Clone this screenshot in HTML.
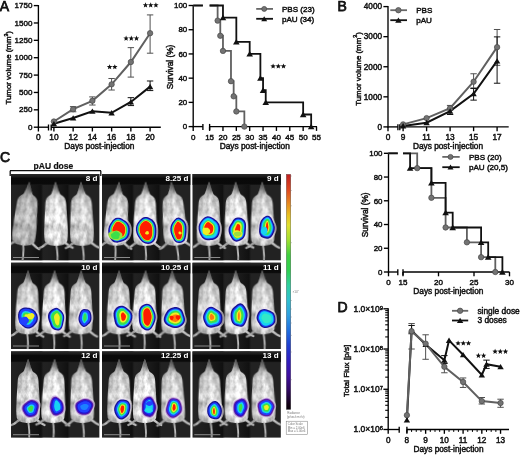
<!DOCTYPE html>
<html><head><meta charset="utf-8"><style>
html,body{margin:0;padding:0;background:#fff;}
svg{display:block;will-change:transform;filter:blur(0.3px);}
text{font-family:"Liberation Sans",sans-serif;}
</style></head><body>
<svg width="520" height="455" viewBox="0 0 520 455">
<defs>
<radialGradient id="mgA" cx="0.5" cy="0.55" r="0.6">
<stop offset="0" stop-color="#f0f0f0"/><stop offset="0.6" stop-color="#e2e2e2"/><stop offset="1" stop-color="#b4b4b4"/>
</radialGradient>
<radialGradient id="mgB" cx="0.5" cy="0.55" r="0.6">
<stop offset="0" stop-color="#dedede"/><stop offset="0.6" stop-color="#d0d0d0"/><stop offset="1" stop-color="#a6a6a6"/>
</radialGradient>
<radialGradient id="mgC" cx="0.5" cy="0.55" r="0.6">
<stop offset="0" stop-color="#c6c6c6"/><stop offset="0.6" stop-color="#b6b6b6"/><stop offset="1" stop-color="#929292"/>
</radialGradient>
<linearGradient id="cb" x1="0" y1="0" x2="0" y2="1">
<stop offset="0" stop-color="#c02020"/>
<stop offset="0.067" stop-color="#e04a20"/>
<stop offset="0.13" stop-color="#e89020"/>
<stop offset="0.173" stop-color="#e8c020"/>
<stop offset="0.216" stop-color="#e0e030"/>
<stop offset="0.28" stop-color="#a0e030"/>
<stop offset="0.344" stop-color="#40d040"/>
<stop offset="0.408" stop-color="#30d050"/>
<stop offset="0.472" stop-color="#30d0a0"/>
<stop offset="0.535" stop-color="#30c0d0"/>
<stop offset="0.598" stop-color="#30a0e0"/>
<stop offset="0.663" stop-color="#2070e0"/>
<stop offset="0.727" stop-color="#2040d0"/>
<stop offset="0.79" stop-color="#3020c0"/>
<stop offset="0.854" stop-color="#4010a0"/>
<stop offset="0.918" stop-color="#300860"/>
<stop offset="0.982" stop-color="#100010"/>
<stop offset="1" stop-color="#080008"/>
</linearGradient>
<linearGradient id="hs" x1="0" y1="0" x2="0" y2="1">
<stop offset="0" stop-color="#000" stop-opacity="0.6"/>
<stop offset="0.1" stop-color="#000" stop-opacity="0.4"/>
<stop offset="0.22" stop-color="#000" stop-opacity="0.12"/>
<stop offset="0.32" stop-color="#000" stop-opacity="0"/>
</linearGradient>
<linearGradient id="topband" x1="0" y1="0" x2="0" y2="1">
<stop offset="0" stop-color="#2a2a2a"/>
<stop offset="0.25" stop-color="#1a1a1a"/>
<stop offset="0.4" stop-color="#090909"/>
<stop offset="0.9" stop-color="#0a0a0a"/>
<stop offset="1" stop-color="#1a1a1a"/>
</linearGradient>
<linearGradient id="stripes" x1="0" y1="0" x2="1" y2="0">
<stop offset="0" stop-color="#1a1a1a" stop-opacity="0"/>
<stop offset="0.34" stop-color="#0c0c0c" stop-opacity="0.8"/>
<stop offset="0.37" stop-color="#1a1a1a" stop-opacity="0"/>
<stop offset="0.64" stop-color="#0c0c0c" stop-opacity="0.8"/>
<stop offset="0.67" stop-color="#1a1a1a" stop-opacity="0"/>
<stop offset="1" stop-color="#1a1a1a" stop-opacity="0"/>
</linearGradient>
<filter id="bl1" color-interpolation-filters="sRGB" x="-20%" y="-20%" width="140%" height="140%">
<feTurbulence type="fractalNoise" baseFrequency="0.22 0.12" numOctaves="3" seed="7" result="n"/>
<feColorMatrix in="n" type="matrix" values="1 0 0 0 0  1 0 0 0 0  1 0 0 0 0  0 0 0 0 1" result="g"/>
<feComposite in="SourceGraphic" in2="g" operator="arithmetic" k1="0.7" k2="0.65" k3="0" k4="0" result="m"/>
<feGaussianBlur in="m" stdDeviation="0.65"/>
</filter>
<filter id="bl2" x="-20%" y="-20%" width="140%" height="140%"><feGaussianBlur stdDeviation="0.45"/></filter>
</defs>
<rect width="520" height="455" fill="#fff"/>
<line x1="38.4" y1="5" x2="38.4" y2="127.8" stroke="#000" stroke-width="1.35"/>
<line x1="33.8" y1="127.2" x2="38.4" y2="127.2" stroke="#000" stroke-width="1.35"/>
<text x="32.4" y="129.8" font-size="8.0" text-anchor="end" font-weight="normal" fill="#111" stroke="#111" stroke-width="0.46" >0</text>
<line x1="33.8" y1="109.83" x2="38.4" y2="109.83" stroke="#000" stroke-width="1.35"/>
<text x="32.4" y="112.43" font-size="8.0" text-anchor="end" font-weight="normal" fill="#111" stroke="#111" stroke-width="0.46" >250</text>
<line x1="33.8" y1="92.46" x2="38.4" y2="92.46" stroke="#000" stroke-width="1.35"/>
<text x="32.4" y="95.06" font-size="8.0" text-anchor="end" font-weight="normal" fill="#111" stroke="#111" stroke-width="0.46" >500</text>
<line x1="33.8" y1="75.09" x2="38.4" y2="75.09" stroke="#000" stroke-width="1.35"/>
<text x="32.4" y="77.69" font-size="8.0" text-anchor="end" font-weight="normal" fill="#111" stroke="#111" stroke-width="0.46" >750</text>
<line x1="33.8" y1="57.71" x2="38.4" y2="57.71" stroke="#000" stroke-width="1.35"/>
<text x="32.4" y="60.31" font-size="8.0" text-anchor="end" font-weight="normal" fill="#111" stroke="#111" stroke-width="0.46" >1000</text>
<line x1="33.8" y1="40.34" x2="38.4" y2="40.34" stroke="#000" stroke-width="1.35"/>
<text x="32.4" y="42.94" font-size="8.0" text-anchor="end" font-weight="normal" fill="#111" stroke="#111" stroke-width="0.46" >1250</text>
<line x1="33.8" y1="22.97" x2="38.4" y2="22.97" stroke="#000" stroke-width="1.35"/>
<text x="32.4" y="25.57" font-size="8.0" text-anchor="end" font-weight="normal" fill="#111" stroke="#111" stroke-width="0.46" >1500</text>
<line x1="33.8" y1="5.6" x2="38.4" y2="5.6" stroke="#000" stroke-width="1.35"/>
<text x="32.4" y="8.2" font-size="8.0" text-anchor="end" font-weight="normal" fill="#111" stroke="#111" stroke-width="0.46" >1750</text>
<line x1="37.8" y1="127.2" x2="48.5" y2="127.2" stroke="#000" stroke-width="1.35"/>
<line x1="51.2" y1="127.2" x2="160.8" y2="127.2" stroke="#000" stroke-width="1.35"/>
<line x1="48.5" y1="124.5" x2="48.5" y2="130.5" stroke="#000" stroke-width="1.35"/>
<line x1="51.2" y1="124.5" x2="51.2" y2="130.5" stroke="#000" stroke-width="1.35"/>
<line x1="38.4" y1="127.2" x2="38.4" y2="131.5" stroke="#000" stroke-width="1.35"/>
<text x="38.4" y="139.6" font-size="8.4" text-anchor="middle" font-weight="normal" fill="#111" stroke="#111" stroke-width="0.46" >0</text>
<line x1="53.9" y1="127.2" x2="53.9" y2="131.5" stroke="#000" stroke-width="1.35"/>
<text x="53.9" y="139.6" font-size="8.4" text-anchor="middle" font-weight="normal" fill="#111" stroke="#111" stroke-width="0.46" >10</text>
<line x1="73.14" y1="127.2" x2="73.14" y2="131.5" stroke="#000" stroke-width="1.35"/>
<text x="73.14" y="139.6" font-size="8.4" text-anchor="middle" font-weight="normal" fill="#111" stroke="#111" stroke-width="0.46" >12</text>
<line x1="92.38" y1="127.2" x2="92.38" y2="131.5" stroke="#000" stroke-width="1.35"/>
<text x="92.38" y="139.6" font-size="8.4" text-anchor="middle" font-weight="normal" fill="#111" stroke="#111" stroke-width="0.46" >14</text>
<line x1="111.62" y1="127.2" x2="111.62" y2="131.5" stroke="#000" stroke-width="1.35"/>
<text x="111.62" y="139.6" font-size="8.4" text-anchor="middle" font-weight="normal" fill="#111" stroke="#111" stroke-width="0.46" >16</text>
<line x1="130.86" y1="127.2" x2="130.86" y2="131.5" stroke="#000" stroke-width="1.35"/>
<text x="130.86" y="139.6" font-size="8.4" text-anchor="middle" font-weight="normal" fill="#111" stroke="#111" stroke-width="0.46" >18</text>
<line x1="150.1" y1="127.2" x2="150.1" y2="131.5" stroke="#000" stroke-width="1.35"/>
<text x="150.1" y="139.6" font-size="8.4" text-anchor="middle" font-weight="normal" fill="#111" stroke="#111" stroke-width="0.46" >20</text>
<text x="99.4" y="149.2" font-size="8.3" text-anchor="middle" font-weight="normal" fill="#111" stroke="#111" stroke-width="0.46" >Days post-injection</text>
<text x="11.2" y="67.8" font-size="7.9" text-anchor="middle" transform="rotate(-90 11.2 67.8)" fill="#111" stroke="#111" stroke-width="0.46">Tumor volume (mm<tspan font-size="5.2" dy="-3.2">3</tspan><tspan dy="3.2">)</tspan></text>
<text x="-0.3" y="11.3" font-size="14" text-anchor="start" font-weight="normal" fill="#111" stroke="#111" stroke-width="0.75">A</text>
<line x1="73.14" y1="106.63" x2="73.14" y2="111.77" stroke="#505050" stroke-width="1.0"/>
<line x1="69.94" y1="106.63" x2="76.34" y2="106.63" stroke="#505050" stroke-width="1.0"/>
<line x1="69.94" y1="111.77" x2="76.34" y2="111.77" stroke="#505050" stroke-width="1.0"/>
<line x1="92.38" y1="96.9" x2="92.38" y2="105.03" stroke="#505050" stroke-width="1.0"/>
<line x1="89.18" y1="96.9" x2="95.58" y2="96.9" stroke="#505050" stroke-width="1.0"/>
<line x1="89.18" y1="105.03" x2="95.58" y2="105.03" stroke="#505050" stroke-width="1.0"/>
<line x1="111.62" y1="78.49" x2="111.62" y2="90.03" stroke="#505050" stroke-width="1.0"/>
<line x1="108.42" y1="78.49" x2="114.82" y2="78.49" stroke="#505050" stroke-width="1.0"/>
<line x1="108.42" y1="90.03" x2="114.82" y2="90.03" stroke="#505050" stroke-width="1.0"/>
<line x1="130.86" y1="47.64" x2="130.86" y2="77.1" stroke="#505050" stroke-width="1.0"/>
<line x1="127.66" y1="47.64" x2="134.06" y2="47.64" stroke="#505050" stroke-width="1.0"/>
<line x1="127.66" y1="77.1" x2="134.06" y2="77.1" stroke="#505050" stroke-width="1.0"/>
<line x1="150.1" y1="14.91" x2="150.1" y2="53.2" stroke="#505050" stroke-width="1.0"/>
<line x1="146.9" y1="14.91" x2="153.3" y2="14.91" stroke="#505050" stroke-width="1.0"/>
<line x1="146.9" y1="53.2" x2="153.3" y2="53.2" stroke="#505050" stroke-width="1.0"/>
<line x1="130.86" y1="97.67" x2="130.86" y2="105.59" stroke="#111" stroke-width="1.0"/>
<line x1="127.66" y1="97.67" x2="134.06" y2="97.67" stroke="#111" stroke-width="1.0"/>
<line x1="127.66" y1="105.59" x2="134.06" y2="105.59" stroke="#111" stroke-width="1.0"/>
<line x1="150.1" y1="80.99" x2="150.1" y2="90.58" stroke="#111" stroke-width="1.0"/>
<line x1="146.9" y1="80.99" x2="153.3" y2="80.99" stroke="#111" stroke-width="1.0"/>
<line x1="146.9" y1="90.58" x2="153.3" y2="90.58" stroke="#111" stroke-width="1.0"/>
<path d="M53.9 121.5 L73.14 109.2 L92.38 100.8 L111.62 84.33 L130.86 62.02 L150.1 33.19" fill="none" stroke="#606060" stroke-width="2" stroke-linejoin="miter"/>
<path d="M53.9 123.8 L73.14 118.03 L92.38 111.22 L111.62 112.82 L130.86 101.98 L150.1 86.62" fill="none" stroke="#111" stroke-width="2" stroke-linejoin="miter"/>
<circle cx="53.9" cy="121.5" r="2.7" fill="#737373" stroke="#484848" stroke-width="0.7"/>
<circle cx="73.14" cy="109.2" r="2.7" fill="#737373" stroke="#484848" stroke-width="0.7"/>
<circle cx="92.38" cy="100.8" r="2.7" fill="#737373" stroke="#484848" stroke-width="0.7"/>
<circle cx="111.62" cy="84.33" r="2.7" fill="#737373" stroke="#484848" stroke-width="0.7"/>
<circle cx="130.86" cy="62.02" r="2.7" fill="#737373" stroke="#484848" stroke-width="0.7"/>
<circle cx="150.1" cy="33.19" r="2.7" fill="#737373" stroke="#484848" stroke-width="0.7"/>
<path d="M53.9 120.98 L57.1 126.36 L50.7 126.36Z" fill="#111"/>
<path d="M73.14 115.21 L76.34 120.59 L69.94 120.59Z" fill="#111"/>
<path d="M92.38 108.4 L95.58 113.78 L89.18 113.78Z" fill="#111"/>
<path d="M111.62 110 L114.82 115.38 L108.42 115.38Z" fill="#111"/>
<path d="M130.86 99.16 L134.06 104.54 L127.66 104.54Z" fill="#111"/>
<path d="M150.1 83.8 L153.3 89.18 L146.9 89.18Z" fill="#111"/>
<polygon points="109.6,64.15 110.33,65.99 112.31,66.12 110.79,67.39 111.28,69.31 109.6,68.25 107.92,69.31 108.41,67.39 106.89,66.12 108.87,65.99" fill="#111"/>
<polygon points="114.8,64.15 115.53,65.99 117.51,66.12 115.99,67.39 116.48,69.31 114.8,68.25 113.12,69.31 113.61,67.39 112.09,66.12 114.07,65.99" fill="#111"/>
<polygon points="126.1,35.55 126.83,37.39 128.81,37.52 127.29,38.79 127.78,40.71 126.1,39.65 124.42,40.71 124.91,38.79 123.39,37.52 125.37,37.39" fill="#111"/>
<polygon points="131.3,35.55 132.03,37.39 134.01,37.52 132.49,38.79 132.98,40.71 131.3,39.65 129.62,40.71 130.11,38.79 128.59,37.52 130.57,37.39" fill="#111"/>
<polygon points="136.5,35.55 137.23,37.39 139.21,37.52 137.69,38.79 138.18,40.71 136.5,39.65 134.82,40.71 135.31,38.79 133.79,37.52 135.77,37.39" fill="#111"/>
<polygon points="145.5,2.35 146.23,4.19 148.21,4.32 146.69,5.59 147.18,7.51 145.5,6.45 143.82,7.51 144.31,5.59 142.79,4.32 144.77,4.19" fill="#111"/>
<polygon points="150.7,2.35 151.43,4.19 153.41,4.32 151.89,5.59 152.38,7.51 150.7,6.45 149.02,7.51 149.51,5.59 147.99,4.32 149.97,4.19" fill="#111"/>
<polygon points="155.9,2.35 156.63,4.19 158.61,4.32 157.09,5.59 157.58,7.51 155.9,6.45 154.22,7.51 154.71,5.59 153.19,4.32 155.17,4.19" fill="#111"/>
<line x1="193.2" y1="4.9" x2="193.2" y2="127.2" stroke="#000" stroke-width="1.35"/>
<line x1="188.6" y1="126.6" x2="193.2" y2="126.6" stroke="#000" stroke-width="1.35"/>
<text x="187.2" y="129.35" font-size="7.9" text-anchor="end" font-weight="normal" fill="#111" stroke="#111" stroke-width="0.46" >0</text>
<line x1="188.6" y1="102.38" x2="193.2" y2="102.38" stroke="#000" stroke-width="1.35"/>
<text x="187.2" y="105.13" font-size="7.9" text-anchor="end" font-weight="normal" fill="#111" stroke="#111" stroke-width="0.46" >20</text>
<line x1="188.6" y1="78.16" x2="193.2" y2="78.16" stroke="#000" stroke-width="1.35"/>
<text x="187.2" y="80.91" font-size="7.9" text-anchor="end" font-weight="normal" fill="#111" stroke="#111" stroke-width="0.46" >40</text>
<line x1="188.6" y1="53.94" x2="193.2" y2="53.94" stroke="#000" stroke-width="1.35"/>
<text x="187.2" y="56.69" font-size="7.9" text-anchor="end" font-weight="normal" fill="#111" stroke="#111" stroke-width="0.46" >60</text>
<line x1="188.6" y1="29.72" x2="193.2" y2="29.72" stroke="#000" stroke-width="1.35"/>
<text x="187.2" y="32.47" font-size="7.9" text-anchor="end" font-weight="normal" fill="#111" stroke="#111" stroke-width="0.46" >80</text>
<line x1="188.6" y1="5.5" x2="193.2" y2="5.5" stroke="#000" stroke-width="1.35"/>
<text x="187.2" y="8.25" font-size="7.9" text-anchor="end" font-weight="normal" fill="#111" stroke="#111" stroke-width="0.46" >100</text>
<line x1="192.6" y1="126.6" x2="202.9" y2="126.6" stroke="#000" stroke-width="1.35"/>
<line x1="209.6" y1="126.6" x2="317" y2="126.6" stroke="#000" stroke-width="1.35"/>
<line x1="202.9" y1="123.9" x2="202.9" y2="129.9" stroke="#000" stroke-width="1.35"/>
<line x1="209.6" y1="123.9" x2="209.6" y2="129.9" stroke="#000" stroke-width="1.35"/>
<line x1="193.2" y1="126.6" x2="193.2" y2="130.9" stroke="#000" stroke-width="1.35"/>
<text x="193.2" y="140.2" font-size="8.0" text-anchor="middle" font-weight="normal" fill="#111" stroke="#111" stroke-width="0.46" >0</text>
<line x1="209.6" y1="126.6" x2="209.6" y2="130.9" stroke="#000" stroke-width="1.35"/>
<text x="209.6" y="140.2" font-size="8.0" text-anchor="middle" font-weight="normal" fill="#111" stroke="#111" stroke-width="0.46" >15</text>
<line x1="222.97" y1="126.6" x2="222.97" y2="130.9" stroke="#000" stroke-width="1.35"/>
<text x="222.97" y="140.2" font-size="8.0" text-anchor="middle" font-weight="normal" fill="#111" stroke="#111" stroke-width="0.46" >20</text>
<line x1="236.33" y1="126.6" x2="236.33" y2="130.9" stroke="#000" stroke-width="1.35"/>
<text x="236.33" y="140.2" font-size="8.0" text-anchor="middle" font-weight="normal" fill="#111" stroke="#111" stroke-width="0.46" >25</text>
<line x1="249.69" y1="126.6" x2="249.69" y2="130.9" stroke="#000" stroke-width="1.35"/>
<text x="249.69" y="140.2" font-size="8.0" text-anchor="middle" font-weight="normal" fill="#111" stroke="#111" stroke-width="0.46" >30</text>
<line x1="263.06" y1="126.6" x2="263.06" y2="130.9" stroke="#000" stroke-width="1.35"/>
<text x="263.06" y="140.2" font-size="8.0" text-anchor="middle" font-weight="normal" fill="#111" stroke="#111" stroke-width="0.46" >35</text>
<line x1="276.43" y1="126.6" x2="276.43" y2="130.9" stroke="#000" stroke-width="1.35"/>
<text x="276.43" y="140.2" font-size="8.0" text-anchor="middle" font-weight="normal" fill="#111" stroke="#111" stroke-width="0.46" >40</text>
<line x1="289.79" y1="126.6" x2="289.79" y2="130.9" stroke="#000" stroke-width="1.35"/>
<text x="289.79" y="140.2" font-size="8.0" text-anchor="middle" font-weight="normal" fill="#111" stroke="#111" stroke-width="0.46" >45</text>
<line x1="303.15" y1="126.6" x2="303.15" y2="130.9" stroke="#000" stroke-width="1.35"/>
<text x="303.15" y="140.2" font-size="8.0" text-anchor="middle" font-weight="normal" fill="#111" stroke="#111" stroke-width="0.46" >50</text>
<line x1="316.52" y1="126.6" x2="316.52" y2="130.9" stroke="#000" stroke-width="1.35"/>
<text x="316.52" y="140.2" font-size="8.0" text-anchor="middle" font-weight="normal" fill="#111" stroke="#111" stroke-width="0.46" >55</text>
<text x="254.8" y="149.2" font-size="8.3" text-anchor="middle" font-weight="normal" fill="#111" stroke="#111" stroke-width="0.46" >Days post-injection</text>
<text x="173.2" y="67" font-size="8.3" text-anchor="middle" transform="rotate(-90 173.2 67)" fill="#111" stroke="#111" stroke-width="0.46">Survival (%)</text>
<line x1="193.2" y1="5.5" x2="202.9" y2="5.5" stroke="#686868" stroke-width="1.8"/>
<path d="M209.6 5.5 L217.62 5.5 L217.62 20.64 L220.29 20.64 L220.29 35.77 L222.97 35.77 L222.97 50.91 L230.98 50.91 L230.98 81.19 L233.66 81.19 L233.66 96.32 L236.33 96.32 L236.33 111.46 L244.35 111.46 L244.35 126.6" fill="none" stroke="#606060" stroke-width="1.8" stroke-linejoin="miter"/>
<line x1="193.2" y1="5.5" x2="202.9" y2="5.5" stroke="#111" stroke-width="1.8"/>
<path d="M209.6 5.5 L222.97 5.5 L222.97 17.61 L236.33 17.61 L236.33 41.83 L249.69 41.83 L249.69 53.94 L260.39 53.94 L260.39 78.16 L263.06 78.16 L263.06 90.27 L265.73 90.27 L265.73 102.38 L303.15 102.38 L303.15 114.49 L311.17 114.49 L311.17 126.6" fill="none" stroke="#111" stroke-width="1.8" stroke-linejoin="miter"/>
<circle cx="217.62" cy="20.64" r="2.7" fill="#737373" stroke="#484848" stroke-width="0.7"/>
<circle cx="220.29" cy="35.77" r="2.7" fill="#737373" stroke="#484848" stroke-width="0.7"/>
<circle cx="222.97" cy="50.91" r="2.7" fill="#737373" stroke="#484848" stroke-width="0.7"/>
<circle cx="230.98" cy="81.19" r="2.7" fill="#737373" stroke="#484848" stroke-width="0.7"/>
<circle cx="233.66" cy="96.32" r="2.7" fill="#737373" stroke="#484848" stroke-width="0.7"/>
<circle cx="236.33" cy="111.46" r="2.7" fill="#737373" stroke="#484848" stroke-width="0.7"/>
<circle cx="244.35" cy="126.6" r="2.7" fill="#737373" stroke="#484848" stroke-width="0.7"/>
<path d="M222.97 14.71 L226.27 20.25 L219.66 20.25Z" fill="#111"/>
<path d="M236.33 38.93 L239.63 44.47 L233.03 44.47Z" fill="#111"/>
<path d="M249.69 51.04 L253 56.58 L246.39 56.58Z" fill="#111"/>
<path d="M260.39 75.26 L263.69 80.8 L257.09 80.8Z" fill="#111"/>
<path d="M263.06 87.37 L266.36 92.91 L259.76 92.91Z" fill="#111"/>
<path d="M265.73 99.48 L269.03 105.02 L262.43 105.02Z" fill="#111"/>
<path d="M303.15 111.59 L306.45 117.13 L299.85 117.13Z" fill="#111"/>
<path d="M311.17 123.7 L314.47 129.24 L307.87 129.24Z" fill="#111"/>
<polygon points="273.1,63.45 273.83,65.29 275.81,65.42 274.29,66.69 274.78,68.61 273.1,67.55 271.42,68.61 271.91,66.69 270.39,65.42 272.37,65.29" fill="#111"/>
<polygon points="278.3,63.45 279.03,65.29 281.01,65.42 279.49,66.69 279.98,68.61 278.3,67.55 276.62,68.61 277.11,66.69 275.59,65.42 277.57,65.29" fill="#111"/>
<polygon points="283.5,63.45 284.23,65.29 286.21,65.42 284.69,66.69 285.18,68.61 283.5,67.55 281.82,68.61 282.31,66.69 280.79,65.42 282.77,65.29" fill="#111"/>
<line x1="256.2" y1="8.9" x2="273" y2="8.9" stroke="#686868" stroke-width="1.8"/>
<circle cx="264.2" cy="8.9" r="2.5" fill="#737373" stroke="#484848" stroke-width="0.7"/>
<line x1="256.2" y1="18.8" x2="273" y2="18.8" stroke="#111" stroke-width="1.8"/>
<path d="M264.2 16.16 L267.2 21.2 L261.2 21.2Z" fill="#111"/>
<text x="281.9" y="12.4" font-size="8.1" text-anchor="start" font-weight="normal" fill="#111" stroke="#111" stroke-width="0.46" >PBS (23)</text>
<text x="281.9" y="21.5" font-size="8.1" text-anchor="start" font-weight="normal" fill="#111" stroke="#111" stroke-width="0.46" >pAU (34)</text>
<line x1="388" y1="6" x2="388" y2="127.5" stroke="#000" stroke-width="1.35"/>
<line x1="383.4" y1="126.9" x2="388" y2="126.9" stroke="#000" stroke-width="1.35"/>
<text x="382" y="129.65" font-size="8.2" text-anchor="end" font-weight="normal" fill="#111" stroke="#111" stroke-width="0.46" >0</text>
<line x1="383.4" y1="96.83" x2="388" y2="96.83" stroke="#000" stroke-width="1.35"/>
<text x="382" y="99.58" font-size="8.2" text-anchor="end" font-weight="normal" fill="#111" stroke="#111" stroke-width="0.46" >1000</text>
<line x1="383.4" y1="66.75" x2="388" y2="66.75" stroke="#000" stroke-width="1.35"/>
<text x="382" y="69.5" font-size="8.2" text-anchor="end" font-weight="normal" fill="#111" stroke="#111" stroke-width="0.46" >2000</text>
<line x1="383.4" y1="36.67" x2="388" y2="36.67" stroke="#000" stroke-width="1.35"/>
<text x="382" y="39.42" font-size="8.2" text-anchor="end" font-weight="normal" fill="#111" stroke="#111" stroke-width="0.46" >3000</text>
<line x1="383.4" y1="6.6" x2="388" y2="6.6" stroke="#000" stroke-width="1.35"/>
<text x="382" y="9.35" font-size="8.2" text-anchor="end" font-weight="normal" fill="#111" stroke="#111" stroke-width="0.46" >4000</text>
<line x1="387.4" y1="126.9" x2="397.9" y2="126.9" stroke="#000" stroke-width="1.35"/>
<line x1="399.8" y1="126.9" x2="508.7" y2="126.9" stroke="#000" stroke-width="1.35"/>
<line x1="397.9" y1="124.2" x2="397.9" y2="130.2" stroke="#000" stroke-width="1.35"/>
<line x1="399.8" y1="124.2" x2="399.8" y2="130.2" stroke="#000" stroke-width="1.35"/>
<line x1="388" y1="126.9" x2="388" y2="131.2" stroke="#000" stroke-width="1.35"/>
<text x="388" y="140.3" font-size="8.3" text-anchor="middle" font-weight="normal" fill="#111" stroke="#111" stroke-width="0.46" >0</text>
<line x1="403.1" y1="126.9" x2="403.1" y2="131.2" stroke="#000" stroke-width="1.35"/>
<text x="403.1" y="140.3" font-size="8.3" text-anchor="middle" font-weight="normal" fill="#111" stroke="#111" stroke-width="0.46" >9</text>
<line x1="426.6" y1="126.9" x2="426.6" y2="131.2" stroke="#000" stroke-width="1.35"/>
<text x="426.6" y="140.3" font-size="8.3" text-anchor="middle" font-weight="normal" fill="#111" stroke="#111" stroke-width="0.46" >11</text>
<line x1="450.1" y1="126.9" x2="450.1" y2="131.2" stroke="#000" stroke-width="1.35"/>
<text x="450.1" y="140.3" font-size="8.3" text-anchor="middle" font-weight="normal" fill="#111" stroke="#111" stroke-width="0.46" >13</text>
<line x1="473.6" y1="126.9" x2="473.6" y2="131.2" stroke="#000" stroke-width="1.35"/>
<text x="473.6" y="140.3" font-size="8.3" text-anchor="middle" font-weight="normal" fill="#111" stroke="#111" stroke-width="0.46" >15</text>
<line x1="497.1" y1="126.9" x2="497.1" y2="131.2" stroke="#000" stroke-width="1.35"/>
<text x="497.1" y="140.3" font-size="8.3" text-anchor="middle" font-weight="normal" fill="#111" stroke="#111" stroke-width="0.46" >17</text>
<text x="448" y="149" font-size="8.3" text-anchor="middle" font-weight="normal" fill="#111" stroke="#111" stroke-width="0.46" >Days post-injection</text>
<text x="360.6" y="69" font-size="7.9" text-anchor="middle" transform="rotate(-90 360.6 69)" fill="#111" stroke="#111" stroke-width="0.46">Tumor volume (mm<tspan font-size="5.2" dy="-3.2">3</tspan><tspan dy="3.2">)</tspan></text>
<text x="337.6" y="11.2" font-size="14" text-anchor="start" font-weight="normal" fill="#111" stroke="#111" stroke-width="0.75">B</text>
<line x1="450.1" y1="105.43" x2="450.1" y2="110.06" stroke="#505050" stroke-width="1.0"/>
<line x1="446.9" y1="105.43" x2="453.3" y2="105.43" stroke="#505050" stroke-width="1.0"/>
<line x1="446.9" y1="110.06" x2="453.3" y2="110.06" stroke="#505050" stroke-width="1.0"/>
<line x1="473.6" y1="73.76" x2="473.6" y2="87.92" stroke="#505050" stroke-width="1.0"/>
<line x1="470.4" y1="73.76" x2="476.8" y2="73.76" stroke="#505050" stroke-width="1.0"/>
<line x1="470.4" y1="87.92" x2="476.8" y2="87.92" stroke="#505050" stroke-width="1.0"/>
<line x1="497.1" y1="29.49" x2="497.1" y2="65.34" stroke="#505050" stroke-width="1.0"/>
<line x1="493.9" y1="29.49" x2="500.3" y2="29.49" stroke="#505050" stroke-width="1.0"/>
<line x1="493.9" y1="65.34" x2="500.3" y2="65.34" stroke="#505050" stroke-width="1.0"/>
<line x1="450.1" y1="108.86" x2="450.1" y2="114.51" stroke="#111" stroke-width="1.0"/>
<line x1="446.9" y1="108.86" x2="453.3" y2="108.86" stroke="#111" stroke-width="1.0"/>
<line x1="446.9" y1="114.51" x2="453.3" y2="114.51" stroke="#111" stroke-width="1.0"/>
<line x1="473.6" y1="88.52" x2="473.6" y2="100.13" stroke="#111" stroke-width="1.0"/>
<line x1="470.4" y1="88.52" x2="476.8" y2="88.52" stroke="#111" stroke-width="1.0"/>
<line x1="470.4" y1="100.13" x2="476.8" y2="100.13" stroke="#111" stroke-width="1.0"/>
<line x1="497.1" y1="36.89" x2="497.1" y2="83.23" stroke="#111" stroke-width="1.0"/>
<line x1="493.9" y1="36.89" x2="500.3" y2="36.89" stroke="#111" stroke-width="1.0"/>
<line x1="493.9" y1="83.23" x2="500.3" y2="83.23" stroke="#111" stroke-width="1.0"/>
<path d="M403.1 124.4 L426.6 118.12 L450.1 108.1 L473.6 81.73 L497.1 47.17" fill="none" stroke="#606060" stroke-width="2" stroke-linejoin="miter"/>
<path d="M403.1 125.91 L426.6 122.69 L450.1 111.11 L473.6 93.73 L497.1 60.95" fill="none" stroke="#111" stroke-width="2" stroke-linejoin="miter"/>
<circle cx="403.1" cy="124.4" r="2.7" fill="#737373" stroke="#484848" stroke-width="0.7"/>
<circle cx="426.6" cy="118.12" r="2.7" fill="#737373" stroke="#484848" stroke-width="0.7"/>
<circle cx="450.1" cy="108.1" r="2.7" fill="#737373" stroke="#484848" stroke-width="0.7"/>
<circle cx="473.6" cy="81.73" r="2.7" fill="#737373" stroke="#484848" stroke-width="0.7"/>
<circle cx="497.1" cy="47.17" r="2.7" fill="#737373" stroke="#484848" stroke-width="0.7"/>
<path d="M403.1 123.09 L406.3 128.47 L399.9 128.47Z" fill="#111"/>
<path d="M426.6 119.87 L429.8 125.25 L423.4 125.25Z" fill="#111"/>
<path d="M450.1 108.29 L453.3 113.67 L446.9 113.67Z" fill="#111"/>
<path d="M473.6 90.91 L476.8 96.29 L470.4 96.29Z" fill="#111"/>
<path d="M497.1 58.13 L500.3 63.51 L493.9 63.51Z" fill="#111"/>
<line x1="390.3" y1="10.2" x2="407" y2="10.2" stroke="#686868" stroke-width="1.8"/>
<circle cx="398.4" cy="10.2" r="2.7" fill="#737373" stroke="#484848" stroke-width="0.7"/>
<line x1="390.3" y1="20.2" x2="407" y2="20.2" stroke="#111" stroke-width="1.8"/>
<path d="M398.4 17.38 L401.6 22.76 L395.2 22.76Z" fill="#111"/>
<text x="416.2" y="12.8" font-size="8.1" text-anchor="start" font-weight="normal" fill="#111" stroke="#111" stroke-width="0.46" >PBS</text>
<text x="416.2" y="22.6" font-size="8.1" text-anchor="start" font-weight="normal" fill="#111" stroke="#111" stroke-width="0.46" >pAU</text>
<line x1="388.5" y1="152.7" x2="388.5" y2="272.6" stroke="#000" stroke-width="1.35"/>
<line x1="383.9" y1="272" x2="388.5" y2="272" stroke="#000" stroke-width="1.35"/>
<text x="382.5" y="274.75" font-size="7.9" text-anchor="end" font-weight="normal" fill="#111" stroke="#111" stroke-width="0.46" >0</text>
<line x1="383.9" y1="248.26" x2="388.5" y2="248.26" stroke="#000" stroke-width="1.35"/>
<text x="382.5" y="251.01" font-size="7.9" text-anchor="end" font-weight="normal" fill="#111" stroke="#111" stroke-width="0.46" >20</text>
<line x1="383.9" y1="224.52" x2="388.5" y2="224.52" stroke="#000" stroke-width="1.35"/>
<text x="382.5" y="227.27" font-size="7.9" text-anchor="end" font-weight="normal" fill="#111" stroke="#111" stroke-width="0.46" >40</text>
<line x1="383.9" y1="200.78" x2="388.5" y2="200.78" stroke="#000" stroke-width="1.35"/>
<text x="382.5" y="203.53" font-size="7.9" text-anchor="end" font-weight="normal" fill="#111" stroke="#111" stroke-width="0.46" >60</text>
<line x1="383.9" y1="177.04" x2="388.5" y2="177.04" stroke="#000" stroke-width="1.35"/>
<text x="382.5" y="179.79" font-size="7.9" text-anchor="end" font-weight="normal" fill="#111" stroke="#111" stroke-width="0.46" >80</text>
<line x1="383.9" y1="153.3" x2="388.5" y2="153.3" stroke="#000" stroke-width="1.35"/>
<text x="382.5" y="156.05" font-size="7.9" text-anchor="end" font-weight="normal" fill="#111" stroke="#111" stroke-width="0.46" >100</text>
<line x1="387.9" y1="272" x2="397.8" y2="272" stroke="#000" stroke-width="1.35"/>
<line x1="403" y1="272" x2="509.5" y2="272" stroke="#000" stroke-width="1.35"/>
<line x1="397.8" y1="269.3" x2="397.8" y2="275.3" stroke="#000" stroke-width="1.35"/>
<line x1="403" y1="269.3" x2="403" y2="275.3" stroke="#000" stroke-width="1.35"/>
<line x1="388.5" y1="272" x2="388.5" y2="276.3" stroke="#000" stroke-width="1.35"/>
<text x="388.5" y="284.8" font-size="8.0" text-anchor="middle" font-weight="normal" fill="#111" stroke="#111" stroke-width="0.46" >0</text>
<line x1="403" y1="272" x2="403" y2="276.3" stroke="#000" stroke-width="1.35"/>
<text x="403" y="284.8" font-size="8.0" text-anchor="middle" font-weight="normal" fill="#111" stroke="#111" stroke-width="0.46" >15</text>
<line x1="438.5" y1="272" x2="438.5" y2="276.3" stroke="#000" stroke-width="1.35"/>
<text x="438.5" y="284.8" font-size="8.0" text-anchor="middle" font-weight="normal" fill="#111" stroke="#111" stroke-width="0.46" >20</text>
<line x1="474" y1="272" x2="474" y2="276.3" stroke="#000" stroke-width="1.35"/>
<text x="474" y="284.8" font-size="8.0" text-anchor="middle" font-weight="normal" fill="#111" stroke="#111" stroke-width="0.46" >25</text>
<line x1="509.5" y1="272" x2="509.5" y2="276.3" stroke="#000" stroke-width="1.35"/>
<text x="509.5" y="284.8" font-size="8.0" text-anchor="middle" font-weight="normal" fill="#111" stroke="#111" stroke-width="0.46" >30</text>
<text x="448.4" y="294" font-size="8.3" text-anchor="middle" font-weight="normal" fill="#111" stroke="#111" stroke-width="0.46" >Days post-injection</text>
<text x="368.2" y="214.8" font-size="8.3" text-anchor="middle" transform="rotate(-90 368.2 214.8)" fill="#111" stroke="#111" stroke-width="0.46">Survival (%)</text>
<line x1="388.5" y1="153.3" x2="397.8" y2="153.3" stroke="#686868" stroke-width="1.8"/>
<path d="M403 153.3 L417.2 153.3 L417.2 168.14 L431.4 168.14 L431.4 197.81 L445.6 197.81 L445.6 227.49 L466.9 227.49 L466.9 242.32 L481.1 242.32 L481.1 257.16 L495.3 257.16 L495.3 272" fill="none" stroke="#606060" stroke-width="1.8" stroke-linejoin="miter"/>
<line x1="388.5" y1="153.3" x2="397.8" y2="153.3" stroke="#111" stroke-width="1.8"/>
<path d="M403 153.3 L410.1 153.3 L410.1 168.14 L431.4 168.14 L431.4 182.97 L445.6 182.97 L445.6 212.65 L452.7 212.65 L452.7 227.49 L481.1 227.49 L481.1 242.32 L488.2 242.32 L488.2 257.16 L502.4 257.16 L502.4 272" fill="none" stroke="#111" stroke-width="1.8" stroke-linejoin="miter"/>
<circle cx="417.2" cy="168.14" r="2.7" fill="#737373" stroke="#484848" stroke-width="0.7"/>
<circle cx="431.4" cy="197.81" r="2.7" fill="#737373" stroke="#484848" stroke-width="0.7"/>
<circle cx="445.6" cy="227.49" r="2.7" fill="#737373" stroke="#484848" stroke-width="0.7"/>
<circle cx="466.9" cy="242.32" r="2.7" fill="#737373" stroke="#484848" stroke-width="0.7"/>
<circle cx="481.1" cy="257.16" r="2.7" fill="#737373" stroke="#484848" stroke-width="0.7"/>
<circle cx="495.3" cy="272" r="2.7" fill="#737373" stroke="#484848" stroke-width="0.7"/>
<path d="M410.1 165.23 L413.4 170.78 L406.8 170.78Z" fill="#111"/>
<path d="M431.4 180.07 L434.7 185.61 L428.1 185.61Z" fill="#111"/>
<path d="M445.6 209.75 L448.9 215.29 L442.3 215.29Z" fill="#111"/>
<path d="M452.7 224.58 L456 230.13 L449.4 230.13Z" fill="#111"/>
<path d="M481.1 239.42 L484.4 244.96 L477.8 244.96Z" fill="#111"/>
<path d="M488.2 254.26 L491.5 259.8 L484.9 259.8Z" fill="#111"/>
<path d="M502.4 269.1 L505.7 274.64 L499.1 274.64Z" fill="#111"/>
<line x1="442.3" y1="156.9" x2="459.7" y2="156.9" stroke="#686868" stroke-width="1.8"/>
<circle cx="450.5" cy="156.9" r="2.5" fill="#737373" stroke="#484848" stroke-width="0.7"/>
<line x1="442.3" y1="167.2" x2="459.7" y2="167.2" stroke="#111" stroke-width="1.8"/>
<path d="M450.5 164.56 L453.5 169.6 L447.5 169.6Z" fill="#111"/>
<text x="468.9" y="159.9" font-size="8.1" text-anchor="start" font-weight="normal" fill="#111" stroke="#111" stroke-width="0.46" >PBS (20)</text>
<text x="468.9" y="170.2" font-size="8.1" text-anchor="start" font-weight="normal" fill="#111" stroke="#111" stroke-width="0.46" >pAU (20,5)</text>
<line x1="388.2" y1="308.2" x2="388.2" y2="430.1" stroke="#000" stroke-width="1.35"/>
<line x1="383.4" y1="429.5" x2="388.2" y2="429.5" stroke="#000" stroke-width="1.35"/>
<text x="382.9" y="432.2" font-size="8.5" text-anchor="end" font-weight="normal" fill="#111" stroke="#111" stroke-width="0.46" >1.0×10<tspan font-size="5.8" dy="-2.0">6</tspan></text>
<line x1="383.4" y1="389.27" x2="388.2" y2="389.27" stroke="#000" stroke-width="1.35"/>
<text x="382.9" y="391.97" font-size="8.5" text-anchor="end" font-weight="normal" fill="#111" stroke="#111" stroke-width="0.46" >1.0×10<tspan font-size="5.8" dy="-2.0">7</tspan></text>
<line x1="383.4" y1="349.03" x2="388.2" y2="349.03" stroke="#000" stroke-width="1.35"/>
<text x="382.9" y="351.73" font-size="8.5" text-anchor="end" font-weight="normal" fill="#111" stroke="#111" stroke-width="0.46" >1.0×10<tspan font-size="5.8" dy="-2.0">8</tspan></text>
<line x1="383.4" y1="308.8" x2="388.2" y2="308.8" stroke="#000" stroke-width="1.35"/>
<text x="382.9" y="311.5" font-size="8.5" text-anchor="end" font-weight="normal" fill="#111" stroke="#111" stroke-width="0.46" >1.0×10<tspan font-size="5.8" dy="-2.0">9</tspan></text>
<line x1="385.2" y1="417.39" x2="388.2" y2="417.39" stroke="#000" stroke-width="1.1"/>
<line x1="385.2" y1="410.3" x2="388.2" y2="410.3" stroke="#000" stroke-width="1.1"/>
<line x1="385.2" y1="405.28" x2="388.2" y2="405.28" stroke="#000" stroke-width="1.1"/>
<line x1="385.2" y1="401.38" x2="388.2" y2="401.38" stroke="#000" stroke-width="1.1"/>
<line x1="385.2" y1="398.19" x2="388.2" y2="398.19" stroke="#000" stroke-width="1.1"/>
<line x1="385.2" y1="395.5" x2="388.2" y2="395.5" stroke="#000" stroke-width="1.1"/>
<line x1="385.2" y1="393.17" x2="388.2" y2="393.17" stroke="#000" stroke-width="1.1"/>
<line x1="385.2" y1="391.11" x2="388.2" y2="391.11" stroke="#000" stroke-width="1.1"/>
<line x1="385.2" y1="377.16" x2="388.2" y2="377.16" stroke="#000" stroke-width="1.1"/>
<line x1="385.2" y1="370.07" x2="388.2" y2="370.07" stroke="#000" stroke-width="1.1"/>
<line x1="385.2" y1="365.04" x2="388.2" y2="365.04" stroke="#000" stroke-width="1.1"/>
<line x1="385.2" y1="361.14" x2="388.2" y2="361.14" stroke="#000" stroke-width="1.1"/>
<line x1="385.2" y1="357.96" x2="388.2" y2="357.96" stroke="#000" stroke-width="1.1"/>
<line x1="385.2" y1="355.27" x2="388.2" y2="355.27" stroke="#000" stroke-width="1.1"/>
<line x1="385.2" y1="352.93" x2="388.2" y2="352.93" stroke="#000" stroke-width="1.1"/>
<line x1="385.2" y1="350.87" x2="388.2" y2="350.87" stroke="#000" stroke-width="1.1"/>
<line x1="385.2" y1="336.92" x2="388.2" y2="336.92" stroke="#000" stroke-width="1.1"/>
<line x1="385.2" y1="329.84" x2="388.2" y2="329.84" stroke="#000" stroke-width="1.1"/>
<line x1="385.2" y1="324.81" x2="388.2" y2="324.81" stroke="#000" stroke-width="1.1"/>
<line x1="385.2" y1="320.91" x2="388.2" y2="320.91" stroke="#000" stroke-width="1.1"/>
<line x1="385.2" y1="317.73" x2="388.2" y2="317.73" stroke="#000" stroke-width="1.1"/>
<line x1="385.2" y1="315.03" x2="388.2" y2="315.03" stroke="#000" stroke-width="1.1"/>
<line x1="385.2" y1="312.7" x2="388.2" y2="312.7" stroke="#000" stroke-width="1.1"/>
<line x1="385.2" y1="310.64" x2="388.2" y2="310.64" stroke="#000" stroke-width="1.1"/>
<line x1="387.6" y1="429.5" x2="399.2" y2="429.5" stroke="#000" stroke-width="1.35"/>
<line x1="406.9" y1="429.5" x2="509" y2="429.5" stroke="#000" stroke-width="1.35"/>
<line x1="399.2" y1="426.8" x2="399.2" y2="432.8" stroke="#000" stroke-width="1.35"/>
<line x1="406.9" y1="426.8" x2="406.9" y2="432.8" stroke="#000" stroke-width="1.35"/>
<line x1="388.2" y1="429.5" x2="388.2" y2="433.8" stroke="#000" stroke-width="1.35"/>
<text x="388.2" y="443.1" font-size="8.2" text-anchor="middle" font-weight="normal" fill="#111" stroke="#111" stroke-width="0.46" >0</text>
<line x1="406.9" y1="429.5" x2="406.9" y2="433.8" stroke="#000" stroke-width="1.35"/>
<text x="406.9" y="443.1" font-size="8.2" text-anchor="middle" font-weight="normal" fill="#111" stroke="#111" stroke-width="0.46" >8</text>
<line x1="425.63" y1="429.5" x2="425.63" y2="433.8" stroke="#000" stroke-width="1.35"/>
<text x="425.63" y="443.1" font-size="8.2" text-anchor="middle" font-weight="normal" fill="#111" stroke="#111" stroke-width="0.46" >9</text>
<line x1="444.36" y1="429.5" x2="444.36" y2="433.8" stroke="#000" stroke-width="1.35"/>
<text x="444.36" y="443.1" font-size="8.2" text-anchor="middle" font-weight="normal" fill="#111" stroke="#111" stroke-width="0.46" >10</text>
<line x1="463.09" y1="429.5" x2="463.09" y2="433.8" stroke="#000" stroke-width="1.35"/>
<text x="463.09" y="443.1" font-size="8.2" text-anchor="middle" font-weight="normal" fill="#111" stroke="#111" stroke-width="0.46" >11</text>
<line x1="481.82" y1="429.5" x2="481.82" y2="433.8" stroke="#000" stroke-width="1.35"/>
<text x="481.82" y="443.1" font-size="8.2" text-anchor="middle" font-weight="normal" fill="#111" stroke="#111" stroke-width="0.46" >12</text>
<line x1="500.55" y1="429.5" x2="500.55" y2="433.8" stroke="#000" stroke-width="1.35"/>
<text x="500.55" y="443.1" font-size="8.2" text-anchor="middle" font-weight="normal" fill="#111" stroke="#111" stroke-width="0.46" >13</text>
<line x1="411.58" y1="429.5" x2="411.58" y2="431.9" stroke="#000" stroke-width="1.0"/>
<line x1="416.26" y1="429.5" x2="416.26" y2="431.9" stroke="#000" stroke-width="1.0"/>
<line x1="420.95" y1="429.5" x2="420.95" y2="431.9" stroke="#000" stroke-width="1.0"/>
<line x1="430.31" y1="429.5" x2="430.31" y2="431.9" stroke="#000" stroke-width="1.0"/>
<line x1="435" y1="429.5" x2="435" y2="431.9" stroke="#000" stroke-width="1.0"/>
<line x1="439.68" y1="429.5" x2="439.68" y2="431.9" stroke="#000" stroke-width="1.0"/>
<line x1="449.04" y1="429.5" x2="449.04" y2="431.9" stroke="#000" stroke-width="1.0"/>
<line x1="453.72" y1="429.5" x2="453.72" y2="431.9" stroke="#000" stroke-width="1.0"/>
<line x1="458.41" y1="429.5" x2="458.41" y2="431.9" stroke="#000" stroke-width="1.0"/>
<line x1="467.77" y1="429.5" x2="467.77" y2="431.9" stroke="#000" stroke-width="1.0"/>
<line x1="472.45" y1="429.5" x2="472.45" y2="431.9" stroke="#000" stroke-width="1.0"/>
<line x1="477.14" y1="429.5" x2="477.14" y2="431.9" stroke="#000" stroke-width="1.0"/>
<line x1="486.5" y1="429.5" x2="486.5" y2="431.9" stroke="#000" stroke-width="1.0"/>
<line x1="491.18" y1="429.5" x2="491.18" y2="431.9" stroke="#000" stroke-width="1.0"/>
<line x1="495.87" y1="429.5" x2="495.87" y2="431.9" stroke="#000" stroke-width="1.0"/>
<text x="448.5" y="452" font-size="8.3" text-anchor="middle" font-weight="normal" fill="#111" stroke="#111" stroke-width="0.46" >Days post-injection</text>
<text x="349.4" y="370.9" font-size="8.1" text-anchor="middle" transform="rotate(-90 349.4 370.9)" fill="#111" stroke="#111" stroke-width="0.46">Total Flux [p/s]</text>
<text x="337.6" y="312.2" font-size="14" text-anchor="start" font-weight="normal" fill="#111" stroke="#111" stroke-width="0.75">D</text>
<line x1="411.58" y1="323.55" x2="411.58" y2="349.03" stroke="#505050" stroke-width="1.0"/>
<line x1="408.38" y1="323.55" x2="414.78" y2="323.55" stroke="#505050" stroke-width="1.0"/>
<line x1="408.38" y1="349.03" x2="414.78" y2="349.03" stroke="#505050" stroke-width="1.0"/>
<line x1="425.63" y1="334.79" x2="425.63" y2="359.29" stroke="#505050" stroke-width="1.0"/>
<line x1="422.43" y1="334.79" x2="428.83" y2="334.79" stroke="#505050" stroke-width="1.0"/>
<line x1="422.43" y1="359.29" x2="428.83" y2="359.29" stroke="#505050" stroke-width="1.0"/>
<line x1="444.36" y1="363.38" x2="444.36" y2="372.77" stroke="#505050" stroke-width="1.0"/>
<line x1="441.16" y1="363.38" x2="447.56" y2="363.38" stroke="#505050" stroke-width="1.0"/>
<line x1="441.16" y1="372.77" x2="447.56" y2="372.77" stroke="#505050" stroke-width="1.0"/>
<line x1="463.09" y1="377.96" x2="463.09" y2="387.44" stroke="#505050" stroke-width="1.0"/>
<line x1="459.89" y1="377.96" x2="466.29" y2="377.96" stroke="#505050" stroke-width="1.0"/>
<line x1="459.89" y1="387.44" x2="466.29" y2="387.44" stroke="#505050" stroke-width="1.0"/>
<line x1="481.82" y1="397.51" x2="481.82" y2="404.01" stroke="#505050" stroke-width="1.0"/>
<line x1="478.62" y1="397.51" x2="485.02" y2="397.51" stroke="#505050" stroke-width="1.0"/>
<line x1="478.62" y1="404.01" x2="485.02" y2="404.01" stroke="#505050" stroke-width="1.0"/>
<line x1="500.55" y1="399.21" x2="500.55" y2="407.31" stroke="#505050" stroke-width="1.0"/>
<line x1="497.35" y1="399.21" x2="503.75" y2="399.21" stroke="#505050" stroke-width="1.0"/>
<line x1="497.35" y1="407.31" x2="503.75" y2="407.31" stroke="#505050" stroke-width="1.0"/>
<line x1="411.58" y1="325.48" x2="411.58" y2="333.74" stroke="#111" stroke-width="1.0"/>
<line x1="408.38" y1="325.48" x2="414.78" y2="325.48" stroke="#111" stroke-width="1.0"/>
<line x1="408.38" y1="333.74" x2="414.78" y2="333.74" stroke="#111" stroke-width="1.0"/>
<line x1="444.36" y1="355.59" x2="444.36" y2="363.38" stroke="#111" stroke-width="1.0"/>
<line x1="441.16" y1="355.59" x2="447.56" y2="355.59" stroke="#111" stroke-width="1.0"/>
<line x1="441.16" y1="363.38" x2="447.56" y2="363.38" stroke="#111" stroke-width="1.0"/>
<line x1="486.5" y1="360.13" x2="486.5" y2="368.41" stroke="#111" stroke-width="1.0"/>
<line x1="483.3" y1="360.13" x2="489.7" y2="360.13" stroke="#111" stroke-width="1.0"/>
<line x1="483.3" y1="368.41" x2="489.7" y2="368.41" stroke="#111" stroke-width="1.0"/>
<path d="M406.9 420.02 L411.58 330.43 L425.63 344.45 L444.36 360.29 L449.04 340.39 L463.09 354.77 L481.82 375.02 L486.5 364.19 L500.55 366.69" fill="none" stroke="#111" stroke-width="2" stroke-linejoin="miter"/>
<path d="M406.9 415.18 L411.58 331.23 L425.63 343.66 L444.36 366.79 L463.09 381.95 L481.82 401.1 L500.55 402.99" fill="none" stroke="#606060" stroke-width="2" stroke-linejoin="miter"/>
<path d="M406.9 417.21 L410.1 422.58 L403.7 422.58Z" fill="#111"/>
<path d="M411.58 327.61 L414.78 332.99 L408.38 332.99Z" fill="#111"/>
<path d="M425.63 341.63 L428.83 347.01 L422.43 347.01Z" fill="#111"/>
<path d="M444.36 357.48 L447.56 362.85 L441.16 362.85Z" fill="#111"/>
<path d="M449.04 337.57 L452.24 342.95 L445.84 342.95Z" fill="#111"/>
<path d="M463.09 351.96 L466.29 357.33 L459.89 357.33Z" fill="#111"/>
<path d="M481.82 372.2 L485.02 377.58 L478.62 377.58Z" fill="#111"/>
<path d="M486.5 361.38 L489.7 366.75 L483.3 366.75Z" fill="#111"/>
<path d="M500.55 363.88 L503.75 369.25 L497.35 369.25Z" fill="#111"/>
<circle cx="406.9" cy="415.18" r="2.7" fill="#737373" stroke="#484848" stroke-width="0.7"/>
<circle cx="411.58" cy="331.23" r="2.7" fill="#737373" stroke="#484848" stroke-width="0.7"/>
<circle cx="425.63" cy="343.66" r="2.7" fill="#737373" stroke="#484848" stroke-width="0.7"/>
<circle cx="444.36" cy="366.79" r="2.7" fill="#737373" stroke="#484848" stroke-width="0.7"/>
<circle cx="463.09" cy="381.95" r="2.7" fill="#737373" stroke="#484848" stroke-width="0.7"/>
<circle cx="481.82" cy="401.1" r="2.7" fill="#737373" stroke="#484848" stroke-width="0.7"/>
<circle cx="500.55" cy="402.99" r="2.7" fill="#737373" stroke="#484848" stroke-width="0.7"/>
<polygon points="458.1,340.45 458.83,342.29 460.81,342.42 459.29,343.69 459.78,345.61 458.1,344.55 456.42,345.61 456.91,343.69 455.39,342.42 457.37,342.29" fill="#111"/>
<polygon points="463.3,340.45 464.03,342.29 466.01,342.42 464.49,343.69 464.98,345.61 463.3,344.55 461.62,345.61 462.11,343.69 460.59,342.42 462.57,342.29" fill="#111"/>
<polygon points="468.5,340.45 469.23,342.29 471.21,342.42 469.69,343.69 470.18,345.61 468.5,344.55 466.82,345.61 467.31,343.69 465.79,342.42 467.77,342.29" fill="#111"/>
<polygon points="478.4,352.85 479.13,354.69 481.11,354.82 479.59,356.09 480.08,358.01 478.4,356.95 476.72,358.01 477.21,356.09 475.69,354.82 477.67,354.69" fill="#111"/>
<polygon points="483.6,352.85 484.33,354.69 486.31,354.82 484.79,356.09 485.28,358.01 483.6,356.95 481.92,358.01 482.41,356.09 480.89,354.82 482.87,354.69" fill="#111"/>
<polygon points="495.1,348.75 495.83,350.59 497.81,350.72 496.29,351.99 496.78,353.91 495.1,352.85 493.42,353.91 493.91,351.99 492.39,350.72 494.37,350.59" fill="#111"/>
<polygon points="500.3,348.75 501.03,350.59 503.01,350.72 501.49,351.99 501.98,353.91 500.3,352.85 498.62,353.91 499.11,351.99 497.59,350.72 499.57,350.59" fill="#111"/>
<polygon points="505.5,348.75 506.23,350.59 508.21,350.72 506.69,351.99 507.18,353.91 505.5,352.85 503.82,353.91 504.31,351.99 502.79,350.72 504.77,350.59" fill="#111"/>
<line x1="452" y1="310.8" x2="468.2" y2="310.8" stroke="#686868" stroke-width="1.8"/>
<circle cx="460.1" cy="310.8" r="2.7" fill="#737373" stroke="#484848" stroke-width="0.7"/>
<line x1="452" y1="320.5" x2="468.2" y2="320.5" stroke="#111" stroke-width="1.8"/>
<path d="M460.1 317.68 L463.3 323.06 L456.9 323.06Z" fill="#111"/>
<text x="477.4" y="313.5" font-size="8.4" text-anchor="start" font-weight="normal" fill="#111" stroke="#111" stroke-width="0.46" >single dose</text>
<text x="477.4" y="322.9" font-size="8.4" text-anchor="start" font-weight="normal" fill="#111" stroke="#111" stroke-width="0.46" >3 doses</text>
<clipPath id="cp00"><rect x="11" y="174" width="88.6" height="86.6"/></clipPath>
<g clip-path="url(#cp00)">
<rect x="11" y="174" width="88.6" height="86.6" fill="#222"/>
<rect x="11" y="174" width="88.6" height="86.6" fill="url(#stripes)"/>
<rect x="11" y="174" width="88.6" height="11" fill="url(#topband)"/>
<g transform="translate(29.4 181.8) rotate(5.74)" filter="url(#bl1)"><path d="M7.5 60 L13.5 64.5 L16.5 66 M-7.5 60 L-13.5 64.5 L-16.5 66" fill="none" stroke="#b8b8b8" stroke-width="2.2" stroke-linecap="round"/><path d="M0 62 C1 68 1.6 73 1 79" fill="none" stroke="#b0b0b0" stroke-width="1.9" stroke-linecap="round"/><path d="M0 0 C 0.60 1.00 1.20 2.60 1.70 4.60 C 2.30 7.00 3.20 9.80 4.40 12.30 C 5.80 13.60 7.80 14.60 9.00 16.20 C 9.80 17.60 10.20 19.50 10.40 22.00 C 10.80 28.00 11.30 36.00 11.70 44.00 C 12.00 50.00 12.00 55.00 11.40 58.50 C 10.80 60.80 9.60 62.00 7.00 62.90 C 4.00 63.60 2.00 64.00 0.00 64.00 C -2.00 64.00 -4.00 63.60 -7.00 62.90 C -9.60 62.00 -10.80 60.80 -11.40 58.50 C -12.00 55.00 -12.00 50.00 -11.70 44.00 C -11.30 36.00 -10.80 28.00 -10.40 22.00 C -10.20 19.50 -9.80 17.60 -9.00 16.20 C -7.80 14.60 -5.80 13.60 -4.40 12.30 C -3.20 9.80 -2.30 7.00 -1.70 4.60 C -1.20 2.60 -0.60 1.00 0.00 0.00 Z" fill="url(#mgC)"/><path d="M0 0 C 0.60 1.00 1.20 2.60 1.70 4.60 C 2.30 7.00 3.20 9.80 4.40 12.30 C 5.80 13.60 7.80 14.60 9.00 16.20 C 9.80 17.60 10.20 19.50 10.40 22.00 C 10.80 28.00 11.30 36.00 11.70 44.00 C 12.00 50.00 12.00 55.00 11.40 58.50 C 10.80 60.80 9.60 62.00 7.00 62.90 C 4.00 63.60 2.00 64.00 0.00 64.00 C -2.00 64.00 -4.00 63.60 -7.00 62.90 C -9.60 62.00 -10.80 60.80 -11.40 58.50 C -12.00 55.00 -12.00 50.00 -11.70 44.00 C -11.30 36.00 -10.80 28.00 -10.40 22.00 C -10.20 19.50 -9.80 17.60 -9.00 16.20 C -7.80 14.60 -5.80 13.60 -4.40 12.30 C -3.20 9.80 -2.30 7.00 -1.70 4.60 C -1.20 2.60 -0.60 1.00 0.00 0.00 Z" fill="url(#hs)"/></g>
<g transform="translate(55.5 181.8) rotate(-0.64)" filter="url(#bl1)"><path d="M7.5 60 L13.5 64.5 L16.5 66 M-7.5 60 L-13.5 64.5 L-16.5 66" fill="none" stroke="#b8b8b8" stroke-width="2.2" stroke-linecap="round"/><path d="M0 62 C1 68 1.6 73 1 79" fill="none" stroke="#b0b0b0" stroke-width="1.9" stroke-linecap="round"/><path d="M0 0 C 0.60 1.00 1.20 2.60 1.70 4.60 C 2.30 7.00 3.20 9.80 4.40 12.30 C 5.80 13.60 7.80 14.60 9.00 16.20 C 9.80 17.60 10.20 19.50 10.40 22.00 C 10.80 28.00 11.30 36.00 11.70 44.00 C 12.00 50.00 12.00 55.00 11.40 58.50 C 10.80 60.80 9.60 62.00 7.00 62.90 C 4.00 63.60 2.00 64.00 0.00 64.00 C -2.00 64.00 -4.00 63.60 -7.00 62.90 C -9.60 62.00 -10.80 60.80 -11.40 58.50 C -12.00 55.00 -12.00 50.00 -11.70 44.00 C -11.30 36.00 -10.80 28.00 -10.40 22.00 C -10.20 19.50 -9.80 17.60 -9.00 16.20 C -7.80 14.60 -5.80 13.60 -4.40 12.30 C -3.20 9.80 -2.30 7.00 -1.70 4.60 C -1.20 2.60 -0.60 1.00 0.00 0.00 Z" fill="url(#mgA)"/><path d="M0 0 C 0.60 1.00 1.20 2.60 1.70 4.60 C 2.30 7.00 3.20 9.80 4.40 12.30 C 5.80 13.60 7.80 14.60 9.00 16.20 C 9.80 17.60 10.20 19.50 10.40 22.00 C 10.80 28.00 11.30 36.00 11.70 44.00 C 12.00 50.00 12.00 55.00 11.40 58.50 C 10.80 60.80 9.60 62.00 7.00 62.90 C 4.00 63.60 2.00 64.00 0.00 64.00 C -2.00 64.00 -4.00 63.60 -7.00 62.90 C -9.60 62.00 -10.80 60.80 -11.40 58.50 C -12.00 55.00 -12.00 50.00 -11.70 44.00 C -11.30 36.00 -10.80 28.00 -10.40 22.00 C -10.20 19.50 -9.80 17.60 -9.00 16.20 C -7.80 14.60 -5.80 13.60 -4.40 12.30 C -3.20 9.80 -2.30 7.00 -1.70 4.60 C -1.20 2.60 -0.60 1.00 0.00 0.00 Z" fill="url(#hs)"/></g>
<g transform="translate(81 181.8) rotate(-1.15)" filter="url(#bl1)"><path d="M7.5 60 L13.5 64.5 L16.5 66 M-7.5 60 L-13.5 64.5 L-16.5 66" fill="none" stroke="#b8b8b8" stroke-width="2.2" stroke-linecap="round"/><path d="M0 62 C1 68 1.6 73 1 79" fill="none" stroke="#b0b0b0" stroke-width="1.9" stroke-linecap="round"/><path d="M0 0 C 0.60 1.00 1.20 2.60 1.70 4.60 C 2.30 7.00 3.20 9.80 4.40 12.30 C 5.80 13.60 7.80 14.60 9.00 16.20 C 9.80 17.60 10.20 19.50 10.40 22.00 C 10.80 28.00 11.30 36.00 11.70 44.00 C 12.00 50.00 12.00 55.00 11.40 58.50 C 10.80 60.80 9.60 62.00 7.00 62.90 C 4.00 63.60 2.00 64.00 0.00 64.00 C -2.00 64.00 -4.00 63.60 -7.00 62.90 C -9.60 62.00 -10.80 60.80 -11.40 58.50 C -12.00 55.00 -12.00 50.00 -11.70 44.00 C -11.30 36.00 -10.80 28.00 -10.40 22.00 C -10.20 19.50 -9.80 17.60 -9.00 16.20 C -7.80 14.60 -5.80 13.60 -4.40 12.30 C -3.20 9.80 -2.30 7.00 -1.70 4.60 C -1.20 2.60 -0.60 1.00 0.00 0.00 Z" fill="url(#mgB)"/><path d="M0 0 C 0.60 1.00 1.20 2.60 1.70 4.60 C 2.30 7.00 3.20 9.80 4.40 12.30 C 5.80 13.60 7.80 14.60 9.00 16.20 C 9.80 17.60 10.20 19.50 10.40 22.00 C 10.80 28.00 11.30 36.00 11.70 44.00 C 12.00 50.00 12.00 55.00 11.40 58.50 C 10.80 60.80 9.60 62.00 7.00 62.90 C 4.00 63.60 2.00 64.00 0.00 64.00 C -2.00 64.00 -4.00 63.60 -7.00 62.90 C -9.60 62.00 -10.80 60.80 -11.40 58.50 C -12.00 55.00 -12.00 50.00 -11.70 44.00 C -11.30 36.00 -10.80 28.00 -10.40 22.00 C -10.20 19.50 -9.80 17.60 -9.00 16.20 C -7.80 14.60 -5.80 13.60 -4.40 12.30 C -3.20 9.80 -2.30 7.00 -1.70 4.60 C -1.20 2.60 -0.60 1.00 0.00 0.00 Z" fill="url(#hs)"/></g>
<rect x="13" y="257" width="26" height="1" fill="#8a8a8a"/>
<text x="97.4" y="181.1" font-size="8.1" text-anchor="end" font-weight="bold" fill="#fff" >8 d</text>
</g>
<clipPath id="cp01"><rect x="102" y="174" width="88.6" height="86.6"/></clipPath>
<g clip-path="url(#cp01)">
<rect x="102" y="174" width="88.6" height="86.6" fill="#222"/>
<rect x="102" y="174" width="88.6" height="86.6" fill="url(#stripes)"/>
<rect x="102" y="174" width="88.6" height="11" fill="url(#topband)"/>
<g transform="translate(119.1 181.8) rotate(3.69)" filter="url(#bl1)"><path d="M7.5 60 L13.5 64.5 L16.5 66 M-7.5 60 L-13.5 64.5 L-16.5 66" fill="none" stroke="#b8b8b8" stroke-width="2.2" stroke-linecap="round"/><path d="M0 62 C1 68 1.6 73 1 79" fill="none" stroke="#b0b0b0" stroke-width="1.9" stroke-linecap="round"/><path d="M0 0 C 0.60 1.00 1.20 2.60 1.70 4.60 C 2.30 7.00 3.20 9.80 4.40 12.30 C 5.80 13.60 7.80 14.60 9.00 16.20 C 9.80 17.60 10.20 19.50 10.40 22.00 C 10.80 28.00 11.30 36.00 11.70 44.00 C 12.00 50.00 12.00 55.00 11.40 58.50 C 10.80 60.80 9.60 62.00 7.00 62.90 C 4.00 63.60 2.00 64.00 0.00 64.00 C -2.00 64.00 -4.00 63.60 -7.00 62.90 C -9.60 62.00 -10.80 60.80 -11.40 58.50 C -12.00 55.00 -12.00 50.00 -11.70 44.00 C -11.30 36.00 -10.80 28.00 -10.40 22.00 C -10.20 19.50 -9.80 17.60 -9.00 16.20 C -7.80 14.60 -5.80 13.60 -4.40 12.30 C -3.20 9.80 -2.30 7.00 -1.70 4.60 C -1.20 2.60 -0.60 1.00 0.00 0.00 Z" fill="url(#mgB)"/><path d="M0 0 C 0.60 1.00 1.20 2.60 1.70 4.60 C 2.30 7.00 3.20 9.80 4.40 12.30 C 5.80 13.60 7.80 14.60 9.00 16.20 C 9.80 17.60 10.20 19.50 10.40 22.00 C 10.80 28.00 11.30 36.00 11.70 44.00 C 12.00 50.00 12.00 55.00 11.40 58.50 C 10.80 60.80 9.60 62.00 7.00 62.90 C 4.00 63.60 2.00 64.00 0.00 64.00 C -2.00 64.00 -4.00 63.60 -7.00 62.90 C -9.60 62.00 -10.80 60.80 -11.40 58.50 C -12.00 55.00 -12.00 50.00 -11.70 44.00 C -11.30 36.00 -10.80 28.00 -10.40 22.00 C -10.20 19.50 -9.80 17.60 -9.00 16.20 C -7.80 14.60 -5.80 13.60 -4.40 12.30 C -3.20 9.80 -2.30 7.00 -1.70 4.60 C -1.20 2.60 -0.60 1.00 0.00 0.00 Z" fill="url(#hs)"/></g>
<g transform="translate(145.7 181.8) rotate(0.64)" filter="url(#bl1)"><path d="M7.5 60 L13.5 64.5 L16.5 66 M-7.5 60 L-13.5 64.5 L-16.5 66" fill="none" stroke="#b8b8b8" stroke-width="2.2" stroke-linecap="round"/><path d="M0 62 C1 68 1.6 73 1 79" fill="none" stroke="#b0b0b0" stroke-width="1.9" stroke-linecap="round"/><path d="M0 0 C 0.60 1.00 1.20 2.60 1.70 4.60 C 2.30 7.00 3.20 9.80 4.40 12.30 C 5.80 13.60 7.80 14.60 9.00 16.20 C 9.80 17.60 10.20 19.50 10.40 22.00 C 10.80 28.00 11.30 36.00 11.70 44.00 C 12.00 50.00 12.00 55.00 11.40 58.50 C 10.80 60.80 9.60 62.00 7.00 62.90 C 4.00 63.60 2.00 64.00 0.00 64.00 C -2.00 64.00 -4.00 63.60 -7.00 62.90 C -9.60 62.00 -10.80 60.80 -11.40 58.50 C -12.00 55.00 -12.00 50.00 -11.70 44.00 C -11.30 36.00 -10.80 28.00 -10.40 22.00 C -10.20 19.50 -9.80 17.60 -9.00 16.20 C -7.80 14.60 -5.80 13.60 -4.40 12.30 C -3.20 9.80 -2.30 7.00 -1.70 4.60 C -1.20 2.60 -0.60 1.00 0.00 0.00 Z" fill="url(#mgA)"/><path d="M0 0 C 0.60 1.00 1.20 2.60 1.70 4.60 C 2.30 7.00 3.20 9.80 4.40 12.30 C 5.80 13.60 7.80 14.60 9.00 16.20 C 9.80 17.60 10.20 19.50 10.40 22.00 C 10.80 28.00 11.30 36.00 11.70 44.00 C 12.00 50.00 12.00 55.00 11.40 58.50 C 10.80 60.80 9.60 62.00 7.00 62.90 C 4.00 63.60 2.00 64.00 0.00 64.00 C -2.00 64.00 -4.00 63.60 -7.00 62.90 C -9.60 62.00 -10.80 60.80 -11.40 58.50 C -12.00 55.00 -12.00 50.00 -11.70 44.00 C -11.30 36.00 -10.80 28.00 -10.40 22.00 C -10.20 19.50 -9.80 17.60 -9.00 16.20 C -7.80 14.60 -5.80 13.60 -4.40 12.30 C -3.20 9.80 -2.30 7.00 -1.70 4.60 C -1.20 2.60 -0.60 1.00 0.00 0.00 Z" fill="url(#hs)"/></g>
<g transform="translate(171.3 181.8) rotate(-4.46)" filter="url(#bl1)"><path d="M7.5 60 L13.5 64.5 L16.5 66 M-7.5 60 L-13.5 64.5 L-16.5 66" fill="none" stroke="#b8b8b8" stroke-width="2.2" stroke-linecap="round"/><path d="M0 62 C1 68 1.6 73 1 79" fill="none" stroke="#b0b0b0" stroke-width="1.9" stroke-linecap="round"/><path d="M0 0 C 0.60 1.00 1.20 2.60 1.70 4.60 C 2.30 7.00 3.20 9.80 4.40 12.30 C 5.80 13.60 7.80 14.60 9.00 16.20 C 9.80 17.60 10.20 19.50 10.40 22.00 C 10.80 28.00 11.30 36.00 11.70 44.00 C 12.00 50.00 12.00 55.00 11.40 58.50 C 10.80 60.80 9.60 62.00 7.00 62.90 C 4.00 63.60 2.00 64.00 0.00 64.00 C -2.00 64.00 -4.00 63.60 -7.00 62.90 C -9.60 62.00 -10.80 60.80 -11.40 58.50 C -12.00 55.00 -12.00 50.00 -11.70 44.00 C -11.30 36.00 -10.80 28.00 -10.40 22.00 C -10.20 19.50 -9.80 17.60 -9.00 16.20 C -7.80 14.60 -5.80 13.60 -4.40 12.30 C -3.20 9.80 -2.30 7.00 -1.70 4.60 C -1.20 2.60 -0.60 1.00 0.00 0.00 Z" fill="url(#mgB)"/><path d="M0 0 C 0.60 1.00 1.20 2.60 1.70 4.60 C 2.30 7.00 3.20 9.80 4.40 12.30 C 5.80 13.60 7.80 14.60 9.00 16.20 C 9.80 17.60 10.20 19.50 10.40 22.00 C 10.80 28.00 11.30 36.00 11.70 44.00 C 12.00 50.00 12.00 55.00 11.40 58.50 C 10.80 60.80 9.60 62.00 7.00 62.90 C 4.00 63.60 2.00 64.00 0.00 64.00 C -2.00 64.00 -4.00 63.60 -7.00 62.90 C -9.60 62.00 -10.80 60.80 -11.40 58.50 C -12.00 55.00 -12.00 50.00 -11.70 44.00 C -11.30 36.00 -10.80 28.00 -10.40 22.00 C -10.20 19.50 -9.80 17.60 -9.00 16.20 C -7.80 14.60 -5.80 13.60 -4.40 12.30 C -3.20 9.80 -2.30 7.00 -1.70 4.60 C -1.20 2.60 -0.60 1.00 0.00 0.00 Z" fill="url(#hs)"/></g>
<g filter="url(#bl2)"><path d="M131.84 230.40 L131.63 232.78 L131.13 235.08 L130.30 237.25 L129.11 239.14 L127.58 240.63 L125.84 241.66 L124.05 242.32 L122.32 242.80 L120.63 243.28 L118.90 243.82 L117.04 244.27 L115.05 244.38 L113.06 243.92 L111.24 242.84 L109.71 241.23 L108.51 239.30 L107.59 237.19 L106.90 235.00 L106.46 232.72 L106.35 230.40 L106.64 228.11 L107.30 225.96 L108.24 224.00 L109.32 222.20 L110.50 220.50 L111.79 218.86 L113.28 217.40 L115.02 216.31 L116.94 215.78 L118.90 215.86 L120.77 216.45 L122.51 217.31 L124.15 218.25 L125.78 219.23 L127.42 220.36 L128.98 221.77 L130.29 223.56 L131.22 225.68 L131.72 228.01Z" fill="#ece4f0" opacity="0.6"/><path d="M129.83 230.40 L129.67 232.46 L129.25 234.47 L128.56 236.35 L127.57 238.02 L126.31 239.37 L124.88 240.35 L123.37 241.01 L121.88 241.50 L120.41 241.93 L118.90 242.34 L117.30 242.63 L115.62 242.61 L113.96 242.14 L112.43 241.17 L111.14 239.78 L110.11 238.13 L109.31 236.31 L108.71 234.41 L108.33 232.42 L108.23 230.40 L108.45 228.40 L108.98 226.50 L109.75 224.76 L110.66 223.16 L111.68 221.66 L112.81 220.26 L114.11 219.03 L115.60 218.11 L117.23 217.65 L118.90 217.67 L120.51 218.12 L122.01 218.81 L123.44 219.63 L124.83 220.52 L126.20 221.57 L127.48 222.86 L128.55 224.45 L129.31 226.31 L129.73 228.32Z" fill="#18138e"/><path d="M128.57 230.32 L128.42 232.19 L128.05 234.02 L127.43 235.73 L126.55 237.23 L125.42 238.44 L124.13 239.30 L122.79 239.87 L121.47 240.29 L120.18 240.68 L118.85 241.07 L117.44 241.37 L115.94 241.39 L114.46 240.98 L113.10 240.11 L111.95 238.85 L111.04 237.34 L110.33 235.69 L109.81 233.95 L109.47 232.16 L109.39 230.32 L109.59 228.51 L110.07 226.79 L110.76 225.22 L111.58 223.78 L112.47 222.43 L113.46 221.15 L114.61 220.02 L115.92 219.17 L117.37 218.75 L118.85 218.80 L120.27 219.22 L121.60 219.87 L122.85 220.61 L124.09 221.41 L125.31 222.33 L126.46 223.49 L127.42 224.92 L128.11 226.60 L128.48 228.43Z" fill="#2040ff"/><path d="M127.94 230.28 L127.80 232.06 L127.45 233.79 L126.87 235.41 L126.03 236.84 L124.97 237.97 L123.76 238.78 L122.50 239.30 L121.27 239.69 L120.06 240.06 L118.83 240.44 L117.51 240.74 L116.11 240.78 L114.71 240.41 L113.43 239.58 L112.36 238.38 L111.51 236.94 L110.85 235.37 L110.36 233.73 L110.05 232.02 L109.97 230.28 L110.16 228.56 L110.62 226.94 L111.27 225.45 L112.03 224.09 L112.87 222.81 L113.79 221.60 L114.86 220.51 L116.09 219.71 L117.44 219.31 L118.83 219.36 L120.16 219.77 L121.39 220.39 L122.56 221.10 L123.72 221.85 L124.86 222.72 L125.95 223.80 L126.86 225.15 L127.51 226.75 L127.86 228.49Z" fill="#14d2f2"/><path d="M127.20 230.23 L127.06 231.90 L126.74 233.52 L126.20 235.04 L125.43 236.38 L124.45 237.43 L123.32 238.17 L122.16 238.65 L121.03 238.99 L119.93 239.34 L118.80 239.71 L117.59 240.00 L116.29 240.06 L115.01 239.73 L113.83 238.96 L112.84 237.84 L112.06 236.48 L111.45 235.01 L111.00 233.46 L110.72 231.87 L110.64 230.23 L110.83 228.62 L111.25 227.11 L111.86 225.72 L112.56 224.46 L113.33 223.26 L114.17 222.11 L115.15 221.09 L116.28 220.33 L117.52 219.96 L118.80 220.01 L120.02 220.41 L121.15 221.01 L122.22 221.67 L123.28 222.36 L124.35 223.16 L125.35 224.17 L126.20 225.43 L126.80 226.92 L127.12 228.55Z" fill="#3ce04a"/><path d="M126.02 230.16 L125.91 231.65 L125.62 233.10 L125.16 234.46 L124.49 235.65 L123.62 236.58 L122.64 237.22 L121.64 237.62 L120.67 237.92 L119.72 238.22 L118.76 238.56 L117.71 238.86 L116.59 238.94 L115.47 238.66 L114.45 237.98 L113.59 236.97 L112.92 235.75 L112.41 234.43 L112.02 233.05 L111.77 231.62 L111.71 230.16 L111.87 228.72 L112.25 227.37 L112.78 226.14 L113.39 225.02 L114.05 223.95 L114.77 222.92 L115.60 222.00 L116.58 221.31 L117.65 220.98 L118.76 221.04 L119.81 221.41 L120.78 221.96 L121.69 222.55 L122.61 223.16 L123.53 223.86 L124.41 224.74 L125.15 225.86 L125.68 227.19 L125.96 228.66Z" fill="#f0ee22"/><path d="M125.27 230.11 L125.16 231.50 L124.91 232.84 L124.49 234.09 L123.88 235.19 L123.10 236.04 L122.22 236.62 L121.31 236.98 L120.43 237.24 L119.59 237.52 L118.73 237.84 L117.79 238.13 L116.78 238.22 L115.77 237.97 L114.85 237.35 L114.08 236.41 L113.48 235.28 L113.01 234.06 L112.67 232.78 L112.45 231.46 L112.39 230.11 L112.54 228.79 L112.88 227.54 L113.36 226.41 L113.91 225.38 L114.50 224.39 L115.15 223.44 L115.89 222.58 L116.77 221.94 L117.74 221.63 L118.73 221.69 L119.67 222.05 L120.54 222.56 L121.36 223.11 L122.18 223.67 L123.02 224.30 L123.81 225.11 L124.48 226.14 L124.96 227.37 L125.22 228.72Z" fill="#ff1c00"/><path d="M122.35 235.40 L122.11 236.19 L121.72 236.93 L121.28 237.63 L120.83 238.33 L120.30 239.04 L119.61 239.69 L118.71 240.18 L117.65 240.42 L116.54 240.40 L115.50 240.18 L114.56 239.90 L113.68 239.64 L112.81 239.40 L111.92 239.14 L111.04 238.78 L110.26 238.28 L109.62 237.67 L109.13 236.97 L108.73 236.21 L108.43 235.40 L108.30 234.54 L108.43 233.66 L108.90 232.85 L109.71 232.21 L110.73 231.79 L111.80 231.54 L112.79 231.37 L113.69 231.19 L114.57 230.95 L115.50 230.73 L116.50 230.61 L117.52 230.68 L118.49 230.96 L119.36 231.38 L120.14 231.88 L120.86 232.45 L121.52 233.08 L122.05 233.79 L122.34 234.58Z" fill="#9ee23a"/><path d="M119.67 235.40 L119.48 235.88 L119.37 236.35 L119.33 236.88 L119.26 237.47 L119.02 238.07 L118.54 238.57 L117.85 238.89 L117.06 239.04 L116.26 239.05 L115.50 239.03 L114.75 239.00 L113.98 238.94 L113.22 238.79 L112.54 238.49 L112.01 238.04 L111.66 237.52 L111.41 236.98 L111.19 236.46 L110.98 235.94 L110.81 235.40 L110.79 234.84 L111.00 234.29 L111.43 233.83 L111.98 233.46 L112.53 233.15 L113.01 232.81 L113.48 232.40 L114.02 231.95 L114.70 231.56 L115.50 231.34 L116.35 231.36 L117.14 231.59 L117.82 231.95 L118.42 232.35 L118.96 232.78 L119.43 233.24 L119.77 233.75 L119.92 234.31 L119.86 234.88Z" fill="#3ce04a"/><path d="M118.02 235.40 L118.10 235.71 L118.18 236.06 L118.19 236.44 L118.07 236.81 L117.80 237.14 L117.41 237.39 L116.96 237.57 L116.48 237.69 L115.99 237.75 L115.50 237.76 L115.02 237.69 L114.59 237.52 L114.24 237.27 L113.97 236.99 L113.75 236.72 L113.52 236.49 L113.25 236.27 L112.95 236.03 L112.68 235.74 L112.52 235.40 L112.51 235.04 L112.64 234.70 L112.85 234.38 L113.10 234.08 L113.37 233.79 L113.69 233.51 L114.07 233.28 L114.52 233.13 L115.02 233.08 L115.50 233.13 L115.95 233.23 L116.38 233.35 L116.79 233.48 L117.19 233.64 L117.54 233.86 L117.79 234.14 L117.93 234.46 L117.98 234.79 L117.99 235.10Z" fill="#3ce04a"/></g>
<g filter="url(#bl2)"><path d="M158.27 230.40 L158.25 232.88 L158.08 235.41 L157.67 237.97 L156.88 240.42 L155.64 242.53 L154.02 244.10 L152.17 245.07 L150.25 245.49 L148.39 245.55 L146.60 245.35 L144.88 244.93 L143.25 244.25 L141.72 243.25 L140.33 241.97 L139.07 240.51 L137.85 238.93 L136.64 237.21 L135.45 235.26 L134.44 232.98 L133.81 230.40 L133.73 227.67 L134.27 225.02 L135.30 222.68 L136.65 220.70 L138.15 219.06 L139.71 217.68 L141.34 216.54 L143.05 215.72 L144.82 215.32 L146.60 215.37 L148.32 215.80 L149.97 216.48 L151.57 217.30 L153.15 218.30 L154.67 219.57 L156.02 221.21 L157.08 223.23 L157.78 225.53 L158.14 227.95Z" fill="#ece4f0" opacity="0.6"/><path d="M156.48 230.40 L156.44 232.59 L156.26 234.81 L155.86 237.02 L155.16 239.13 L154.12 240.96 L152.79 242.36 L151.27 243.26 L149.69 243.74 L148.12 243.88 L146.60 243.77 L145.13 243.44 L143.72 242.85 L142.40 241.98 L141.19 240.85 L140.10 239.53 L139.08 238.07 L138.09 236.49 L137.17 234.70 L136.41 232.67 L135.96 230.40 L135.94 228.03 L136.37 225.73 L137.19 223.67 L138.27 221.90 L139.48 220.40 L140.77 219.14 L142.14 218.11 L143.58 217.36 L145.09 216.98 L146.60 216.98 L148.08 217.31 L149.49 217.89 L150.86 218.65 L152.20 219.58 L153.46 220.76 L154.58 222.26 L155.46 224.06 L156.05 226.09 L156.37 228.23Z" fill="#18138e"/><path d="M155.16 230.45 L155.14 232.45 L154.99 234.48 L154.66 236.53 L154.05 238.48 L153.14 240.16 L151.95 241.44 L150.60 242.25 L149.20 242.64 L147.82 242.74 L146.49 242.62 L145.20 242.30 L143.97 241.75 L142.82 240.95 L141.77 239.92 L140.82 238.72 L139.92 237.41 L139.04 235.99 L138.20 234.38 L137.50 232.53 L137.07 230.45 L137.04 228.26 L137.42 226.15 L138.16 224.26 L139.13 222.65 L140.22 221.30 L141.37 220.16 L142.57 219.23 L143.84 218.55 L145.16 218.21 L146.49 218.23 L147.78 218.55 L149.01 219.09 L150.21 219.77 L151.39 220.60 L152.50 221.66 L153.50 223.01 L154.28 224.65 L154.79 226.51 L155.07 228.46Z" fill="#2040ff"/><path d="M154.51 230.47 L154.49 232.38 L154.36 234.32 L154.06 236.28 L153.50 238.15 L152.65 239.76 L151.54 240.97 L150.27 241.74 L148.96 242.10 L147.67 242.17 L146.43 242.04 L145.23 241.73 L144.09 241.21 L143.03 240.44 L142.06 239.46 L141.17 238.33 L140.33 237.09 L139.51 235.74 L138.71 234.22 L138.04 232.46 L137.63 230.47 L137.59 228.38 L137.96 226.36 L138.66 224.56 L139.57 223.03 L140.59 221.75 L141.66 220.67 L142.78 219.79 L143.96 219.15 L145.19 218.83 L146.43 218.85 L147.63 219.17 L148.78 219.68 L149.89 220.33 L150.98 221.11 L152.03 222.11 L152.95 223.39 L153.68 224.95 L154.16 226.72 L154.42 228.58Z" fill="#14d2f2"/><path d="M153.85 230.50 L153.84 232.31 L153.72 234.16 L153.45 236.03 L152.94 237.81 L152.15 239.35 L151.11 240.51 L149.93 241.22 L148.71 241.55 L147.52 241.60 L146.37 241.47 L145.27 241.17 L144.22 240.67 L143.23 239.94 L142.34 239.01 L141.52 237.93 L140.75 236.76 L139.98 235.49 L139.23 234.06 L138.59 232.39 L138.20 230.50 L138.16 228.50 L138.50 226.57 L139.15 224.86 L140.01 223.41 L140.96 222.20 L141.96 221.18 L143.00 220.34 L144.09 219.74 L145.23 219.44 L146.37 219.47 L147.48 219.78 L148.54 220.27 L149.57 220.88 L150.58 221.62 L151.55 222.56 L152.41 223.77 L153.09 225.25 L153.54 226.93 L153.77 228.70Z" fill="#3ce04a"/><path d="M152.87 230.54 L152.86 232.21 L152.77 233.92 L152.54 235.65 L152.09 237.31 L151.39 238.74 L150.48 239.80 L149.43 240.45 L148.35 240.73 L147.29 240.76 L146.29 240.62 L145.32 240.33 L144.40 239.87 L143.54 239.19 L142.76 238.33 L142.04 237.35 L141.36 236.28 L140.67 235.13 L140.00 233.82 L139.42 232.28 L139.06 230.54 L139.01 228.68 L139.31 226.90 L139.90 225.31 L140.67 223.98 L141.52 222.88 L142.40 221.95 L143.32 221.18 L144.28 220.63 L145.28 220.36 L146.29 220.40 L147.26 220.69 L148.18 221.15 L149.09 221.71 L149.98 222.38 L150.83 223.23 L151.60 224.33 L152.20 225.70 L152.59 227.24 L152.79 228.88Z" fill="#f0ee22"/><path d="M152.21 230.56 L152.20 232.14 L152.13 233.75 L151.93 235.40 L151.52 236.97 L150.89 238.33 L150.05 239.33 L149.09 239.93 L148.10 240.18 L147.14 240.19 L146.23 240.05 L145.35 239.78 L144.52 239.34 L143.74 238.70 L143.03 237.89 L142.39 236.96 L141.77 235.96 L141.14 234.88 L140.51 233.66 L139.97 232.21 L139.63 230.56 L139.59 228.81 L139.87 227.11 L140.41 225.62 L141.11 224.36 L141.89 223.33 L142.70 222.46 L143.53 221.74 L144.41 221.22 L145.32 220.97 L146.23 221.02 L147.11 221.30 L147.95 221.73 L148.77 222.25 L149.58 222.88 L150.36 223.67 L151.06 224.71 L151.61 225.99 L151.96 227.45 L152.15 229.00Z" fill="#ff1c00"/><path d="M148.86 232.90 L148.91 233.19 L148.92 233.49 L148.84 233.79 L148.67 234.04 L148.42 234.22 L148.13 234.32 L147.85 234.38 L147.60 234.43 L147.35 234.49 L147.10 234.54 L146.84 234.57 L146.57 234.54 L146.30 234.46 L146.05 234.35 L145.79 234.21 L145.54 234.04 L145.30 233.82 L145.12 233.54 L145.05 233.22 L145.11 232.90 L145.26 232.61 L145.47 232.37 L145.67 232.17 L145.84 231.98 L145.98 231.78 L146.13 231.57 L146.32 231.37 L146.55 231.21 L146.82 231.13 L147.10 231.10 L147.38 231.11 L147.67 231.15 L147.95 231.22 L148.22 231.36 L148.45 231.55 L148.61 231.81 L148.70 232.08 L148.75 232.36 L148.80 232.63Z" fill="#f0ee22"/></g>
<g filter="url(#bl2)"><path d="M188.35 230.40 L188.20 232.73 L188.00 235.07 L187.67 237.46 L187.07 239.78 L186.08 241.78 L184.77 243.23 L183.26 244.07 L181.72 244.42 L180.23 244.53 L178.80 244.53 L177.38 244.40 L175.97 244.00 L174.64 243.17 L173.44 241.92 L172.41 240.39 L171.47 238.72 L170.54 236.98 L169.60 235.07 L168.76 232.88 L168.23 230.40 L168.21 227.78 L168.73 225.29 L169.69 223.15 L170.89 221.41 L172.12 219.97 L173.34 218.67 L174.59 217.48 L175.91 216.52 L177.34 215.98 L178.80 215.96 L180.22 216.38 L181.58 217.04 L182.91 217.80 L184.26 218.66 L185.60 219.77 L186.82 221.30 L187.74 223.29 L188.26 225.60 L188.42 228.02Z" fill="#ece4f0" opacity="0.6"/><path d="M186.57 230.40 L186.45 232.45 L186.26 234.50 L185.96 236.57 L185.43 238.56 L184.64 240.28 L183.60 241.57 L182.41 242.37 L181.18 242.78 L179.97 242.95 L178.80 242.99 L177.63 242.86 L176.48 242.48 L175.38 241.74 L174.40 240.65 L173.54 239.30 L172.77 237.81 L172.04 236.23 L171.34 234.50 L170.73 232.56 L170.37 230.40 L170.37 228.14 L170.77 225.99 L171.49 224.10 L172.39 222.52 L173.36 221.19 L174.34 220.00 L175.35 218.95 L176.44 218.12 L177.61 217.64 L178.80 217.59 L179.97 217.92 L181.09 218.48 L182.18 219.18 L183.26 220.00 L184.32 221.05 L185.27 222.44 L186.00 224.19 L186.43 226.20 L186.59 228.31Z" fill="#18138e"/><path d="M185.24 230.46 L185.14 232.32 L185.00 234.19 L184.75 236.09 L184.33 237.92 L183.65 239.50 L182.76 240.67 L181.73 241.37 L180.68 241.70 L179.67 241.81 L178.68 241.83 L177.69 241.72 L176.72 241.39 L175.80 240.72 L174.97 239.72 L174.26 238.50 L173.61 237.15 L172.98 235.74 L172.36 234.19 L171.81 232.44 L171.48 230.46 L171.47 228.38 L171.82 226.41 L172.45 224.69 L173.24 223.28 L174.08 222.10 L174.91 221.04 L175.77 220.08 L176.69 219.32 L177.67 218.89 L178.68 218.86 L179.66 219.18 L180.60 219.70 L181.52 220.32 L182.44 221.04 L183.35 221.96 L184.17 223.20 L184.79 224.79 L185.16 226.63 L185.28 228.56Z" fill="#2040ff"/><path d="M184.69 230.48 L184.60 232.27 L184.47 234.06 L184.25 235.89 L183.86 237.65 L183.24 239.18 L182.40 240.29 L181.45 240.95 L180.48 241.25 L179.54 241.34 L178.62 241.35 L177.72 241.25 L176.82 240.93 L175.97 240.30 L175.21 239.34 L174.55 238.17 L173.95 236.88 L173.37 235.53 L172.78 234.06 L172.26 232.38 L171.94 230.48 L171.93 228.48 L172.26 226.58 L172.86 224.94 L173.60 223.60 L174.38 222.48 L175.15 221.47 L175.94 220.56 L176.79 219.83 L177.69 219.41 L178.62 219.39 L179.53 219.70 L180.40 220.20 L181.24 220.79 L182.10 221.47 L182.95 222.34 L183.71 223.52 L184.29 225.04 L184.62 226.81 L184.73 228.66Z" fill="#14d2f2"/><path d="M184.03 230.51 L183.95 232.20 L183.83 233.91 L183.65 235.64 L183.30 237.33 L182.74 238.78 L181.98 239.83 L181.12 240.44 L180.23 240.70 L179.38 240.78 L178.56 240.78 L177.75 240.69 L176.94 240.39 L176.18 239.79 L175.49 238.89 L174.90 237.77 L174.36 236.56 L173.83 235.29 L173.29 233.91 L172.81 232.32 L172.51 230.51 L172.50 228.61 L172.80 226.80 L173.35 225.24 L174.03 223.98 L174.74 222.93 L175.44 221.98 L176.15 221.12 L176.91 220.43 L177.73 220.03 L178.56 220.02 L179.38 220.32 L180.15 220.80 L180.92 221.36 L181.69 221.98 L182.46 222.79 L183.15 223.90 L183.68 225.34 L183.98 227.02 L184.07 228.78Z" fill="#3ce04a"/><path d="M182.93 230.56 L182.86 232.09 L182.77 233.64 L182.63 235.24 L182.35 236.78 L181.89 238.11 L181.27 239.07 L180.55 239.60 L179.82 239.80 L179.13 239.85 L178.46 239.84 L177.80 239.76 L177.14 239.50 L176.52 238.96 L175.96 238.13 L175.48 237.12 L175.04 236.03 L174.60 234.89 L174.14 233.65 L173.73 232.21 L173.47 230.56 L173.45 228.82 L173.70 227.16 L174.17 225.75 L174.74 224.62 L175.33 223.69 L175.91 222.84 L176.49 222.05 L177.11 221.42 L177.78 221.07 L178.46 221.06 L179.12 221.35 L179.75 221.79 L180.38 222.29 L181.01 222.84 L181.65 223.55 L182.23 224.54 L182.66 225.85 L182.91 227.38 L182.97 228.99Z" fill="#f0ee22"/><path d="M182.16 230.59 L182.10 232.02 L182.03 233.46 L181.92 234.95 L181.69 236.40 L181.30 237.64 L180.77 238.53 L180.16 239.00 L179.54 239.18 L178.95 239.20 L178.39 239.18 L177.83 239.11 L177.28 238.88 L176.75 238.38 L176.28 237.61 L175.88 236.67 L175.51 235.65 L175.13 234.61 L174.74 233.46 L174.38 232.13 L174.15 230.59 L174.13 228.96 L174.35 227.42 L174.75 226.11 L175.25 225.07 L175.75 224.21 L176.24 223.43 L176.73 222.71 L177.25 222.12 L177.81 221.79 L178.39 221.79 L178.95 222.06 L179.48 222.48 L180.00 222.93 L180.54 223.43 L181.08 224.08 L181.57 224.99 L181.95 226.20 L182.15 227.63 L182.20 229.13Z" fill="#ff1c00"/><path d="M181.71 233.00 L181.69 233.27 L181.59 233.52 L181.44 233.73 L181.27 233.93 L181.10 234.10 L180.91 234.25 L180.70 234.37 L180.46 234.43 L180.23 234.43 L180.00 234.39 L179.79 234.34 L179.58 234.30 L179.36 234.25 L179.14 234.18 L178.94 234.06 L178.78 233.88 L178.69 233.67 L178.64 233.44 L178.61 233.22 L178.57 233.00 L178.52 232.77 L178.49 232.51 L178.52 232.24 L178.62 232.00 L178.80 231.80 L179.03 231.67 L179.28 231.58 L179.53 231.54 L179.77 231.52 L180.00 231.53 L180.22 231.58 L180.43 231.69 L180.59 231.83 L180.74 231.98 L180.88 232.12 L181.05 232.24 L181.25 232.36 L181.46 232.53 L181.62 232.74Z" fill="#f0ee22"/></g>
<rect x="104" y="257" width="26" height="1" fill="#8a8a8a"/>
<text x="188.4" y="181.1" font-size="8.1" text-anchor="end" font-weight="bold" fill="#fff" >8.25 d</text>
</g>
<clipPath id="cp02"><rect x="192.3" y="174" width="88.6" height="86.6"/></clipPath>
<g clip-path="url(#cp02)">
<rect x="192.3" y="174" width="88.6" height="86.6" fill="#222"/>
<rect x="192.3" y="174" width="88.6" height="86.6" fill="url(#stripes)"/>
<rect x="192.3" y="174" width="88.6" height="11" fill="url(#topband)"/>
<g transform="translate(209.1 181.8) rotate(0.51)" filter="url(#bl1)"><path d="M7.5 60 L13.5 64.5 L16.5 66 M-7.5 60 L-13.5 64.5 L-16.5 66" fill="none" stroke="#b8b8b8" stroke-width="2.2" stroke-linecap="round"/><path d="M0 62 C1 68 1.6 73 1 79" fill="none" stroke="#b0b0b0" stroke-width="1.9" stroke-linecap="round"/><path d="M0 0 C 0.60 1.00 1.20 2.60 1.70 4.60 C 2.30 7.00 3.20 9.80 4.40 12.30 C 5.80 13.60 7.80 14.60 9.00 16.20 C 9.80 17.60 10.20 19.50 10.40 22.00 C 10.80 28.00 11.30 36.00 11.70 44.00 C 12.00 50.00 12.00 55.00 11.40 58.50 C 10.80 60.80 9.60 62.00 7.00 62.90 C 4.00 63.60 2.00 64.00 0.00 64.00 C -2.00 64.00 -4.00 63.60 -7.00 62.90 C -9.60 62.00 -10.80 60.80 -11.40 58.50 C -12.00 55.00 -12.00 50.00 -11.70 44.00 C -11.30 36.00 -10.80 28.00 -10.40 22.00 C -10.20 19.50 -9.80 17.60 -9.00 16.20 C -7.80 14.60 -5.80 13.60 -4.40 12.30 C -3.20 9.80 -2.30 7.00 -1.70 4.60 C -1.20 2.60 -0.60 1.00 0.00 0.00 Z" fill="url(#mgB)"/><path d="M0 0 C 0.60 1.00 1.20 2.60 1.70 4.60 C 2.30 7.00 3.20 9.80 4.40 12.30 C 5.80 13.60 7.80 14.60 9.00 16.20 C 9.80 17.60 10.20 19.50 10.40 22.00 C 10.80 28.00 11.30 36.00 11.70 44.00 C 12.00 50.00 12.00 55.00 11.40 58.50 C 10.80 60.80 9.60 62.00 7.00 62.90 C 4.00 63.60 2.00 64.00 0.00 64.00 C -2.00 64.00 -4.00 63.60 -7.00 62.90 C -9.60 62.00 -10.80 60.80 -11.40 58.50 C -12.00 55.00 -12.00 50.00 -11.70 44.00 C -11.30 36.00 -10.80 28.00 -10.40 22.00 C -10.20 19.50 -9.80 17.60 -9.00 16.20 C -7.80 14.60 -5.80 13.60 -4.40 12.30 C -3.20 9.80 -2.30 7.00 -1.70 4.60 C -1.20 2.60 -0.60 1.00 0.00 0.00 Z" fill="url(#hs)"/></g>
<g transform="translate(235.7 181.8) rotate(-1.02)" filter="url(#bl1)"><path d="M7.5 60 L13.5 64.5 L16.5 66 M-7.5 60 L-13.5 64.5 L-16.5 66" fill="none" stroke="#b8b8b8" stroke-width="2.2" stroke-linecap="round"/><path d="M0 62 C1 68 1.6 73 1 79" fill="none" stroke="#b0b0b0" stroke-width="1.9" stroke-linecap="round"/><path d="M0 0 C 0.60 1.00 1.20 2.60 1.70 4.60 C 2.30 7.00 3.20 9.80 4.40 12.30 C 5.80 13.60 7.80 14.60 9.00 16.20 C 9.80 17.60 10.20 19.50 10.40 22.00 C 10.80 28.00 11.30 36.00 11.70 44.00 C 12.00 50.00 12.00 55.00 11.40 58.50 C 10.80 60.80 9.60 62.00 7.00 62.90 C 4.00 63.60 2.00 64.00 0.00 64.00 C -2.00 64.00 -4.00 63.60 -7.00 62.90 C -9.60 62.00 -10.80 60.80 -11.40 58.50 C -12.00 55.00 -12.00 50.00 -11.70 44.00 C -11.30 36.00 -10.80 28.00 -10.40 22.00 C -10.20 19.50 -9.80 17.60 -9.00 16.20 C -7.80 14.60 -5.80 13.60 -4.40 12.30 C -3.20 9.80 -2.30 7.00 -1.70 4.60 C -1.20 2.60 -0.60 1.00 0.00 0.00 Z" fill="url(#mgA)"/><path d="M0 0 C 0.60 1.00 1.20 2.60 1.70 4.60 C 2.30 7.00 3.20 9.80 4.40 12.30 C 5.80 13.60 7.80 14.60 9.00 16.20 C 9.80 17.60 10.20 19.50 10.40 22.00 C 10.80 28.00 11.30 36.00 11.70 44.00 C 12.00 50.00 12.00 55.00 11.40 58.50 C 10.80 60.80 9.60 62.00 7.00 62.90 C 4.00 63.60 2.00 64.00 0.00 64.00 C -2.00 64.00 -4.00 63.60 -7.00 62.90 C -9.60 62.00 -10.80 60.80 -11.40 58.50 C -12.00 55.00 -12.00 50.00 -11.70 44.00 C -11.30 36.00 -10.80 28.00 -10.40 22.00 C -10.20 19.50 -9.80 17.60 -9.00 16.20 C -7.80 14.60 -5.80 13.60 -4.40 12.30 C -3.20 9.80 -2.30 7.00 -1.70 4.60 C -1.20 2.60 -0.60 1.00 0.00 0.00 Z" fill="url(#hs)"/></g>
<g transform="translate(262.2 181.8) rotate(-0.51)" filter="url(#bl1)"><path d="M7.5 60 L13.5 64.5 L16.5 66 M-7.5 60 L-13.5 64.5 L-16.5 66" fill="none" stroke="#b8b8b8" stroke-width="2.2" stroke-linecap="round"/><path d="M0 62 C1 68 1.6 73 1 79" fill="none" stroke="#b0b0b0" stroke-width="1.9" stroke-linecap="round"/><path d="M0 0 C 0.60 1.00 1.20 2.60 1.70 4.60 C 2.30 7.00 3.20 9.80 4.40 12.30 C 5.80 13.60 7.80 14.60 9.00 16.20 C 9.80 17.60 10.20 19.50 10.40 22.00 C 10.80 28.00 11.30 36.00 11.70 44.00 C 12.00 50.00 12.00 55.00 11.40 58.50 C 10.80 60.80 9.60 62.00 7.00 62.90 C 4.00 63.60 2.00 64.00 0.00 64.00 C -2.00 64.00 -4.00 63.60 -7.00 62.90 C -9.60 62.00 -10.80 60.80 -11.40 58.50 C -12.00 55.00 -12.00 50.00 -11.70 44.00 C -11.30 36.00 -10.80 28.00 -10.40 22.00 C -10.20 19.50 -9.80 17.60 -9.00 16.20 C -7.80 14.60 -5.80 13.60 -4.40 12.30 C -3.20 9.80 -2.30 7.00 -1.70 4.60 C -1.20 2.60 -0.60 1.00 0.00 0.00 Z" fill="url(#mgB)"/><path d="M0 0 C 0.60 1.00 1.20 2.60 1.70 4.60 C 2.30 7.00 3.20 9.80 4.40 12.30 C 5.80 13.60 7.80 14.60 9.00 16.20 C 9.80 17.60 10.20 19.50 10.40 22.00 C 10.80 28.00 11.30 36.00 11.70 44.00 C 12.00 50.00 12.00 55.00 11.40 58.50 C 10.80 60.80 9.60 62.00 7.00 62.90 C 4.00 63.60 2.00 64.00 0.00 64.00 C -2.00 64.00 -4.00 63.60 -7.00 62.90 C -9.60 62.00 -10.80 60.80 -11.40 58.50 C -12.00 55.00 -12.00 50.00 -11.70 44.00 C -11.30 36.00 -10.80 28.00 -10.40 22.00 C -10.20 19.50 -9.80 17.60 -9.00 16.20 C -7.80 14.60 -5.80 13.60 -4.40 12.30 C -3.20 9.80 -2.30 7.00 -1.70 4.60 C -1.20 2.60 -0.60 1.00 0.00 0.00 Z" fill="url(#hs)"/></g>
<g filter="url(#bl2)"><path d="M222.02 228.70 L221.92 230.98 L221.57 233.24 L220.93 235.44 L219.92 237.48 L218.50 239.17 L216.75 240.37 L214.84 241.07 L212.93 241.41 L211.09 241.59 L209.30 241.74 L207.47 241.84 L205.59 241.71 L203.73 241.15 L202.03 240.08 L200.62 238.58 L199.48 236.82 L198.56 234.93 L197.77 232.97 L197.11 230.90 L196.71 228.70 L196.71 226.43 L197.17 224.21 L198.05 222.17 L199.20 220.35 L200.52 218.71 L201.96 217.20 L203.56 215.87 L205.35 214.88 L207.31 214.40 L209.30 214.55 L211.17 215.23 L212.86 216.22 L214.40 217.30 L215.90 218.35 L217.43 219.45 L218.93 220.74 L220.25 222.35 L221.25 224.28 L221.82 226.44Z" fill="#ece4f0" opacity="0.6"/><path d="M220.09 228.70 L220.00 230.67 L219.68 232.62 L219.11 234.51 L218.25 236.25 L217.07 237.72 L215.62 238.81 L214.04 239.50 L212.43 239.88 L210.85 240.10 L209.30 240.23 L207.72 240.27 L206.12 240.09 L204.54 239.55 L203.10 238.61 L201.88 237.32 L200.90 235.79 L200.09 234.15 L199.43 232.43 L198.90 230.61 L198.60 228.70 L198.63 226.74 L199.02 224.82 L199.74 223.04 L200.71 221.45 L201.82 220.01 L203.05 218.71 L204.42 217.58 L205.96 216.74 L207.61 216.32 L209.30 216.39 L210.91 216.90 L212.38 217.68 L213.74 218.58 L215.04 219.51 L216.34 220.52 L217.57 221.72 L218.65 223.16 L219.45 224.87 L219.93 226.74Z" fill="#18138e"/><path d="M218.77 228.62 L218.69 230.40 L218.42 232.16 L217.92 233.88 L217.16 235.46 L216.10 236.79 L214.81 237.75 L213.39 238.35 L211.95 238.66 L210.56 238.83 L209.19 238.96 L207.80 239.01 L206.38 238.87 L204.98 238.40 L203.70 237.55 L202.63 236.38 L201.76 235.00 L201.05 233.52 L200.46 231.97 L199.98 230.34 L199.70 228.62 L199.72 226.84 L200.06 225.11 L200.71 223.50 L201.57 222.07 L202.56 220.77 L203.65 219.60 L204.87 218.57 L206.22 217.80 L207.70 217.43 L209.19 217.51 L210.62 218.00 L211.91 218.73 L213.10 219.55 L214.25 220.39 L215.39 221.28 L216.50 222.33 L217.48 223.62 L218.20 225.15 L218.63 226.85Z" fill="#2040ff"/><path d="M218.00 228.57 L217.93 230.24 L217.68 231.89 L217.23 233.51 L216.52 234.99 L215.54 236.24 L214.33 237.13 L213.01 237.68 L211.68 237.95 L210.39 238.10 L209.13 238.22 L207.85 238.27 L206.53 238.15 L205.23 237.73 L204.05 236.94 L203.06 235.84 L202.26 234.55 L201.61 233.16 L201.06 231.71 L200.61 230.18 L200.35 228.57 L200.35 226.90 L200.68 225.28 L201.28 223.77 L202.08 222.43 L203.00 221.22 L204.00 220.11 L205.13 219.15 L206.38 218.43 L207.74 218.08 L209.13 218.16 L210.45 218.63 L211.64 219.34 L212.73 220.12 L213.78 220.90 L214.85 221.72 L215.88 222.69 L216.79 223.89 L217.47 225.32 L217.87 226.91Z" fill="#14d2f2"/><path d="M215.46 228.40 L215.41 229.71 L215.23 231.01 L214.91 232.27 L214.39 233.44 L213.66 234.41 L212.75 235.09 L211.76 235.47 L210.78 235.64 L209.84 235.73 L208.93 235.82 L208.00 235.89 L207.03 235.83 L206.07 235.52 L205.21 234.91 L204.48 234.05 L203.91 233.04 L203.43 231.96 L203.03 230.84 L202.69 229.66 L202.47 228.40 L202.46 227.10 L202.70 225.84 L203.15 224.67 L203.75 223.63 L204.43 222.69 L205.16 221.83 L205.98 221.06 L206.90 220.49 L207.91 220.22 L208.93 220.31 L209.89 220.72 L210.74 221.31 L211.53 221.93 L212.29 222.53 L213.07 223.14 L213.85 223.87 L214.54 224.77 L215.06 225.88 L215.36 227.11Z" fill="#3ce04a"/><path d="M214.35 228.33 L214.31 229.48 L214.16 230.62 L213.89 231.73 L213.45 232.76 L212.83 233.61 L212.06 234.19 L211.22 234.51 L210.39 234.65 L209.61 234.72 L208.84 234.79 L208.06 234.86 L207.25 234.82 L206.44 234.56 L205.71 234.03 L205.10 233.28 L204.62 232.39 L204.22 231.44 L203.88 230.46 L203.59 229.43 L203.40 228.33 L203.39 227.19 L203.59 226.08 L203.97 225.06 L204.48 224.15 L205.05 223.33 L205.67 222.57 L206.36 221.90 L207.13 221.39 L207.98 221.16 L208.84 221.25 L209.64 221.62 L210.36 222.15 L211.01 222.70 L211.65 223.23 L212.31 223.75 L212.97 224.37 L213.56 225.16 L214.00 226.12 L214.26 227.20Z" fill="#f0ee22"/><path d="M213.23 228.26 L213.20 229.25 L213.08 230.23 L212.86 231.19 L212.51 232.07 L212.00 232.80 L211.37 233.29 L210.68 233.56 L210.01 233.66 L209.37 233.71 L208.75 233.77 L208.12 233.84 L207.46 233.81 L206.80 233.60 L206.21 233.15 L205.72 232.50 L205.33 231.73 L205.01 230.92 L204.73 230.09 L204.49 229.21 L204.33 228.26 L204.32 227.28 L204.48 226.33 L204.80 225.45 L205.21 224.68 L205.68 223.97 L206.18 223.32 L206.73 222.74 L207.36 222.30 L208.05 222.10 L208.75 222.19 L209.40 222.52 L209.98 222.99 L210.50 223.47 L211.02 223.91 L211.55 224.35 L212.10 224.87 L212.58 225.54 L212.94 226.36 L213.16 227.29Z" fill="#ff1c00"/><path d="M210.21 231.20 L210.08 231.90 L209.75 232.52 L209.31 233.02 L208.86 233.43 L208.45 233.81 L208.07 234.22 L207.67 234.62 L207.20 234.96 L206.66 235.14 L206.10 235.16 L205.55 235.03 L205.04 234.83 L204.54 234.60 L204.04 234.35 L203.57 234.02 L203.15 233.58 L202.85 233.04 L202.68 232.44 L202.59 231.82 L202.53 231.20 L202.47 230.56 L202.46 229.88 L202.55 229.19 L202.82 228.55 L203.27 228.06 L203.86 227.77 L204.48 227.68 L205.07 227.69 L205.60 227.71 L206.10 227.70 L206.60 227.68 L207.12 227.72 L207.63 227.86 L208.12 228.12 L208.57 228.46 L209.00 228.86 L209.43 229.31 L209.83 229.85 L210.12 230.49Z" fill="#f0ee22"/><path d="M208.61 231.20 L208.68 231.65 L208.64 232.12 L208.48 232.54 L208.21 232.91 L207.90 233.20 L207.57 233.45 L207.23 233.67 L206.88 233.85 L206.49 233.97 L206.10 233.98 L205.71 233.90 L205.35 233.77 L204.99 233.62 L204.61 233.48 L204.19 233.32 L203.78 233.08 L203.43 232.71 L203.23 232.24 L203.20 231.71 L203.34 231.20 L203.57 230.76 L203.82 230.38 L204.04 230.04 L204.25 229.70 L204.46 229.38 L204.72 229.09 L205.02 228.85 L205.35 228.65 L205.71 228.48 L206.10 228.32 L206.53 228.20 L206.99 228.17 L207.44 228.28 L207.82 228.57 L208.08 228.99 L208.24 229.47 L208.32 229.94 L208.40 230.37 L208.50 230.78Z" fill="#f0ee22"/></g>
<g filter="url(#bl2)"><path d="M247.34 229.50 L247.16 231.43 L247.01 233.40 L246.71 235.41 L246.08 237.34 L245.07 238.99 L243.78 240.27 L242.35 241.24 L240.87 242.06 L239.34 242.82 L237.70 243.43 L235.96 243.67 L234.21 243.34 L232.60 242.39 L231.23 240.97 L230.07 239.32 L229.04 237.60 L228.06 235.82 L227.20 233.89 L226.65 231.75 L226.58 229.50 L227.07 227.33 L227.98 225.43 L229.07 223.84 L230.13 222.42 L231.08 220.97 L232.03 219.44 L233.12 217.93 L234.47 216.68 L236.02 215.87 L237.70 215.55 L239.41 215.61 L241.13 215.92 L242.86 216.45 L244.56 217.34 L246.06 218.73 L247.17 220.64 L247.74 222.91 L247.82 225.27 L247.60 227.48Z" fill="#ece4f0" opacity="0.6"/><path d="M245.86 229.50 L245.72 231.21 L245.56 232.94 L245.25 234.68 L244.69 236.34 L243.84 237.77 L242.77 238.90 L241.59 239.77 L240.35 240.48 L239.06 241.09 L237.70 241.54 L236.27 241.68 L234.84 241.37 L233.51 240.56 L232.37 239.39 L231.39 238.00 L230.52 236.52 L229.73 234.97 L229.06 233.28 L228.62 231.44 L228.56 229.50 L228.90 227.62 L229.57 225.94 L230.40 224.49 L231.25 223.19 L232.06 221.90 L232.90 220.60 L233.86 219.36 L235.01 218.34 L236.31 217.70 L237.70 217.44 L239.11 217.51 L240.52 217.81 L241.93 218.33 L243.29 219.14 L244.50 220.35 L245.41 221.96 L245.94 223.85 L246.09 225.83 L246.01 227.73Z" fill="#18138e"/><path d="M244.60 229.57 L244.48 231.08 L244.36 232.61 L244.12 234.17 L243.66 235.65 L242.94 236.92 L242.03 237.92 L241.02 238.68 L239.97 239.32 L238.88 239.88 L237.72 240.32 L236.49 240.47 L235.26 240.20 L234.13 239.48 L233.15 238.41 L232.33 237.15 L231.59 235.83 L230.91 234.45 L230.32 232.95 L229.94 231.31 L229.89 229.57 L230.21 227.90 L230.81 226.42 L231.55 225.16 L232.29 224.02 L232.97 222.90 L233.66 221.72 L234.46 220.59 L235.43 219.65 L236.53 219.05 L237.72 218.82 L238.92 218.87 L240.13 219.12 L241.34 219.56 L242.52 220.27 L243.57 221.34 L244.35 222.79 L244.78 224.51 L244.87 226.30 L244.76 228.00Z" fill="#2040ff"/><path d="M243.84 229.62 L243.73 231.00 L243.63 232.41 L243.43 233.85 L243.03 235.22 L242.39 236.40 L241.57 237.32 L240.67 238.02 L239.73 238.61 L238.76 239.14 L237.73 239.56 L236.63 239.72 L235.53 239.48 L234.51 238.81 L233.64 237.80 L232.91 236.63 L232.26 235.41 L231.64 234.13 L231.10 232.75 L230.76 231.23 L230.71 229.62 L231.01 228.07 L231.58 226.71 L232.25 225.56 L232.92 224.53 L233.52 223.50 L234.13 222.41 L234.83 221.34 L235.68 220.46 L236.67 219.89 L237.73 219.67 L238.81 219.71 L239.89 219.93 L240.98 220.33 L242.05 220.97 L242.99 221.96 L243.69 223.32 L244.06 224.93 L244.12 226.60 L244.00 228.17Z" fill="#14d2f2"/><path d="M242.81 229.68 L242.72 230.90 L242.64 232.14 L242.49 233.42 L242.16 234.65 L241.63 235.69 L240.95 236.50 L240.19 237.11 L239.42 237.63 L238.61 238.12 L237.74 238.51 L236.82 238.68 L235.89 238.47 L235.04 237.87 L234.32 236.97 L233.71 235.91 L233.16 234.82 L232.65 233.69 L232.19 232.47 L231.89 231.11 L231.86 229.68 L232.12 228.31 L232.62 227.11 L233.20 226.11 L233.76 225.22 L234.26 224.31 L234.76 223.34 L235.33 222.37 L236.03 221.56 L236.86 221.04 L237.74 220.84 L238.65 220.87 L239.56 221.06 L240.48 221.39 L241.38 221.95 L242.18 222.83 L242.76 224.05 L243.06 225.50 L243.09 227.00 L242.96 228.41Z" fill="#3ce04a"/><path d="M241.52 229.76 L241.45 230.77 L241.41 231.81 L241.31 232.88 L241.07 233.91 L240.67 234.79 L240.16 235.46 L239.59 235.97 L239.01 236.40 L238.41 236.82 L237.76 237.18 L237.07 237.34 L236.36 237.18 L235.72 236.67 L235.18 235.89 L234.73 234.99 L234.32 234.07 L233.93 233.13 L233.58 232.11 L233.35 230.97 L233.32 229.76 L233.54 228.61 L233.93 227.61 L234.39 226.80 L234.82 226.07 L235.19 225.32 L235.55 224.50 L235.96 223.67 L236.48 222.97 L237.10 222.51 L237.76 222.33 L238.44 222.35 L239.13 222.50 L239.83 222.76 L240.52 223.22 L241.13 223.95 L241.56 224.99 L241.77 226.23 L241.77 227.51 L241.65 228.70Z" fill="#f0ee22"/><path d="M240.08 229.85 L240.04 230.63 L240.02 231.43 L239.96 232.27 L239.82 233.08 L239.58 233.76 L239.26 234.28 L238.91 234.67 L238.55 235.01 L238.18 235.35 L237.78 235.65 L237.35 235.79 L236.91 235.68 L236.51 235.27 L236.18 234.65 L235.90 233.94 L235.65 233.22 L235.41 232.48 L235.18 231.69 L235.03 230.80 L235.02 229.85 L235.16 228.95 L235.42 228.19 L235.72 227.57 L235.99 227.03 L236.22 226.45 L236.43 225.80 L236.68 225.13 L236.99 224.56 L237.37 224.20 L237.78 224.05 L238.20 224.06 L238.63 224.16 L239.07 224.35 L239.51 224.70 L239.89 225.27 L240.16 226.09 L240.28 227.08 L240.27 228.10 L240.17 229.03Z" fill="#ff1c00"/><path d="M242.43 234.00 L242.33 234.51 L242.22 235.03 L242.09 235.56 L241.86 236.11 L241.46 236.63 L240.88 237.07 L240.16 237.37 L239.36 237.57 L238.53 237.68 L237.70 237.72 L236.86 237.69 L236.05 237.55 L235.33 237.25 L234.78 236.82 L234.41 236.30 L234.18 235.79 L233.98 235.33 L233.71 234.91 L233.38 234.48 L233.03 234.00 L232.80 233.46 L232.77 232.88 L232.98 232.32 L233.37 231.80 L233.89 231.33 L234.50 230.92 L235.20 230.56 L235.99 230.31 L236.84 230.21 L237.70 230.30 L238.48 230.53 L239.17 230.84 L239.78 231.15 L240.37 231.43 L240.98 231.70 L241.57 232.03 L242.06 232.44 L242.37 232.94 L242.47 233.47Z" fill="#f0ee22"/><path d="M241.61 234.00 L241.33 234.40 L241.00 234.75 L240.67 235.06 L240.36 235.35 L240.05 235.64 L239.68 235.91 L239.25 236.13 L238.76 236.28 L238.24 236.38 L237.70 236.43 L237.14 236.46 L236.57 236.44 L235.99 236.35 L235.46 236.16 L235.03 235.87 L234.72 235.52 L234.51 235.14 L234.34 234.76 L234.17 234.39 L234.02 234.00 L233.95 233.58 L234.01 233.16 L234.26 232.77 L234.66 232.46 L235.16 232.22 L235.68 232.06 L236.19 231.93 L236.68 231.81 L237.18 231.72 L237.70 231.67 L238.23 231.68 L238.75 231.75 L239.26 231.86 L239.78 231.99 L240.32 232.16 L240.86 232.39 L241.33 232.70 L241.65 233.10 L241.74 233.55Z" fill="#9ae040"/></g>
<g filter="url(#bl2)"><path d="M276.62 227.70 L276.52 229.74 L276.07 231.68 L275.37 233.47 L274.54 235.13 L273.61 236.69 L272.53 238.13 L271.27 239.31 L269.85 240.08 L268.32 240.42 L266.80 240.40 L265.30 240.20 L263.79 239.93 L262.23 239.55 L260.66 238.87 L259.22 237.72 L258.11 236.05 L257.47 233.98 L257.30 231.78 L257.44 229.66 L257.71 227.70 L257.99 225.86 L258.28 224.04 L258.68 222.23 L259.30 220.50 L260.16 218.92 L261.21 217.53 L262.40 216.30 L263.72 215.18 L265.18 214.22 L266.80 213.59 L268.50 213.53 L270.13 214.17 L271.53 215.44 L272.63 217.10 L273.48 218.87 L274.23 220.56 L274.99 222.19 L275.73 223.87 L276.33 225.71Z" fill="#ece4f0" opacity="0.6"/><path d="M274.82 227.70 L274.73 229.45 L274.37 231.13 L273.82 232.69 L273.15 234.13 L272.38 235.47 L271.49 236.69 L270.45 237.68 L269.28 238.35 L268.05 238.66 L266.80 238.68 L265.57 238.52 L264.34 238.25 L263.09 237.85 L261.85 237.20 L260.72 236.18 L259.83 234.76 L259.28 233.04 L259.07 231.20 L259.11 229.40 L259.27 227.70 L259.47 226.08 L259.71 224.49 L260.07 222.92 L260.61 221.43 L261.33 220.08 L262.21 218.89 L263.20 217.86 L264.29 216.95 L265.49 216.21 L266.80 215.75 L268.16 215.74 L269.47 216.26 L270.61 217.27 L271.55 218.60 L272.30 220.04 L272.95 221.47 L273.57 222.89 L274.15 224.37 L274.60 225.98Z" fill="#18138e"/><path d="M273.57 227.55 L273.50 229.09 L273.19 230.57 L272.72 231.94 L272.16 233.21 L271.52 234.40 L270.78 235.48 L269.91 236.37 L268.94 236.96 L267.90 237.23 L266.85 237.23 L265.83 237.08 L264.80 236.86 L263.74 236.53 L262.68 235.99 L261.71 235.11 L260.96 233.84 L260.51 232.30 L260.37 230.64 L260.44 229.04 L260.60 227.55 L260.78 226.13 L260.98 224.74 L261.27 223.36 L261.70 222.04 L262.29 220.84 L263.02 219.79 L263.85 218.87 L264.75 218.04 L265.75 217.34 L266.85 216.90 L268.00 216.87 L269.11 217.34 L270.07 218.27 L270.83 219.49 L271.44 220.81 L271.97 222.08 L272.49 223.33 L272.98 224.62 L273.38 226.03Z" fill="#2040ff"/><path d="M272.80 227.45 L272.74 228.87 L272.47 230.23 L272.05 231.48 L271.55 232.65 L270.99 233.74 L270.34 234.74 L269.58 235.56 L268.72 236.10 L267.81 236.34 L266.89 236.33 L265.99 236.19 L265.08 236.00 L264.14 235.72 L263.20 235.25 L262.33 234.44 L261.67 233.27 L261.28 231.83 L261.17 230.30 L261.25 228.82 L261.41 227.45 L261.57 226.16 L261.75 224.89 L261.99 223.62 L262.36 222.41 L262.88 221.31 L263.52 220.34 L264.24 219.48 L265.03 218.70 L265.92 218.04 L266.89 217.61 L267.91 217.57 L268.89 218.02 L269.73 218.90 L270.39 220.05 L270.92 221.27 L271.37 222.45 L271.83 223.59 L272.27 224.77 L272.63 226.06Z" fill="#14d2f2"/><path d="M271.36 227.27 L271.32 228.46 L271.11 229.59 L270.79 230.63 L270.42 231.59 L270.00 232.51 L269.52 233.35 L268.96 234.04 L268.32 234.50 L267.63 234.68 L266.95 234.66 L266.28 234.55 L265.60 234.40 L264.89 234.20 L264.18 233.83 L263.52 233.17 L263.01 232.18 L262.73 230.96 L262.68 229.66 L262.76 228.41 L262.90 227.27 L263.03 226.21 L263.16 225.16 L263.33 224.11 L263.60 223.10 L263.98 222.18 L264.45 221.36 L264.98 220.63 L265.57 219.96 L266.22 219.37 L266.95 218.98 L267.72 218.93 L268.46 219.32 L269.08 220.08 L269.57 221.09 L269.94 222.14 L270.27 223.14 L270.60 224.08 L270.94 225.05 L271.22 226.11Z" fill="#3ce04a"/><path d="M269.44 227.04 L269.42 227.91 L269.30 228.74 L269.12 229.49 L268.92 230.20 L268.69 230.87 L268.44 231.50 L268.13 232.02 L267.78 232.35 L267.41 232.48 L267.03 232.45 L266.67 232.36 L266.30 232.27 L265.91 232.15 L265.51 231.90 L265.13 231.43 L264.86 230.70 L264.71 229.77 L264.70 228.79 L264.76 227.87 L264.86 227.04 L264.93 226.27 L265.00 225.51 L265.09 224.74 L265.22 223.99 L265.43 223.31 L265.68 222.71 L265.96 222.17 L266.28 221.64 L266.63 221.18 L267.03 220.86 L267.46 220.81 L267.87 221.10 L268.21 221.70 L268.47 222.48 L268.65 223.29 L268.82 224.03 L269.00 224.71 L269.20 225.41 L269.36 226.18Z" fill="#f0ee22"/><path d="M268.29 226.89 L268.28 227.58 L268.22 228.23 L268.13 228.82 L268.02 229.37 L267.91 229.89 L267.79 230.39 L267.63 230.80 L267.46 231.06 L267.27 231.16 L267.08 231.13 L266.90 231.06 L266.72 230.99 L266.52 230.91 L266.32 230.73 L266.13 230.37 L265.99 229.79 L265.92 229.05 L265.91 228.27 L265.95 227.54 L266.00 226.89 L266.04 226.30 L266.08 225.71 L266.12 225.11 L266.18 224.52 L266.28 223.99 L266.41 223.52 L266.55 223.08 L266.71 222.66 L266.88 222.28 L267.08 222.01 L267.30 221.96 L267.51 222.20 L267.68 222.69 L267.80 223.32 L267.89 223.97 L267.97 224.55 L268.06 225.09 L268.16 225.63 L268.24 226.23Z" fill="#ff1c00"/><path d="M267.46 230.70 L267.38 231.19 L267.30 231.67 L267.21 232.18 L267.09 232.72 L266.85 233.25 L266.47 233.69 L265.97 233.98 L265.41 234.11 L264.84 234.11 L264.30 234.07 L263.77 234.05 L263.22 234.03 L262.64 233.96 L262.07 233.77 L261.57 233.43 L261.20 232.95 L260.97 232.39 L260.86 231.82 L260.83 231.25 L260.86 230.70 L260.98 230.17 L261.20 229.69 L261.51 229.28 L261.86 228.93 L262.21 228.61 L262.53 228.27 L262.85 227.86 L263.22 227.39 L263.71 226.96 L264.30 226.67 L264.95 226.62 L265.56 226.81 L266.09 227.19 L266.51 227.66 L266.84 228.16 L267.11 228.66 L267.32 229.16 L267.46 229.67 L267.50 230.19Z" fill="#14d2f2"/><path d="M266.85 230.70 L266.86 231.11 L266.82 231.52 L266.71 231.93 L266.52 232.31 L266.23 232.63 L265.87 232.86 L265.47 232.99 L265.06 233.05 L264.68 233.08 L264.30 233.11 L263.91 233.15 L263.50 233.15 L263.10 233.06 L262.74 232.85 L262.47 232.53 L262.29 232.16 L262.19 231.77 L262.12 231.41 L262.06 231.06 L262.00 230.70 L261.97 230.33 L262.00 229.95 L262.09 229.58 L262.25 229.21 L262.45 228.85 L262.70 228.49 L263.01 228.17 L263.40 227.93 L263.84 227.82 L264.30 227.88 L264.71 228.09 L265.05 228.39 L265.32 228.70 L265.56 228.97 L265.81 229.19 L266.08 229.41 L266.35 229.65 L266.59 229.96 L266.76 230.31Z" fill="#14d2f2"/></g>
<rect x="194.3" y="257" width="26" height="1" fill="#8a8a8a"/>
<text x="278.7" y="181.1" font-size="8.1" text-anchor="end" font-weight="bold" fill="#fff" >9 d</text>
</g>
<clipPath id="cp10"><rect x="11" y="262.5" width="88.6" height="86.6"/></clipPath>
<g clip-path="url(#cp10)">
<rect x="11" y="262.5" width="88.6" height="86.6" fill="#222"/>
<rect x="11" y="262.5" width="88.6" height="86.6" fill="url(#stripes)"/>
<rect x="11" y="262.5" width="88.6" height="11" fill="url(#topband)"/>
<g transform="translate(28.1 270.3) rotate(1.02)" filter="url(#bl1)"><path d="M7.5 60 L13.5 64.5 L16.5 66 M-7.5 60 L-13.5 64.5 L-16.5 66" fill="none" stroke="#b8b8b8" stroke-width="2.2" stroke-linecap="round"/><path d="M0 62 C1 68 1.6 73 1 79" fill="none" stroke="#b0b0b0" stroke-width="1.9" stroke-linecap="round"/><path d="M0 0 C 0.60 1.00 1.20 2.60 1.70 4.60 C 2.30 7.00 3.20 9.80 4.40 12.30 C 5.80 13.60 7.80 14.60 9.00 16.20 C 9.80 17.60 10.20 19.50 10.40 22.00 C 10.80 28.00 11.30 36.00 11.70 44.00 C 12.00 50.00 12.00 55.00 11.40 58.50 C 10.80 60.80 9.60 62.00 7.00 62.90 C 4.00 63.60 2.00 64.00 0.00 64.00 C -2.00 64.00 -4.00 63.60 -7.00 62.90 C -9.60 62.00 -10.80 60.80 -11.40 58.50 C -12.00 55.00 -12.00 50.00 -11.70 44.00 C -11.30 36.00 -10.80 28.00 -10.40 22.00 C -10.20 19.50 -9.80 17.60 -9.00 16.20 C -7.80 14.60 -5.80 13.60 -4.40 12.30 C -3.20 9.80 -2.30 7.00 -1.70 4.60 C -1.20 2.60 -0.60 1.00 0.00 0.00 Z" fill="url(#mgB)"/><path d="M0 0 C 0.60 1.00 1.20 2.60 1.70 4.60 C 2.30 7.00 3.20 9.80 4.40 12.30 C 5.80 13.60 7.80 14.60 9.00 16.20 C 9.80 17.60 10.20 19.50 10.40 22.00 C 10.80 28.00 11.30 36.00 11.70 44.00 C 12.00 50.00 12.00 55.00 11.40 58.50 C 10.80 60.80 9.60 62.00 7.00 62.90 C 4.00 63.60 2.00 64.00 0.00 64.00 C -2.00 64.00 -4.00 63.60 -7.00 62.90 C -9.60 62.00 -10.80 60.80 -11.40 58.50 C -12.00 55.00 -12.00 50.00 -11.70 44.00 C -11.30 36.00 -10.80 28.00 -10.40 22.00 C -10.20 19.50 -9.80 17.60 -9.00 16.20 C -7.80 14.60 -5.80 13.60 -4.40 12.30 C -3.20 9.80 -2.30 7.00 -1.70 4.60 C -1.20 2.60 -0.60 1.00 0.00 0.00 Z" fill="url(#hs)"/></g>
<g transform="translate(54.7 270.3) rotate(1.15)" filter="url(#bl1)"><path d="M7.5 60 L13.5 64.5 L16.5 66 M-7.5 60 L-13.5 64.5 L-16.5 66" fill="none" stroke="#b8b8b8" stroke-width="2.2" stroke-linecap="round"/><path d="M0 62 C1 68 1.6 73 1 79" fill="none" stroke="#b0b0b0" stroke-width="1.9" stroke-linecap="round"/><path d="M0 0 C 0.60 1.00 1.20 2.60 1.70 4.60 C 2.30 7.00 3.20 9.80 4.40 12.30 C 5.80 13.60 7.80 14.60 9.00 16.20 C 9.80 17.60 10.20 19.50 10.40 22.00 C 10.80 28.00 11.30 36.00 11.70 44.00 C 12.00 50.00 12.00 55.00 11.40 58.50 C 10.80 60.80 9.60 62.00 7.00 62.90 C 4.00 63.60 2.00 64.00 0.00 64.00 C -2.00 64.00 -4.00 63.60 -7.00 62.90 C -9.60 62.00 -10.80 60.80 -11.40 58.50 C -12.00 55.00 -12.00 50.00 -11.70 44.00 C -11.30 36.00 -10.80 28.00 -10.40 22.00 C -10.20 19.50 -9.80 17.60 -9.00 16.20 C -7.80 14.60 -5.80 13.60 -4.40 12.30 C -3.20 9.80 -2.30 7.00 -1.70 4.60 C -1.20 2.60 -0.60 1.00 0.00 0.00 Z" fill="url(#mgA)"/><path d="M0 0 C 0.60 1.00 1.20 2.60 1.70 4.60 C 2.30 7.00 3.20 9.80 4.40 12.30 C 5.80 13.60 7.80 14.60 9.00 16.20 C 9.80 17.60 10.20 19.50 10.40 22.00 C 10.80 28.00 11.30 36.00 11.70 44.00 C 12.00 50.00 12.00 55.00 11.40 58.50 C 10.80 60.80 9.60 62.00 7.00 62.90 C 4.00 63.60 2.00 64.00 0.00 64.00 C -2.00 64.00 -4.00 63.60 -7.00 62.90 C -9.60 62.00 -10.80 60.80 -11.40 58.50 C -12.00 55.00 -12.00 50.00 -11.70 44.00 C -11.30 36.00 -10.80 28.00 -10.40 22.00 C -10.20 19.50 -9.80 17.60 -9.00 16.20 C -7.80 14.60 -5.80 13.60 -4.40 12.30 C -3.20 9.80 -2.30 7.00 -1.70 4.60 C -1.20 2.60 -0.60 1.00 0.00 0.00 Z" fill="url(#hs)"/></g>
<g transform="translate(81.2 270.3) rotate(0.51)" filter="url(#bl1)"><path d="M7.5 60 L13.5 64.5 L16.5 66 M-7.5 60 L-13.5 64.5 L-16.5 66" fill="none" stroke="#b8b8b8" stroke-width="2.2" stroke-linecap="round"/><path d="M0 62 C1 68 1.6 73 1 79" fill="none" stroke="#b0b0b0" stroke-width="1.9" stroke-linecap="round"/><path d="M0 0 C 0.60 1.00 1.20 2.60 1.70 4.60 C 2.30 7.00 3.20 9.80 4.40 12.30 C 5.80 13.60 7.80 14.60 9.00 16.20 C 9.80 17.60 10.20 19.50 10.40 22.00 C 10.80 28.00 11.30 36.00 11.70 44.00 C 12.00 50.00 12.00 55.00 11.40 58.50 C 10.80 60.80 9.60 62.00 7.00 62.90 C 4.00 63.60 2.00 64.00 0.00 64.00 C -2.00 64.00 -4.00 63.60 -7.00 62.90 C -9.60 62.00 -10.80 60.80 -11.40 58.50 C -12.00 55.00 -12.00 50.00 -11.70 44.00 C -11.30 36.00 -10.80 28.00 -10.40 22.00 C -10.20 19.50 -9.80 17.60 -9.00 16.20 C -7.80 14.60 -5.80 13.60 -4.40 12.30 C -3.20 9.80 -2.30 7.00 -1.70 4.60 C -1.20 2.60 -0.60 1.00 0.00 0.00 Z" fill="url(#mgB)"/><path d="M0 0 C 0.60 1.00 1.20 2.60 1.70 4.60 C 2.30 7.00 3.20 9.80 4.40 12.30 C 5.80 13.60 7.80 14.60 9.00 16.20 C 9.80 17.60 10.20 19.50 10.40 22.00 C 10.80 28.00 11.30 36.00 11.70 44.00 C 12.00 50.00 12.00 55.00 11.40 58.50 C 10.80 60.80 9.60 62.00 7.00 62.90 C 4.00 63.60 2.00 64.00 0.00 64.00 C -2.00 64.00 -4.00 63.60 -7.00 62.90 C -9.60 62.00 -10.80 60.80 -11.40 58.50 C -12.00 55.00 -12.00 50.00 -11.70 44.00 C -11.30 36.00 -10.80 28.00 -10.40 22.00 C -10.20 19.50 -9.80 17.60 -9.00 16.20 C -7.80 14.60 -5.80 13.60 -4.40 12.30 C -3.20 9.80 -2.30 7.00 -1.70 4.60 C -1.20 2.60 -0.60 1.00 0.00 0.00 Z" fill="url(#hs)"/></g>
<g filter="url(#bl2)"><path d="M39.92 317.70 L39.82 319.78 L39.27 321.77 L38.35 323.57 L37.20 325.15 L35.92 326.57 L34.56 327.86 L33.08 329.01 L31.43 329.91 L29.65 330.43 L27.80 330.47 L26.01 330.03 L24.36 329.25 L22.88 328.24 L21.53 327.12 L20.28 325.91 L19.14 324.57 L18.16 323.06 L17.38 321.40 L16.80 319.60 L16.41 317.70 L16.21 315.70 L16.25 313.60 L16.63 311.49 L17.46 309.50 L18.76 307.83 L20.45 306.65 L22.34 306.00 L24.26 305.81 L26.09 305.91 L27.80 306.13 L29.44 306.43 L31.04 306.82 L32.61 307.40 L34.11 308.22 L35.50 309.29 L36.77 310.59 L37.90 312.08 L38.86 313.78 L39.57 315.66Z" fill="#ece4f0" opacity="0.6"/><path d="M37.90 317.70 L37.81 319.46 L37.37 321.15 L36.63 322.69 L35.70 324.06 L34.64 325.29 L33.49 326.39 L32.24 327.35 L30.85 328.10 L29.35 328.53 L27.80 328.58 L26.29 328.26 L24.89 327.64 L23.61 326.83 L22.44 325.88 L21.37 324.83 L20.40 323.66 L19.58 322.34 L18.94 320.89 L18.48 319.34 L18.19 317.70 L18.08 315.99 L18.18 314.23 L18.55 312.47 L19.27 310.83 L20.34 309.43 L21.71 308.40 L23.24 307.78 L24.82 307.52 L26.34 307.51 L27.80 307.64 L29.20 307.87 L30.58 308.22 L31.92 308.74 L33.19 309.48 L34.36 310.43 L35.41 311.57 L36.33 312.88 L37.09 314.35 L37.64 315.97Z" fill="#18138e"/><path d="M36.45 317.68 L36.37 319.23 L35.98 320.72 L35.32 322.07 L34.50 323.27 L33.58 324.34 L32.59 325.31 L31.50 326.17 L30.30 326.83 L29.00 327.22 L27.66 327.25 L26.35 326.95 L25.15 326.39 L24.05 325.65 L23.05 324.82 L22.13 323.90 L21.30 322.88 L20.59 321.73 L20.02 320.47 L19.61 319.11 L19.35 317.68 L19.23 316.17 L19.29 314.62 L19.59 313.05 L20.21 311.58 L21.14 310.34 L22.35 309.44 L23.70 308.93 L25.08 308.74 L26.41 308.76 L27.66 308.90 L28.87 309.11 L30.04 309.41 L31.20 309.86 L32.29 310.50 L33.31 311.32 L34.22 312.31 L35.03 313.45 L35.71 314.73 L36.21 316.15Z" fill="#2040ff"/><path d="M33.61 317.63 L33.56 318.78 L33.27 319.88 L32.79 320.88 L32.20 321.75 L31.54 322.53 L30.85 323.24 L30.09 323.88 L29.25 324.38 L28.34 324.67 L27.39 324.69 L26.48 324.44 L25.64 323.99 L24.89 323.43 L24.20 322.81 L23.57 322.14 L22.99 321.40 L22.48 320.58 L22.08 319.67 L21.78 318.68 L21.57 317.63 L21.46 316.52 L21.47 315.36 L21.65 314.18 L22.07 313.08 L22.74 312.15 L23.61 311.50 L24.59 311.16 L25.58 311.07 L26.52 311.14 L27.39 311.28 L28.22 311.45 L29.04 311.66 L29.83 311.97 L30.60 312.42 L31.31 313.00 L31.96 313.71 L32.55 314.53 L33.05 315.46 L33.42 316.51Z" fill="#14d2f2"/><path d="M31.99 317.61 L31.96 318.53 L31.73 319.41 L31.36 320.20 L30.90 320.89 L30.40 321.51 L29.87 322.08 L29.30 322.60 L28.66 323.00 L27.96 323.23 L27.24 323.24 L26.54 323.03 L25.91 322.66 L25.34 322.20 L24.83 321.70 L24.35 321.17 L23.91 320.59 L23.53 319.94 L23.22 319.22 L22.98 318.44 L22.82 317.61 L22.72 316.72 L22.71 315.79 L22.84 314.84 L23.15 313.94 L23.67 313.19 L24.34 312.68 L25.10 312.42 L25.86 312.38 L26.58 312.46 L27.24 312.58 L27.87 312.72 L28.48 312.89 L29.08 313.13 L29.67 313.48 L30.21 313.94 L30.71 314.49 L31.16 315.14 L31.55 315.88 L31.84 316.71Z" fill="#3ce04a"/><path d="M29.66 317.57 L29.64 318.16 L29.52 318.73 L29.30 319.23 L29.04 319.67 L28.76 320.06 L28.47 320.42 L28.16 320.75 L27.81 321.02 L27.42 321.17 L27.02 321.17 L26.64 321.02 L26.30 320.77 L25.99 320.47 L25.71 320.15 L25.45 319.82 L25.21 319.45 L25.00 319.05 L24.82 318.59 L24.69 318.10 L24.59 317.57 L24.53 317.01 L24.51 316.40 L24.57 315.79 L24.74 315.20 L25.03 314.72 L25.41 314.40 L25.84 314.25 L26.27 314.24 L26.66 314.31 L27.02 314.41 L27.36 314.50 L27.70 314.61 L28.03 314.76 L28.35 314.97 L28.65 315.25 L28.92 315.60 L29.18 316.00 L29.40 316.47 L29.57 316.99Z" fill="#f0ee22"/><path d="M28.90 320.90 L28.65 321.64 L28.25 322.28 L27.81 322.84 L27.38 323.36 L26.97 323.87 L26.53 324.38 L26.00 324.83 L25.38 325.14 L24.69 325.27 L24.00 325.22 L23.34 325.06 L22.71 324.87 L22.08 324.67 L21.44 324.43 L20.80 324.10 L20.24 323.63 L19.78 323.05 L19.46 322.38 L19.25 321.65 L19.14 320.90 L19.13 320.13 L19.27 319.36 L19.60 318.66 L20.13 318.09 L20.81 317.71 L21.54 317.51 L22.22 317.42 L22.84 317.33 L23.41 317.18 L24.00 316.98 L24.65 316.80 L25.35 316.74 L26.07 316.84 L26.75 317.11 L27.37 317.53 L27.93 318.05 L28.41 318.65 L28.77 319.35 L28.94 320.12Z" fill="#2040ff"/><path d="M27.07 320.90 L26.98 321.37 L26.88 321.83 L26.71 322.28 L26.46 322.69 L26.13 323.03 L25.76 323.32 L25.37 323.59 L24.96 323.86 L24.51 324.12 L24.00 324.32 L23.45 324.38 L22.91 324.25 L22.44 323.96 L22.06 323.57 L21.74 323.16 L21.43 322.77 L21.12 322.37 L20.83 321.93 L20.62 321.43 L20.58 320.90 L20.70 320.38 L20.94 319.91 L21.24 319.49 L21.55 319.12 L21.85 318.75 L22.19 318.41 L22.59 318.13 L23.04 317.95 L23.52 317.87 L24.00 317.86 L24.48 317.86 L24.99 317.86 L25.54 317.88 L26.11 318.00 L26.62 318.28 L27.01 318.71 L27.21 319.27 L27.24 319.85 L27.17 320.40Z" fill="#2040ff"/><path d="M34.50 316.20 L34.31 316.76 L34.01 317.24 L33.68 317.67 L33.35 318.06 L33.04 318.44 L32.71 318.83 L32.31 319.17 L31.84 319.40 L31.32 319.50 L30.80 319.46 L30.30 319.35 L29.82 319.20 L29.35 319.05 L28.86 318.87 L28.39 318.61 L27.96 318.27 L27.61 317.82 L27.37 317.31 L27.21 316.77 L27.13 316.20 L27.12 315.62 L27.23 315.04 L27.48 314.51 L27.88 314.08 L28.39 313.79 L28.94 313.64 L29.46 313.57 L29.92 313.50 L30.35 313.39 L30.80 313.24 L31.29 313.10 L31.82 313.05 L32.36 313.13 L32.88 313.34 L33.35 313.65 L33.77 314.04 L34.13 314.50 L34.40 315.03 L34.54 315.61Z" fill="#f0ee22"/><path d="M33.12 316.20 L33.05 316.56 L32.97 316.91 L32.85 317.24 L32.66 317.55 L32.41 317.81 L32.13 318.03 L31.83 318.23 L31.53 318.43 L31.19 318.63 L30.80 318.78 L30.38 318.83 L29.98 318.73 L29.62 318.51 L29.33 318.22 L29.09 317.91 L28.86 317.61 L28.62 317.31 L28.40 316.98 L28.25 316.60 L28.21 316.20 L28.30 315.80 L28.49 315.45 L28.72 315.14 L28.95 314.85 L29.18 314.58 L29.43 314.32 L29.73 314.11 L30.07 313.97 L30.44 313.91 L30.80 313.90 L31.16 313.90 L31.55 313.90 L31.96 313.92 L32.39 314.01 L32.78 314.22 L33.07 314.55 L33.22 314.96 L33.25 315.40 L33.20 315.82Z" fill="#f0ee22"/></g>
<g filter="url(#bl2)"><path d="M65.86 319.00 L65.45 320.92 L65.03 322.75 L64.66 324.63 L64.26 326.64 L63.62 328.68 L62.62 330.49 L61.23 331.79 L59.61 332.45 L57.92 332.54 L56.30 332.25 L54.77 331.77 L53.32 331.12 L51.97 330.22 L50.80 329.00 L49.87 327.49 L49.18 325.84 L48.60 324.18 L47.98 322.57 L47.24 320.90 L46.50 319.00 L45.99 316.84 L45.96 314.56 L46.53 312.43 L47.62 310.66 L48.99 309.34 L50.44 308.34 L51.87 307.51 L53.29 306.77 L54.77 306.22 L56.30 306.03 L57.82 306.33 L59.24 307.05 L60.53 308.02 L61.75 309.08 L62.96 310.20 L64.13 311.48 L65.15 313.04 L65.82 314.91 L66.04 316.96Z" fill="#ece4f0" opacity="0.6"/><path d="M64.14 319.00 L63.86 320.67 L63.52 322.27 L63.19 323.89 L62.79 325.57 L62.21 327.24 L61.37 328.72 L60.25 329.80 L58.95 330.39 L57.61 330.53 L56.30 330.36 L55.05 330.00 L53.86 329.47 L52.75 328.72 L51.77 327.70 L50.97 326.43 L50.36 325.02 L49.85 323.58 L49.34 322.15 L48.80 320.65 L48.30 319.00 L47.98 317.16 L48.03 315.25 L48.50 313.46 L49.34 311.95 L50.40 310.77 L51.53 309.86 L52.68 309.10 L53.84 308.45 L55.05 307.99 L56.30 307.84 L57.54 308.07 L58.71 308.65 L59.79 309.45 L60.80 310.36 L61.78 311.36 L62.71 312.51 L63.50 313.88 L64.04 315.49 L64.24 317.25Z" fill="#18138e"/><path d="M63.12 319.02 L62.86 320.50 L62.57 321.92 L62.29 323.36 L61.99 324.88 L61.52 326.41 L60.81 327.77 L59.86 328.75 L58.74 329.27 L57.59 329.36 L56.47 329.18 L55.41 328.83 L54.40 328.34 L53.46 327.67 L52.63 326.74 L51.97 325.59 L51.47 324.33 L51.05 323.05 L50.62 321.80 L50.14 320.48 L49.67 319.02 L49.36 317.37 L49.37 315.64 L49.76 314.02 L50.50 312.67 L51.42 311.64 L52.41 310.84 L53.39 310.18 L54.38 309.61 L55.40 309.19 L56.47 309.06 L57.52 309.27 L58.51 309.81 L59.42 310.54 L60.27 311.36 L61.11 312.23 L61.91 313.23 L62.60 314.45 L63.06 315.88 L63.22 317.45Z" fill="#2040ff"/><path d="M62.44 319.03 L62.19 320.39 L61.94 321.68 L61.71 323.01 L61.45 324.43 L61.06 325.86 L60.44 327.12 L59.59 328.04 L58.60 328.51 L57.57 328.58 L56.58 328.39 L55.64 328.05 L54.75 327.60 L53.93 326.97 L53.21 326.11 L52.63 325.05 L52.20 323.88 L51.84 322.71 L51.46 321.56 L51.02 320.37 L50.58 319.03 L50.28 317.51 L50.27 315.90 L50.62 314.40 L51.28 313.16 L52.11 312.22 L52.99 311.51 L53.87 310.91 L54.74 310.38 L55.64 310.00 L56.58 309.87 L57.51 310.07 L58.38 310.58 L59.18 311.26 L59.92 312.01 L60.66 312.80 L61.38 313.71 L62.00 314.82 L62.41 316.14 L62.54 317.59Z" fill="#14d2f2"/><path d="M61.76 319.04 L61.54 320.27 L61.31 321.45 L61.12 322.67 L60.91 323.97 L60.58 325.29 L60.05 326.47 L59.32 327.32 L58.45 327.74 L57.55 327.79 L56.69 327.59 L55.88 327.27 L55.11 326.85 L54.40 326.27 L53.78 325.48 L53.29 324.50 L52.93 323.43 L52.62 322.37 L52.29 321.34 L51.90 320.26 L51.49 319.04 L51.21 317.65 L51.19 316.17 L51.49 314.79 L52.07 313.65 L52.81 312.80 L53.58 312.17 L54.34 311.63 L55.10 311.16 L55.88 310.80 L56.69 310.68 L57.50 310.87 L58.25 311.34 L58.93 311.97 L59.58 312.66 L60.22 313.38 L60.85 314.19 L61.39 315.20 L61.75 316.40 L61.86 317.73Z" fill="#3ce04a"/><path d="M59.74 319.08 L59.61 319.95 L59.48 320.77 L59.39 321.64 L59.30 322.59 L59.15 323.58 L58.87 324.47 L58.47 325.09 L57.99 325.38 L57.50 325.38 L57.03 325.20 L56.59 324.94 L56.18 324.62 L55.80 324.20 L55.47 323.62 L55.22 322.91 L55.05 322.14 L54.90 321.39 L54.72 320.67 L54.48 319.93 L54.23 319.08 L54.04 318.07 L54.01 316.99 L54.17 315.98 L54.50 315.17 L54.91 314.59 L55.35 314.16 L55.76 313.80 L56.17 313.47 L56.59 313.20 L57.03 313.12 L57.46 313.27 L57.86 313.63 L58.22 314.09 L58.56 314.58 L58.91 315.07 L59.26 315.63 L59.56 316.33 L59.76 317.19 L59.81 318.14Z" fill="#f0ee22"/></g>
<g filter="url(#bl2)"><path d="M93.42 317.70 L93.32 319.44 L92.96 321.10 L92.28 322.59 L91.36 323.79 L90.33 324.71 L89.30 325.49 L88.32 326.28 L87.33 327.16 L86.24 328.02 L85.00 328.66 L83.66 328.87 L82.32 328.56 L81.09 327.80 L79.99 326.77 L79.01 325.59 L78.10 324.30 L77.33 322.85 L76.79 321.21 L76.58 319.46 L76.71 317.70 L77.09 316.05 L77.60 314.53 L78.13 313.09 L78.68 311.65 L79.34 310.24 L80.20 308.99 L81.27 308.07 L82.50 307.56 L83.76 307.42 L85.00 307.47 L86.22 307.57 L87.47 307.69 L88.77 307.96 L90.06 308.53 L91.21 309.52 L92.11 310.90 L92.73 312.51 L93.11 314.23 L93.33 315.96Z" fill="#ece4f0" opacity="0.6"/><path d="M91.54 317.70 L91.46 319.14 L91.19 320.53 L90.69 321.78 L90.01 322.82 L89.23 323.65 L88.44 324.35 L87.65 325.03 L86.85 325.72 L85.98 326.36 L85.00 326.81 L83.96 326.92 L82.93 326.65 L81.98 326.04 L81.12 325.21 L80.35 324.24 L79.66 323.16 L79.07 321.95 L78.66 320.60 L78.48 319.15 L78.54 317.70 L78.80 316.32 L79.16 315.03 L79.57 313.81 L80.02 312.61 L80.56 311.45 L81.25 310.44 L82.09 309.67 L83.04 309.23 L84.03 309.07 L85.00 309.08 L85.96 309.17 L86.94 309.32 L87.93 309.60 L88.91 310.13 L89.78 310.97 L90.48 312.11 L90.96 313.43 L91.28 314.83 L91.46 316.26Z" fill="#18138e"/><path d="M90.30 317.62 L90.24 318.87 L90.01 320.08 L89.59 321.15 L89.02 322.03 L88.37 322.72 L87.73 323.30 L87.10 323.88 L86.46 324.50 L85.76 325.10 L84.98 325.53 L84.13 325.66 L83.28 325.43 L82.51 324.89 L81.81 324.16 L81.18 323.31 L80.62 322.37 L80.13 321.33 L79.79 320.15 L79.65 318.89 L79.72 317.62 L79.95 316.43 L80.26 315.33 L80.60 314.28 L80.95 313.24 L81.38 312.23 L81.93 311.33 L82.61 310.67 L83.39 310.29 L84.19 310.17 L84.98 310.20 L85.75 310.28 L86.54 310.38 L87.36 310.59 L88.17 311.02 L88.89 311.75 L89.46 312.73 L89.86 313.89 L90.10 315.12 L90.25 316.37Z" fill="#2040ff"/><path d="M88.02 317.48 L87.99 318.38 L87.85 319.25 L87.59 320.01 L87.24 320.62 L86.85 321.07 L86.47 321.45 L86.12 321.85 L85.77 322.32 L85.38 322.81 L84.93 323.18 L84.44 323.31 L83.94 323.16 L83.49 322.76 L83.09 322.21 L82.73 321.60 L82.39 320.92 L82.10 320.17 L81.90 319.32 L81.83 318.40 L81.89 317.48 L82.05 316.63 L82.25 315.85 L82.44 315.11 L82.63 314.37 L82.87 313.63 L83.17 312.97 L83.57 312.49 L84.02 312.23 L84.48 312.18 L84.93 312.22 L85.37 312.27 L85.83 312.31 L86.31 312.42 L86.79 312.69 L87.23 313.20 L87.56 313.92 L87.78 314.77 L87.91 315.67 L87.99 316.58Z" fill="#14d2f2"/><path d="M86.56 317.39 L86.54 318.07 L86.46 318.72 L86.32 319.29 L86.13 319.73 L85.91 320.05 L85.71 320.31 L85.53 320.61 L85.34 320.97 L85.14 321.36 L84.90 321.67 L84.64 321.79 L84.37 321.68 L84.13 321.38 L83.91 320.96 L83.72 320.49 L83.54 319.99 L83.38 319.42 L83.28 318.78 L83.24 318.08 L83.28 317.39 L83.37 316.75 L83.48 316.18 L83.59 315.63 L83.69 315.07 L83.80 314.51 L83.96 314.01 L84.17 313.64 L84.42 313.46 L84.66 313.44 L84.90 313.48 L85.14 313.51 L85.38 313.53 L85.64 313.59 L85.90 313.78 L86.14 314.15 L86.32 314.69 L86.43 315.34 L86.50 316.03 L86.54 316.71Z" fill="#3ce04a"/></g>
<rect x="13" y="345.5" width="26" height="1" fill="#8a8a8a"/>
<text x="97.4" y="269.6" font-size="8.1" text-anchor="end" font-weight="bold" fill="#fff" >10 d</text>
</g>
<clipPath id="cp11"><rect x="102" y="262.5" width="88.6" height="86.6"/></clipPath>
<g clip-path="url(#cp11)">
<rect x="102" y="262.5" width="88.6" height="86.6" fill="#222"/>
<rect x="102" y="262.5" width="88.6" height="86.6" fill="url(#stripes)"/>
<rect x="102" y="262.5" width="88.6" height="11" fill="url(#topband)"/>
<g transform="translate(119.1 270.3) rotate(0.51)" filter="url(#bl1)"><path d="M7.5 60 L13.5 64.5 L16.5 66 M-7.5 60 L-13.5 64.5 L-16.5 66" fill="none" stroke="#b8b8b8" stroke-width="2.2" stroke-linecap="round"/><path d="M0 62 C1 68 1.6 73 1 79" fill="none" stroke="#b0b0b0" stroke-width="1.9" stroke-linecap="round"/><path d="M0 0 C 0.60 1.00 1.20 2.60 1.70 4.60 C 2.30 7.00 3.20 9.80 4.40 12.30 C 5.80 13.60 7.80 14.60 9.00 16.20 C 9.80 17.60 10.20 19.50 10.40 22.00 C 10.80 28.00 11.30 36.00 11.70 44.00 C 12.00 50.00 12.00 55.00 11.40 58.50 C 10.80 60.80 9.60 62.00 7.00 62.90 C 4.00 63.60 2.00 64.00 0.00 64.00 C -2.00 64.00 -4.00 63.60 -7.00 62.90 C -9.60 62.00 -10.80 60.80 -11.40 58.50 C -12.00 55.00 -12.00 50.00 -11.70 44.00 C -11.30 36.00 -10.80 28.00 -10.40 22.00 C -10.20 19.50 -9.80 17.60 -9.00 16.20 C -7.80 14.60 -5.80 13.60 -4.40 12.30 C -3.20 9.80 -2.30 7.00 -1.70 4.60 C -1.20 2.60 -0.60 1.00 0.00 0.00 Z" fill="url(#mgB)"/><path d="M0 0 C 0.60 1.00 1.20 2.60 1.70 4.60 C 2.30 7.00 3.20 9.80 4.40 12.30 C 5.80 13.60 7.80 14.60 9.00 16.20 C 9.80 17.60 10.20 19.50 10.40 22.00 C 10.80 28.00 11.30 36.00 11.70 44.00 C 12.00 50.00 12.00 55.00 11.40 58.50 C 10.80 60.80 9.60 62.00 7.00 62.90 C 4.00 63.60 2.00 64.00 0.00 64.00 C -2.00 64.00 -4.00 63.60 -7.00 62.90 C -9.60 62.00 -10.80 60.80 -11.40 58.50 C -12.00 55.00 -12.00 50.00 -11.70 44.00 C -11.30 36.00 -10.80 28.00 -10.40 22.00 C -10.20 19.50 -9.80 17.60 -9.00 16.20 C -7.80 14.60 -5.80 13.60 -4.40 12.30 C -3.20 9.80 -2.30 7.00 -1.70 4.60 C -1.20 2.60 -0.60 1.00 0.00 0.00 Z" fill="url(#hs)"/></g>
<g transform="translate(145.7 270.3) rotate(1.66)" filter="url(#bl1)"><path d="M7.5 60 L13.5 64.5 L16.5 66 M-7.5 60 L-13.5 64.5 L-16.5 66" fill="none" stroke="#b8b8b8" stroke-width="2.2" stroke-linecap="round"/><path d="M0 62 C1 68 1.6 73 1 79" fill="none" stroke="#b0b0b0" stroke-width="1.9" stroke-linecap="round"/><path d="M0 0 C 0.60 1.00 1.20 2.60 1.70 4.60 C 2.30 7.00 3.20 9.80 4.40 12.30 C 5.80 13.60 7.80 14.60 9.00 16.20 C 9.80 17.60 10.20 19.50 10.40 22.00 C 10.80 28.00 11.30 36.00 11.70 44.00 C 12.00 50.00 12.00 55.00 11.40 58.50 C 10.80 60.80 9.60 62.00 7.00 62.90 C 4.00 63.60 2.00 64.00 0.00 64.00 C -2.00 64.00 -4.00 63.60 -7.00 62.90 C -9.60 62.00 -10.80 60.80 -11.40 58.50 C -12.00 55.00 -12.00 50.00 -11.70 44.00 C -11.30 36.00 -10.80 28.00 -10.40 22.00 C -10.20 19.50 -9.80 17.60 -9.00 16.20 C -7.80 14.60 -5.80 13.60 -4.40 12.30 C -3.20 9.80 -2.30 7.00 -1.70 4.60 C -1.20 2.60 -0.60 1.00 0.00 0.00 Z" fill="url(#mgA)"/><path d="M0 0 C 0.60 1.00 1.20 2.60 1.70 4.60 C 2.30 7.00 3.20 9.80 4.40 12.30 C 5.80 13.60 7.80 14.60 9.00 16.20 C 9.80 17.60 10.20 19.50 10.40 22.00 C 10.80 28.00 11.30 36.00 11.70 44.00 C 12.00 50.00 12.00 55.00 11.40 58.50 C 10.80 60.80 9.60 62.00 7.00 62.90 C 4.00 63.60 2.00 64.00 0.00 64.00 C -2.00 64.00 -4.00 63.60 -7.00 62.90 C -9.60 62.00 -10.80 60.80 -11.40 58.50 C -12.00 55.00 -12.00 50.00 -11.70 44.00 C -11.30 36.00 -10.80 28.00 -10.40 22.00 C -10.20 19.50 -9.80 17.60 -9.00 16.20 C -7.80 14.60 -5.80 13.60 -4.40 12.30 C -3.20 9.80 -2.30 7.00 -1.70 4.60 C -1.20 2.60 -0.60 1.00 0.00 0.00 Z" fill="url(#hs)"/></g>
<g transform="translate(172.2 270.3) rotate(-1.15)" filter="url(#bl1)"><path d="M7.5 60 L13.5 64.5 L16.5 66 M-7.5 60 L-13.5 64.5 L-16.5 66" fill="none" stroke="#b8b8b8" stroke-width="2.2" stroke-linecap="round"/><path d="M0 62 C1 68 1.6 73 1 79" fill="none" stroke="#b0b0b0" stroke-width="1.9" stroke-linecap="round"/><path d="M0 0 C 0.60 1.00 1.20 2.60 1.70 4.60 C 2.30 7.00 3.20 9.80 4.40 12.30 C 5.80 13.60 7.80 14.60 9.00 16.20 C 9.80 17.60 10.20 19.50 10.40 22.00 C 10.80 28.00 11.30 36.00 11.70 44.00 C 12.00 50.00 12.00 55.00 11.40 58.50 C 10.80 60.80 9.60 62.00 7.00 62.90 C 4.00 63.60 2.00 64.00 0.00 64.00 C -2.00 64.00 -4.00 63.60 -7.00 62.90 C -9.60 62.00 -10.80 60.80 -11.40 58.50 C -12.00 55.00 -12.00 50.00 -11.70 44.00 C -11.30 36.00 -10.80 28.00 -10.40 22.00 C -10.20 19.50 -9.80 17.60 -9.00 16.20 C -7.80 14.60 -5.80 13.60 -4.40 12.30 C -3.20 9.80 -2.30 7.00 -1.70 4.60 C -1.20 2.60 -0.60 1.00 0.00 0.00 Z" fill="url(#mgB)"/><path d="M0 0 C 0.60 1.00 1.20 2.60 1.70 4.60 C 2.30 7.00 3.20 9.80 4.40 12.30 C 5.80 13.60 7.80 14.60 9.00 16.20 C 9.80 17.60 10.20 19.50 10.40 22.00 C 10.80 28.00 11.30 36.00 11.70 44.00 C 12.00 50.00 12.00 55.00 11.40 58.50 C 10.80 60.80 9.60 62.00 7.00 62.90 C 4.00 63.60 2.00 64.00 0.00 64.00 C -2.00 64.00 -4.00 63.60 -7.00 62.90 C -9.60 62.00 -10.80 60.80 -11.40 58.50 C -12.00 55.00 -12.00 50.00 -11.70 44.00 C -11.30 36.00 -10.80 28.00 -10.40 22.00 C -10.20 19.50 -9.80 17.60 -9.00 16.20 C -7.80 14.60 -5.80 13.60 -4.40 12.30 C -3.20 9.80 -2.30 7.00 -1.70 4.60 C -1.20 2.60 -0.60 1.00 0.00 0.00 Z" fill="url(#hs)"/></g>
<g filter="url(#bl2)"><path d="M134.34 317.00 L134.03 319.05 L133.40 320.98 L132.59 322.77 L131.64 324.44 L130.53 325.99 L129.24 327.35 L127.75 328.45 L126.12 329.26 L124.39 329.79 L122.60 330.07 L120.77 330.09 L118.94 329.77 L117.20 329.01 L115.69 327.78 L114.54 326.13 L113.77 324.27 L113.31 322.36 L112.98 320.54 L112.64 318.79 L112.26 317.00 L111.95 315.09 L111.86 313.05 L112.14 310.96 L112.86 308.99 L113.98 307.24 L115.41 305.78 L117.05 304.67 L118.86 303.95 L120.74 303.68 L122.60 303.89 L124.34 304.53 L125.90 305.48 L127.30 306.56 L128.61 307.62 L129.94 308.68 L131.30 309.84 L132.59 311.24 L133.62 312.94 L134.23 314.91Z" fill="#ece4f0" opacity="0.6"/><path d="M132.40 317.00 L132.16 318.75 L131.67 320.41 L131.01 321.96 L130.22 323.41 L129.28 324.73 L128.18 325.89 L126.93 326.83 L125.55 327.52 L124.10 327.97 L122.60 328.19 L121.07 328.17 L119.55 327.87 L118.10 327.22 L116.83 326.19 L115.83 324.84 L115.12 323.29 L114.66 321.69 L114.32 320.11 L114.02 318.57 L113.75 317.00 L113.56 315.34 L113.57 313.60 L113.87 311.85 L114.51 310.20 L115.46 308.73 L116.64 307.51 L118.01 306.56 L119.50 305.94 L121.05 305.67 L122.60 305.78 L124.07 306.26 L125.41 306.99 L126.62 307.86 L127.76 308.77 L128.88 309.73 L129.99 310.78 L131.01 312.04 L131.82 313.53 L132.30 315.22Z" fill="#18138e"/><path d="M131.22 316.94 L131.01 318.49 L130.57 319.96 L129.99 321.32 L129.30 322.59 L128.50 323.76 L127.55 324.79 L126.47 325.62 L125.29 326.23 L124.03 326.63 L122.73 326.83 L121.41 326.83 L120.09 326.57 L118.84 326.00 L117.74 325.07 L116.89 323.86 L116.30 322.47 L115.93 321.05 L115.66 319.66 L115.41 318.32 L115.16 316.94 L114.96 315.49 L114.94 313.95 L115.18 312.39 L115.72 310.91 L116.53 309.60 L117.56 308.51 L118.74 307.68 L120.04 307.13 L121.39 306.90 L122.73 307.03 L124.00 307.48 L125.15 308.16 L126.18 308.95 L127.15 309.76 L128.11 310.58 L129.08 311.49 L129.99 312.57 L130.71 313.88 L131.13 315.37Z" fill="#2040ff"/><path d="M130.40 316.90 L130.20 318.31 L129.81 319.64 L129.29 320.87 L128.67 322.02 L127.96 323.09 L127.12 324.02 L126.16 324.78 L125.10 325.33 L123.98 325.70 L122.83 325.88 L121.65 325.89 L120.47 325.67 L119.35 325.14 L118.37 324.30 L117.62 323.18 L117.12 321.91 L116.80 320.61 L116.58 319.35 L116.36 318.14 L116.12 316.90 L115.93 315.59 L115.89 314.19 L116.08 312.76 L116.56 311.41 L117.28 310.21 L118.20 309.22 L119.26 308.46 L120.42 307.96 L121.63 307.77 L122.83 307.90 L123.95 308.33 L124.97 308.97 L125.88 309.69 L126.73 310.43 L127.59 311.16 L128.46 311.97 L129.28 312.94 L129.94 314.12 L130.32 315.47Z" fill="#14d2f2"/><path d="M129.48 316.86 L129.31 318.11 L128.96 319.28 L128.50 320.38 L127.97 321.39 L127.35 322.34 L126.63 323.17 L125.80 323.84 L124.89 324.34 L123.93 324.66 L122.93 324.83 L121.91 324.85 L120.89 324.65 L119.92 324.19 L119.07 323.43 L118.43 322.43 L118.01 321.29 L117.76 320.12 L117.58 319.01 L117.39 317.95 L117.18 316.86 L117.00 315.70 L116.94 314.45 L117.10 313.18 L117.50 311.97 L118.12 310.90 L118.91 310.01 L119.83 309.34 L120.84 308.90 L121.89 308.73 L122.93 308.86 L123.90 309.27 L124.77 309.85 L125.54 310.51 L126.28 311.16 L127.02 311.80 L127.78 312.50 L128.50 313.35 L129.08 314.39 L129.42 315.59Z" fill="#3ce04a"/><path d="M127.45 316.77 L127.32 317.67 L127.08 318.51 L126.78 319.29 L126.43 320.01 L126.03 320.69 L125.57 321.29 L125.03 321.78 L124.44 322.14 L123.81 322.38 L123.16 322.51 L122.49 322.53 L121.82 322.40 L121.18 322.07 L120.63 321.51 L120.23 320.77 L119.98 319.92 L119.84 319.08 L119.74 318.28 L119.62 317.53 L119.47 316.77 L119.33 315.94 L119.26 315.04 L119.34 314.11 L119.59 313.22 L119.99 312.44 L120.51 311.79 L121.12 311.30 L121.78 310.99 L122.48 310.88 L123.16 311.00 L123.79 311.33 L124.35 311.78 L124.84 312.27 L125.30 312.74 L125.78 313.18 L126.29 313.66 L126.78 314.25 L127.17 314.98 L127.41 315.85Z" fill="#f0ee22"/><path d="M125.95 316.70 L125.87 317.34 L125.72 317.94 L125.53 318.49 L125.32 319.01 L125.08 319.50 L124.79 319.93 L124.47 320.28 L124.10 320.54 L123.72 320.71 L123.32 320.81 L122.92 320.83 L122.50 320.74 L122.11 320.51 L121.78 320.10 L121.54 319.56 L121.39 318.94 L121.32 318.33 L121.27 317.77 L121.20 317.24 L121.10 316.70 L121.00 316.11 L120.95 315.46 L120.99 314.79 L121.13 314.15 L121.38 313.58 L121.70 313.11 L122.07 312.76 L122.48 312.54 L122.91 312.47 L123.32 312.57 L123.71 312.82 L124.04 313.16 L124.34 313.52 L124.61 313.86 L124.91 314.16 L125.22 314.49 L125.53 314.90 L125.78 315.42 L125.93 316.04Z" fill="#ff1c00"/></g>
<g filter="url(#bl2)"><path d="M157.48 317.00 L157.30 319.22 L156.77 321.32 L156.03 323.27 L155.20 325.14 L154.32 327.00 L153.29 328.87 L152.03 330.57 L150.48 331.87 L148.73 332.58 L146.90 332.65 L145.12 332.19 L143.44 331.36 L141.88 330.28 L140.47 328.94 L139.26 327.30 L138.36 325.37 L137.82 323.24 L137.57 321.09 L137.47 319.01 L137.38 317.00 L137.24 314.94 L137.15 312.73 L137.29 310.39 L137.82 308.10 L138.80 306.08 L140.15 304.47 L141.73 303.31 L143.41 302.50 L145.14 301.98 L146.90 301.76 L148.67 301.95 L150.35 302.66 L151.86 303.88 L153.11 305.47 L154.15 307.22 L155.07 309.00 L155.92 310.80 L156.69 312.71 L157.26 314.79Z" fill="#ece4f0" opacity="0.6"/><path d="M155.74 317.00 L155.59 318.95 L155.17 320.81 L154.57 322.55 L153.88 324.19 L153.11 325.81 L152.21 327.37 L151.13 328.77 L149.84 329.84 L148.40 330.42 L146.90 330.50 L145.43 330.15 L144.04 329.48 L142.75 328.57 L141.56 327.42 L140.55 326.01 L139.77 324.36 L139.25 322.53 L138.98 320.65 L138.85 318.81 L138.77 317.00 L138.70 315.16 L138.70 313.22 L138.90 311.22 L139.40 309.27 L140.24 307.55 L141.35 306.17 L142.64 305.15 L144.02 304.43 L145.45 303.96 L146.90 303.78 L148.36 303.95 L149.75 304.54 L151.01 305.54 L152.09 306.86 L153.00 308.35 L153.79 309.90 L154.50 311.50 L155.12 313.21 L155.57 315.05Z" fill="#18138e"/><path d="M154.64 316.95 L154.51 318.72 L154.14 320.40 L153.61 321.96 L153.01 323.44 L152.36 324.91 L151.60 326.35 L150.67 327.66 L149.56 328.65 L148.30 329.20 L147.00 329.26 L145.72 328.92 L144.51 328.29 L143.39 327.45 L142.37 326.40 L141.49 325.12 L140.83 323.60 L140.41 321.93 L140.20 320.23 L140.11 318.57 L140.04 316.95 L139.96 315.30 L139.93 313.55 L140.07 311.71 L140.48 309.93 L141.20 308.35 L142.17 307.09 L143.29 306.16 L144.49 305.52 L145.73 305.10 L147.00 304.93 L148.26 305.08 L149.48 305.63 L150.56 306.57 L151.48 307.79 L152.25 309.15 L152.93 310.56 L153.54 312.00 L154.09 313.53 L154.48 315.19Z" fill="#2040ff"/><path d="M154.00 316.93 L153.88 318.58 L153.54 320.15 L153.06 321.61 L152.51 323.00 L151.92 324.39 L151.24 325.76 L150.40 327.01 L149.39 327.96 L148.25 328.47 L147.05 328.53 L145.89 328.20 L144.79 327.60 L143.77 326.80 L142.84 325.81 L142.05 324.60 L141.45 323.16 L141.08 321.59 L140.90 319.99 L140.82 318.44 L140.76 316.93 L140.68 315.38 L140.64 313.73 L140.75 312.01 L141.11 310.31 L141.76 308.82 L142.64 307.63 L143.67 306.76 L144.77 306.16 L145.90 305.77 L147.05 305.60 L148.21 305.75 L149.31 306.27 L150.30 307.16 L151.13 308.33 L151.82 309.62 L152.43 310.94 L152.99 312.29 L153.49 313.72 L153.86 315.28Z" fill="#14d2f2"/><path d="M153.36 316.90 L153.25 318.45 L152.94 319.91 L152.50 321.27 L152.01 322.57 L151.49 323.87 L150.88 325.16 L150.14 326.35 L149.22 327.25 L148.19 327.74 L147.11 327.79 L146.06 327.47 L145.07 326.90 L144.15 326.15 L143.31 325.22 L142.60 324.07 L142.07 322.73 L141.74 321.25 L141.59 319.75 L141.54 318.30 L141.48 316.90 L141.40 315.46 L141.35 313.92 L141.43 312.30 L141.75 310.70 L142.33 309.29 L143.12 308.18 L144.06 307.37 L145.05 306.80 L146.07 306.44 L147.11 306.28 L148.15 306.42 L149.15 306.91 L150.04 307.76 L150.78 308.86 L151.39 310.08 L151.93 311.32 L152.44 312.58 L152.89 313.91 L153.23 315.36Z" fill="#3ce04a"/><path d="M152.45 316.86 L152.36 318.25 L152.09 319.57 L151.72 320.78 L151.31 321.95 L150.87 323.13 L150.37 324.31 L149.75 325.40 L148.98 326.24 L148.10 326.69 L147.19 326.73 L146.30 326.43 L145.46 325.90 L144.69 325.21 L143.98 324.36 L143.39 323.33 L142.95 322.10 L142.68 320.76 L142.57 319.41 L142.54 318.11 L142.49 316.86 L142.42 315.57 L142.35 314.19 L142.40 312.71 L142.66 311.26 L143.14 309.98 L143.82 308.97 L144.61 308.24 L145.45 307.73 L146.31 307.40 L147.19 307.26 L148.07 307.38 L148.91 307.84 L149.66 308.62 L150.28 309.63 L150.79 310.74 L151.23 311.86 L151.66 312.99 L152.05 314.18 L152.33 315.47Z" fill="#f0ee22"/><path d="M151.63 316.82 L151.55 318.08 L151.33 319.26 L151.01 320.35 L150.68 321.40 L150.32 322.46 L149.91 323.55 L149.40 324.55 L148.76 325.32 L148.03 325.73 L147.26 325.76 L146.52 325.48 L145.82 324.99 L145.18 324.36 L144.59 323.59 L144.10 322.65 L143.74 321.54 L143.53 320.33 L143.45 319.11 L143.43 317.94 L143.39 316.82 L143.32 315.67 L143.25 314.42 L143.28 313.09 L143.48 311.76 L143.88 310.60 L144.44 309.68 L145.10 309.02 L145.81 308.57 L146.53 308.28 L147.26 308.15 L148.00 308.26 L148.70 308.67 L149.32 309.39 L149.83 310.32 L150.24 311.33 L150.61 312.34 L150.96 313.35 L151.29 314.41 L151.53 315.58Z" fill="#ff1c00"/></g>
<g filter="url(#bl2)"><path d="M186.36 317.80 L186.72 319.63 L186.68 321.54 L186.14 323.40 L185.13 325.09 L183.78 326.54 L182.20 327.77 L180.46 328.76 L178.59 329.48 L176.61 329.86 L174.60 329.84 L172.66 329.47 L170.83 328.85 L169.08 328.11 L167.37 327.28 L165.66 326.31 L164.07 325.08 L162.79 323.53 L162.03 321.69 L161.86 319.72 L162.20 317.80 L162.84 316.03 L163.59 314.39 L164.34 312.82 L165.15 311.26 L166.11 309.72 L167.34 308.29 L168.86 307.07 L170.61 306.12 L172.54 305.44 L174.60 305.05 L176.73 304.99 L178.84 305.38 L180.77 306.27 L182.35 307.64 L183.49 309.34 L184.23 311.14 L184.75 312.88 L185.24 314.51 L185.80 316.11Z" fill="#ece4f0" opacity="0.6"/><path d="M184.81 317.80 L185.03 319.36 L184.92 320.97 L184.42 322.52 L183.56 323.94 L182.41 325.18 L181.08 326.21 L179.59 327.06 L178.00 327.67 L176.31 328.00 L174.60 328.01 L172.93 327.74 L171.35 327.24 L169.84 326.61 L168.38 325.88 L166.95 325.02 L165.65 323.94 L164.59 322.61 L163.94 321.07 L163.74 319.42 L163.95 317.80 L164.42 316.28 L165.01 314.86 L165.66 313.50 L166.38 312.16 L167.26 310.87 L168.36 309.70 L169.69 308.70 L171.20 307.93 L172.86 307.40 L174.60 307.11 L176.40 307.09 L178.17 307.43 L179.80 308.16 L181.18 309.25 L182.21 310.61 L182.94 312.08 L183.47 313.53 L183.93 314.94 L184.40 316.33Z" fill="#18138e"/><path d="M183.59 317.91 L183.82 319.26 L183.75 320.67 L183.33 322.04 L182.57 323.28 L181.56 324.36 L180.38 325.26 L179.07 326.00 L177.66 326.53 L176.18 326.81 L174.67 326.82 L173.21 326.56 L171.82 326.12 L170.50 325.57 L169.21 324.94 L167.95 324.20 L166.78 323.28 L165.83 322.12 L165.26 320.77 L165.10 319.33 L165.32 317.91 L165.76 316.58 L166.30 315.36 L166.87 314.18 L167.49 313.02 L168.25 311.89 L169.20 310.85 L170.35 309.97 L171.68 309.28 L173.13 308.80 L174.67 308.53 L176.26 308.51 L177.83 308.80 L179.28 309.44 L180.48 310.42 L181.36 311.64 L181.97 312.94 L182.40 314.22 L182.79 315.43 L183.21 316.64Z" fill="#2040ff"/><path d="M182.76 317.98 L182.99 319.20 L182.94 320.46 L182.57 321.70 L181.88 322.82 L180.96 323.79 L179.89 324.60 L178.71 325.26 L177.43 325.74 L176.09 325.99 L174.72 325.99 L173.40 325.75 L172.15 325.35 L170.96 324.85 L169.79 324.29 L168.63 323.64 L167.56 322.82 L166.70 321.78 L166.18 320.56 L166.05 319.26 L166.26 317.98 L166.69 316.80 L167.19 315.70 L167.70 314.65 L168.25 313.61 L168.92 312.59 L169.77 311.65 L170.81 310.85 L172.01 310.22 L173.32 309.78 L174.72 309.53 L176.17 309.50 L177.59 309.75 L178.91 310.34 L179.99 311.24 L180.78 312.35 L181.30 313.53 L181.67 314.69 L182.02 315.78 L182.40 316.85Z" fill="#14d2f2"/><path d="M181.66 318.08 L181.88 319.11 L181.86 320.19 L181.55 321.24 L180.96 322.20 L180.17 323.02 L179.24 323.71 L178.22 324.27 L177.12 324.68 L175.96 324.89 L174.79 324.88 L173.65 324.67 L172.58 324.32 L171.56 323.90 L170.55 323.43 L169.55 322.89 L168.62 322.19 L167.86 321.32 L167.41 320.28 L167.32 319.16 L167.52 318.08 L167.91 317.08 L168.35 316.16 L168.79 315.27 L169.26 314.39 L169.82 313.52 L170.54 312.71 L171.42 312.02 L172.45 311.48 L173.58 311.09 L174.79 310.86 L176.04 310.83 L177.27 311.05 L178.41 311.55 L179.33 312.33 L179.99 313.30 L180.42 314.32 L180.71 315.30 L181.00 316.22 L181.33 317.13Z" fill="#3ce04a"/><path d="M180.39 318.19 L180.59 319.01 L180.60 319.87 L180.35 320.71 L179.88 321.47 L179.23 322.12 L178.48 322.67 L177.65 323.11 L176.76 323.44 L175.82 323.60 L174.86 323.59 L173.94 323.41 L173.08 323.12 L172.26 322.79 L171.44 322.43 L170.62 322.00 L169.85 321.47 L169.23 320.77 L168.87 319.94 L168.80 319.05 L168.99 318.19 L169.32 317.40 L169.69 316.68 L170.05 315.99 L170.42 315.29 L170.86 314.59 L171.43 313.94 L172.14 313.38 L172.97 312.95 L173.88 312.63 L174.86 312.44 L175.88 312.41 L176.89 312.58 L177.81 312.98 L178.56 313.62 L179.08 314.40 L179.40 315.23 L179.62 316.01 L179.84 316.74 L180.11 317.44Z" fill="#f0ee22"/><path d="M178.79 318.34 L178.95 318.88 L178.97 319.45 L178.80 320.01 L178.47 320.52 L178.02 320.96 L177.49 321.32 L176.91 321.62 L176.29 321.83 L175.63 321.94 L174.96 321.92 L174.32 321.80 L173.72 321.60 L173.15 321.38 L172.58 321.14 L172.00 320.87 L171.45 320.52 L171.01 320.06 L170.75 319.51 L170.72 318.91 L170.87 318.34 L171.12 317.82 L171.39 317.35 L171.64 316.89 L171.89 316.43 L172.18 315.96 L172.57 315.52 L173.06 315.15 L173.64 314.85 L174.27 314.63 L174.96 314.50 L175.68 314.46 L176.39 314.57 L177.04 314.85 L177.55 315.29 L177.90 315.82 L178.11 316.38 L178.24 316.91 L178.38 317.39 L178.57 317.85Z" fill="#ff7a10"/><path d="M173.62 317.80 L173.57 318.08 L173.48 318.36 L173.36 318.62 L173.22 318.87 L173.06 319.13 L172.88 319.40 L172.65 319.67 L172.36 319.92 L172.00 320.10 L171.60 320.15 L171.20 320.08 L170.85 319.89 L170.57 319.64 L170.35 319.36 L170.17 319.10 L170.00 318.85 L169.85 318.61 L169.72 318.36 L169.61 318.09 L169.55 317.80 L169.53 317.50 L169.54 317.19 L169.60 316.88 L169.73 316.56 L169.93 316.29 L170.22 316.07 L170.55 315.93 L170.91 315.87 L171.26 315.85 L171.60 315.85 L171.94 315.85 L172.29 315.86 L172.65 315.92 L172.99 316.06 L173.27 316.29 L173.46 316.57 L173.58 316.88 L173.63 317.20 L173.64 317.51Z" fill="#ff1c00"/><path d="M180.48 317.30 L180.42 317.61 L180.32 317.91 L180.18 318.20 L180.02 318.48 L179.83 318.76 L179.61 319.06 L179.34 319.36 L179.00 319.63 L178.57 319.83 L178.10 319.89 L177.63 319.81 L177.22 319.60 L176.88 319.32 L176.62 319.02 L176.41 318.73 L176.21 318.46 L176.03 318.19 L175.87 317.91 L175.75 317.61 L175.68 317.30 L175.65 316.97 L175.67 316.63 L175.74 316.28 L175.89 315.94 L176.13 315.63 L176.47 315.40 L176.86 315.25 L177.28 315.18 L177.70 315.16 L178.10 315.15 L178.50 315.15 L178.92 315.17 L179.34 315.24 L179.74 315.39 L180.07 315.63 L180.30 315.95 L180.44 316.29 L180.50 316.64 L180.51 316.98Z" fill="#ff1c00"/></g>
<rect x="104" y="345.5" width="26" height="1" fill="#8a8a8a"/>
<text x="188.4" y="269.6" font-size="8.1" text-anchor="end" font-weight="bold" fill="#fff" >10.25 d</text>
</g>
<clipPath id="cp12"><rect x="192.3" y="262.5" width="88.6" height="86.6"/></clipPath>
<g clip-path="url(#cp12)">
<rect x="192.3" y="262.5" width="88.6" height="86.6" fill="#222"/>
<rect x="192.3" y="262.5" width="88.6" height="86.6" fill="url(#stripes)"/>
<rect x="192.3" y="262.5" width="88.6" height="11" fill="url(#topband)"/>
<g transform="translate(209.1 270.3) rotate(-0.13)" filter="url(#bl1)"><path d="M7.5 60 L13.5 64.5 L16.5 66 M-7.5 60 L-13.5 64.5 L-16.5 66" fill="none" stroke="#b8b8b8" stroke-width="2.2" stroke-linecap="round"/><path d="M0 62 C1 68 1.6 73 1 79" fill="none" stroke="#b0b0b0" stroke-width="1.9" stroke-linecap="round"/><path d="M0 0 C 0.60 1.00 1.20 2.60 1.70 4.60 C 2.30 7.00 3.20 9.80 4.40 12.30 C 5.80 13.60 7.80 14.60 9.00 16.20 C 9.80 17.60 10.20 19.50 10.40 22.00 C 10.80 28.00 11.30 36.00 11.70 44.00 C 12.00 50.00 12.00 55.00 11.40 58.50 C 10.80 60.80 9.60 62.00 7.00 62.90 C 4.00 63.60 2.00 64.00 0.00 64.00 C -2.00 64.00 -4.00 63.60 -7.00 62.90 C -9.60 62.00 -10.80 60.80 -11.40 58.50 C -12.00 55.00 -12.00 50.00 -11.70 44.00 C -11.30 36.00 -10.80 28.00 -10.40 22.00 C -10.20 19.50 -9.80 17.60 -9.00 16.20 C -7.80 14.60 -5.80 13.60 -4.40 12.30 C -3.20 9.80 -2.30 7.00 -1.70 4.60 C -1.20 2.60 -0.60 1.00 0.00 0.00 Z" fill="url(#mgB)"/><path d="M0 0 C 0.60 1.00 1.20 2.60 1.70 4.60 C 2.30 7.00 3.20 9.80 4.40 12.30 C 5.80 13.60 7.80 14.60 9.00 16.20 C 9.80 17.60 10.20 19.50 10.40 22.00 C 10.80 28.00 11.30 36.00 11.70 44.00 C 12.00 50.00 12.00 55.00 11.40 58.50 C 10.80 60.80 9.60 62.00 7.00 62.90 C 4.00 63.60 2.00 64.00 0.00 64.00 C -2.00 64.00 -4.00 63.60 -7.00 62.90 C -9.60 62.00 -10.80 60.80 -11.40 58.50 C -12.00 55.00 -12.00 50.00 -11.70 44.00 C -11.30 36.00 -10.80 28.00 -10.40 22.00 C -10.20 19.50 -9.80 17.60 -9.00 16.20 C -7.80 14.60 -5.80 13.60 -4.40 12.30 C -3.20 9.80 -2.30 7.00 -1.70 4.60 C -1.20 2.60 -0.60 1.00 0.00 0.00 Z" fill="url(#hs)"/></g>
<g transform="translate(235.7 270.3) rotate(-1.02)" filter="url(#bl1)"><path d="M7.5 60 L13.5 64.5 L16.5 66 M-7.5 60 L-13.5 64.5 L-16.5 66" fill="none" stroke="#b8b8b8" stroke-width="2.2" stroke-linecap="round"/><path d="M0 62 C1 68 1.6 73 1 79" fill="none" stroke="#b0b0b0" stroke-width="1.9" stroke-linecap="round"/><path d="M0 0 C 0.60 1.00 1.20 2.60 1.70 4.60 C 2.30 7.00 3.20 9.80 4.40 12.30 C 5.80 13.60 7.80 14.60 9.00 16.20 C 9.80 17.60 10.20 19.50 10.40 22.00 C 10.80 28.00 11.30 36.00 11.70 44.00 C 12.00 50.00 12.00 55.00 11.40 58.50 C 10.80 60.80 9.60 62.00 7.00 62.90 C 4.00 63.60 2.00 64.00 0.00 64.00 C -2.00 64.00 -4.00 63.60 -7.00 62.90 C -9.60 62.00 -10.80 60.80 -11.40 58.50 C -12.00 55.00 -12.00 50.00 -11.70 44.00 C -11.30 36.00 -10.80 28.00 -10.40 22.00 C -10.20 19.50 -9.80 17.60 -9.00 16.20 C -7.80 14.60 -5.80 13.60 -4.40 12.30 C -3.20 9.80 -2.30 7.00 -1.70 4.60 C -1.20 2.60 -0.60 1.00 0.00 0.00 Z" fill="url(#mgA)"/><path d="M0 0 C 0.60 1.00 1.20 2.60 1.70 4.60 C 2.30 7.00 3.20 9.80 4.40 12.30 C 5.80 13.60 7.80 14.60 9.00 16.20 C 9.80 17.60 10.20 19.50 10.40 22.00 C 10.80 28.00 11.30 36.00 11.70 44.00 C 12.00 50.00 12.00 55.00 11.40 58.50 C 10.80 60.80 9.60 62.00 7.00 62.90 C 4.00 63.60 2.00 64.00 0.00 64.00 C -2.00 64.00 -4.00 63.60 -7.00 62.90 C -9.60 62.00 -10.80 60.80 -11.40 58.50 C -12.00 55.00 -12.00 50.00 -11.70 44.00 C -11.30 36.00 -10.80 28.00 -10.40 22.00 C -10.20 19.50 -9.80 17.60 -9.00 16.20 C -7.80 14.60 -5.80 13.60 -4.40 12.30 C -3.20 9.80 -2.30 7.00 -1.70 4.60 C -1.20 2.60 -0.60 1.00 0.00 0.00 Z" fill="url(#hs)"/></g>
<g transform="translate(262.2 270.3) rotate(-1.02)" filter="url(#bl1)"><path d="M7.5 60 L13.5 64.5 L16.5 66 M-7.5 60 L-13.5 64.5 L-16.5 66" fill="none" stroke="#b8b8b8" stroke-width="2.2" stroke-linecap="round"/><path d="M0 62 C1 68 1.6 73 1 79" fill="none" stroke="#b0b0b0" stroke-width="1.9" stroke-linecap="round"/><path d="M0 0 C 0.60 1.00 1.20 2.60 1.70 4.60 C 2.30 7.00 3.20 9.80 4.40 12.30 C 5.80 13.60 7.80 14.60 9.00 16.20 C 9.80 17.60 10.20 19.50 10.40 22.00 C 10.80 28.00 11.30 36.00 11.70 44.00 C 12.00 50.00 12.00 55.00 11.40 58.50 C 10.80 60.80 9.60 62.00 7.00 62.90 C 4.00 63.60 2.00 64.00 0.00 64.00 C -2.00 64.00 -4.00 63.60 -7.00 62.90 C -9.60 62.00 -10.80 60.80 -11.40 58.50 C -12.00 55.00 -12.00 50.00 -11.70 44.00 C -11.30 36.00 -10.80 28.00 -10.40 22.00 C -10.20 19.50 -9.80 17.60 -9.00 16.20 C -7.80 14.60 -5.80 13.60 -4.40 12.30 C -3.20 9.80 -2.30 7.00 -1.70 4.60 C -1.20 2.60 -0.60 1.00 0.00 0.00 Z" fill="url(#mgB)"/><path d="M0 0 C 0.60 1.00 1.20 2.60 1.70 4.60 C 2.30 7.00 3.20 9.80 4.40 12.30 C 5.80 13.60 7.80 14.60 9.00 16.20 C 9.80 17.60 10.20 19.50 10.40 22.00 C 10.80 28.00 11.30 36.00 11.70 44.00 C 12.00 50.00 12.00 55.00 11.40 58.50 C 10.80 60.80 9.60 62.00 7.00 62.90 C 4.00 63.60 2.00 64.00 0.00 64.00 C -2.00 64.00 -4.00 63.60 -7.00 62.90 C -9.60 62.00 -10.80 60.80 -11.40 58.50 C -12.00 55.00 -12.00 50.00 -11.70 44.00 C -11.30 36.00 -10.80 28.00 -10.40 22.00 C -10.20 19.50 -9.80 17.60 -9.00 16.20 C -7.80 14.60 -5.80 13.60 -4.40 12.30 C -3.20 9.80 -2.30 7.00 -1.70 4.60 C -1.20 2.60 -0.60 1.00 0.00 0.00 Z" fill="url(#hs)"/></g>
<g filter="url(#bl2)"><path d="M224.38 317.60 L224.42 319.62 L224.19 321.66 L223.58 323.64 L222.51 325.37 L221.01 326.68 L219.26 327.50 L217.48 327.93 L215.80 328.23 L214.21 328.58 L212.60 329.03 L210.87 329.39 L209.05 329.40 L207.29 328.85 L205.77 327.75 L204.56 326.28 L203.63 324.64 L202.84 322.97 L202.14 321.27 L201.57 319.49 L201.28 317.60 L201.37 315.68 L201.84 313.82 L202.57 312.08 L203.44 310.42 L204.43 308.78 L205.59 307.18 L207.03 305.81 L208.78 304.92 L210.71 304.70 L212.60 305.17 L214.29 306.08 L215.76 307.12 L217.11 308.05 L218.49 308.85 L219.94 309.67 L221.38 310.71 L222.62 312.09 L223.53 313.76 L224.10 315.63Z" fill="#ece4f0" opacity="0.6"/><path d="M222.42 317.60 L222.42 319.30 L222.20 321.01 L221.68 322.66 L220.80 324.12 L219.60 325.26 L218.20 326.03 L216.74 326.50 L215.34 326.83 L213.98 327.15 L212.60 327.48 L211.14 327.70 L209.62 327.62 L208.17 327.12 L206.89 326.21 L205.85 324.99 L205.03 323.62 L204.34 322.21 L203.76 320.75 L203.31 319.21 L203.09 317.60 L203.17 315.97 L203.55 314.38 L204.16 312.89 L204.91 311.48 L205.76 310.11 L206.77 308.81 L207.99 307.70 L209.45 306.97 L211.03 306.75 L212.60 307.04 L214.03 307.69 L215.31 308.47 L216.49 309.23 L217.68 309.95 L218.88 310.72 L220.04 311.68 L221.03 312.90 L221.76 314.34 L222.21 315.93Z" fill="#18138e"/><path d="M220.97 317.51 L220.99 319.01 L220.81 320.52 L220.36 321.97 L219.59 323.26 L218.53 324.25 L217.29 324.89 L216.02 325.26 L214.81 325.52 L213.64 325.79 L212.46 326.10 L211.20 326.33 L209.89 326.29 L208.62 325.87 L207.52 325.06 L206.64 323.98 L205.94 322.77 L205.36 321.53 L204.85 320.26 L204.45 318.92 L204.25 317.51 L204.32 316.08 L204.65 314.69 L205.18 313.39 L205.82 312.15 L206.55 310.94 L207.40 309.78 L208.46 308.79 L209.72 308.14 L211.10 307.96 L212.46 308.25 L213.70 308.87 L214.78 309.60 L215.78 310.28 L216.80 310.89 L217.84 311.54 L218.86 312.35 L219.74 313.40 L220.38 314.65 L220.78 316.05Z" fill="#2040ff"/><path d="M219.51 317.42 L219.53 318.71 L219.39 320.02 L219.02 321.28 L218.37 322.38 L217.46 323.22 L216.39 323.75 L215.31 324.03 L214.28 324.23 L213.31 324.46 L212.33 324.74 L211.27 324.96 L210.16 324.96 L209.09 324.61 L208.16 323.91 L207.42 322.97 L206.85 321.92 L206.36 320.86 L205.93 319.77 L205.59 318.63 L205.42 317.42 L205.47 316.19 L205.76 315.01 L206.20 313.89 L206.74 312.83 L207.34 311.78 L208.05 310.77 L208.93 309.89 L210.00 309.32 L211.17 309.19 L212.33 309.47 L213.36 310.05 L214.26 310.70 L215.09 311.30 L215.93 311.81 L216.82 312.34 L217.69 313.02 L218.45 313.90 L219.00 314.97 L219.34 316.16Z" fill="#14d2f2"/><path d="M217.70 317.31 L217.73 318.34 L217.63 319.39 L217.35 320.40 L216.84 321.29 L216.12 321.95 L215.28 322.34 L214.43 322.54 L213.65 322.66 L212.91 322.84 L212.16 323.08 L211.35 323.29 L210.49 323.32 L209.66 323.05 L208.95 322.48 L208.39 321.72 L207.96 320.88 L207.59 320.03 L207.26 319.17 L206.99 318.27 L206.85 317.31 L206.89 316.33 L207.11 315.39 L207.46 314.51 L207.86 313.66 L208.32 312.82 L208.85 311.99 L209.53 311.27 L210.35 310.81 L211.27 310.72 L212.16 310.98 L212.95 311.48 L213.62 312.04 L214.24 312.52 L214.89 312.92 L215.57 313.32 L216.26 313.82 L216.86 314.51 L217.29 315.36 L217.57 316.31Z" fill="#3ce04a"/><path d="M215.42 317.17 L215.44 317.88 L215.39 318.60 L215.22 319.29 L214.89 319.90 L214.43 320.33 L213.89 320.58 L213.35 320.69 L212.86 320.75 L212.41 320.87 L211.95 321.05 L211.44 321.21 L210.91 321.25 L210.39 321.08 L209.94 320.69 L209.60 320.16 L209.34 319.58 L209.12 319.01 L208.91 318.43 L208.74 317.82 L208.64 317.17 L208.66 316.51 L208.80 315.87 L209.02 315.27 L209.27 314.70 L209.55 314.12 L209.87 313.54 L210.29 313.04 L210.81 312.72 L211.39 312.66 L211.95 312.87 L212.44 313.25 L212.85 313.65 L213.22 313.99 L213.62 314.25 L214.05 314.50 L214.49 314.83 L214.87 315.28 L215.15 315.85 L215.33 316.49Z" fill="#f0ee22"/><path d="M214.04 317.09 L214.06 317.60 L214.02 318.11 L213.92 318.61 L213.71 319.05 L213.41 319.36 L213.06 319.52 L212.71 319.59 L212.40 319.63 L212.11 319.71 L211.82 319.84 L211.50 319.97 L211.16 320.01 L210.82 319.89 L210.54 319.61 L210.33 319.23 L210.16 318.81 L210.03 318.40 L209.89 317.98 L209.78 317.55 L209.72 317.09 L209.73 316.62 L209.82 316.16 L209.96 315.73 L210.12 315.32 L210.29 314.90 L210.50 314.48 L210.76 314.12 L211.09 313.89 L211.46 313.85 L211.82 314.01 L212.13 314.30 L212.39 314.60 L212.62 314.84 L212.87 315.03 L213.15 315.20 L213.43 315.42 L213.68 315.74 L213.86 316.14 L213.98 316.60Z" fill="#ff7a10"/></g>
<g filter="url(#bl2)"><path d="M249.51 315.40 L249.22 317.54 L248.68 319.56 L248.03 321.48 L247.29 323.35 L246.41 325.15 L245.29 326.72 L243.90 327.86 L242.33 328.41 L240.73 328.42 L239.20 328.10 L237.76 327.72 L236.32 327.40 L234.80 327.07 L233.23 326.50 L231.74 325.48 L230.49 323.95 L229.59 322.02 L229.04 319.86 L228.76 317.63 L228.68 315.40 L228.82 313.18 L229.26 311.04 L230.06 309.11 L231.18 307.52 L232.48 306.32 L233.81 305.37 L235.08 304.47 L236.33 303.48 L237.68 302.46 L239.20 301.65 L240.85 301.35 L242.49 301.71 L243.99 302.70 L245.27 304.11 L246.37 305.70 L247.37 307.38 L248.28 309.15 L249.02 311.09 L249.46 313.20Z" fill="#ece4f0" opacity="0.6"/><path d="M247.64 315.40 L247.42 317.26 L247.01 319.02 L246.48 320.70 L245.86 322.31 L245.11 323.84 L244.18 325.18 L243.04 326.17 L241.77 326.69 L240.46 326.78 L239.20 326.59 L237.99 326.29 L236.79 325.99 L235.55 325.61 L234.30 325.03 L233.12 324.08 L232.13 322.73 L231.41 321.07 L230.94 319.23 L230.70 317.32 L230.63 315.40 L230.74 313.49 L231.09 311.64 L231.71 309.95 L232.58 308.54 L233.61 307.41 L234.68 306.51 L235.74 305.69 L236.80 304.87 L237.94 304.07 L239.20 303.48 L240.54 303.30 L241.88 303.64 L243.10 304.47 L244.17 305.64 L245.09 306.99 L245.92 308.43 L246.65 309.98 L247.23 311.67 L247.58 313.50Z" fill="#18138e"/><path d="M246.28 315.50 L246.09 317.16 L245.73 318.73 L245.28 320.21 L244.76 321.65 L244.14 323.03 L243.35 324.23 L242.39 325.11 L241.31 325.56 L240.21 325.60 L239.15 325.39 L238.14 325.11 L237.13 324.85 L236.09 324.56 L235.01 324.08 L234.00 323.26 L233.15 322.07 L232.53 320.59 L232.14 318.93 L231.94 317.22 L231.88 315.50 L231.98 313.79 L232.28 312.14 L232.82 310.65 L233.58 309.40 L234.46 308.44 L235.37 307.67 L236.26 306.96 L237.14 306.21 L238.09 305.46 L239.15 304.89 L240.28 304.68 L241.42 304.98 L242.45 305.73 L243.34 306.80 L244.12 308.01 L244.81 309.30 L245.43 310.68 L245.94 312.18 L246.24 313.81Z" fill="#2040ff"/><path d="M244.91 315.61 L244.75 317.06 L244.44 318.43 L244.07 319.73 L243.66 320.99 L243.16 322.21 L242.53 323.28 L241.74 324.05 L240.86 324.43 L239.95 324.43 L239.09 324.21 L238.28 323.95 L237.47 323.73 L236.61 323.51 L235.72 323.13 L234.88 322.44 L234.17 321.41 L233.67 320.09 L233.36 318.63 L233.20 317.12 L233.15 315.61 L233.23 314.10 L233.48 312.65 L233.93 311.34 L234.56 310.27 L235.30 309.45 L236.05 308.81 L236.77 308.21 L237.48 307.54 L238.24 306.84 L239.09 306.29 L240.02 306.08 L240.95 306.33 L241.79 307.00 L242.52 307.96 L243.14 309.04 L243.70 310.17 L244.22 311.37 L244.63 312.69 L244.88 314.12Z" fill="#14d2f2"/><path d="M243.44 315.72 L243.30 316.95 L243.06 318.11 L242.78 319.21 L242.48 320.28 L242.11 321.33 L241.63 322.25 L241.04 322.91 L240.37 323.21 L239.68 323.18 L239.03 322.96 L238.43 322.72 L237.82 322.55 L237.17 322.39 L236.49 322.11 L235.84 321.55 L235.30 320.67 L234.91 319.55 L234.68 318.30 L234.57 317.01 L234.54 315.72 L234.60 314.44 L234.79 313.20 L235.14 312.09 L235.63 311.20 L236.19 310.53 L236.77 310.02 L237.30 309.52 L237.83 308.94 L238.39 308.32 L239.03 307.81 L239.74 307.60 L240.44 307.80 L241.08 308.38 L241.62 309.21 L242.09 310.14 L242.51 311.10 L242.90 312.12 L243.22 313.23 L243.41 314.45Z" fill="#3ce04a"/><path d="M241.31 315.88 L241.23 316.80 L241.10 317.66 L240.95 318.47 L240.79 319.28 L240.60 320.07 L240.35 320.76 L240.03 321.26 L239.66 321.46 L239.29 321.40 L238.95 321.21 L238.63 321.02 L238.31 320.90 L237.96 320.82 L237.59 320.64 L237.23 320.25 L236.93 319.61 L236.72 318.76 L236.60 317.82 L236.54 316.85 L236.53 315.88 L236.56 314.92 L236.67 313.99 L236.86 313.17 L237.13 312.52 L237.45 312.05 L237.76 311.70 L238.04 311.34 L238.31 310.90 L238.61 310.40 L238.95 309.98 L239.33 309.79 L239.71 309.93 L240.05 310.37 L240.34 311.01 L240.59 311.72 L240.81 312.44 L241.02 313.19 L241.20 314.02 L241.30 314.93Z" fill="#f0ee22"/><path d="M239.82 315.99 L239.79 316.69 L239.73 317.34 L239.67 317.96 L239.61 318.57 L239.54 319.18 L239.44 319.72 L239.32 320.09 L239.17 320.24 L239.03 320.18 L238.89 320.01 L238.77 319.86 L238.64 319.77 L238.51 319.73 L238.36 319.62 L238.22 319.33 L238.10 318.85 L238.02 318.20 L237.97 317.48 L237.95 316.73 L237.94 315.99 L237.95 315.26 L238.00 314.55 L238.07 313.93 L238.18 313.44 L238.31 313.10 L238.43 312.85 L238.54 312.58 L238.65 312.24 L238.76 311.84 L238.89 311.50 L239.04 311.34 L239.19 311.44 L239.33 311.78 L239.44 312.28 L239.53 312.82 L239.62 313.37 L239.70 313.95 L239.77 314.57 L239.82 315.27Z" fill="#ff7a10"/></g>
<g filter="url(#bl2)"><path d="M276.92 318.50 L277.03 320.13 L276.96 321.83 L276.55 323.53 L275.70 325.09 L274.45 326.41 L272.96 327.46 L271.35 328.32 L269.68 329.08 L267.90 329.74 L266.00 330.15 L264.03 330.13 L262.16 329.55 L260.58 328.45 L259.36 327.04 L258.44 325.57 L257.66 324.17 L256.87 322.85 L256.07 321.52 L255.40 320.07 L255.00 318.50 L254.95 316.86 L255.22 315.22 L255.71 313.60 L256.37 311.96 L257.26 310.33 L258.49 308.83 L260.10 307.68 L262.02 307.06 L264.06 307.02 L266.00 307.45 L267.76 308.11 L269.37 308.80 L270.93 309.45 L272.47 310.17 L273.92 311.10 L275.12 312.31 L275.96 313.75 L276.46 315.32 L276.74 316.91Z" fill="#ece4f0" opacity="0.6"/><path d="M275.33 318.50 L275.38 319.87 L275.26 321.28 L274.86 322.67 L274.13 323.95 L273.09 325.04 L271.85 325.93 L270.50 326.65 L269.09 327.27 L267.59 327.77 L266.00 328.07 L264.36 328.03 L262.80 327.58 L261.45 326.74 L260.37 325.65 L259.52 324.48 L258.79 323.34 L258.10 322.22 L257.44 321.07 L256.91 319.83 L256.62 318.50 L256.61 317.13 L256.86 315.76 L257.31 314.41 L257.92 313.08 L258.72 311.78 L259.78 310.60 L261.13 309.68 L262.71 309.16 L264.38 309.07 L266.00 309.34 L267.49 309.80 L268.88 310.32 L270.22 310.86 L271.52 311.49 L272.73 312.29 L273.74 313.31 L274.46 314.52 L274.92 315.83 L275.18 317.16Z" fill="#18138e"/><path d="M274.26 318.46 L274.32 319.64 L274.24 320.87 L273.91 322.08 L273.27 323.20 L272.36 324.15 L271.26 324.91 L270.07 325.53 L268.83 326.08 L267.52 326.53 L266.12 326.81 L264.68 326.78 L263.30 326.38 L262.12 325.62 L261.19 324.65 L260.48 323.61 L259.86 322.61 L259.27 321.65 L258.69 320.66 L258.21 319.60 L257.93 318.46 L257.91 317.27 L258.12 316.09 L258.50 314.92 L259.02 313.75 L259.70 312.60 L260.62 311.55 L261.81 310.74 L263.21 310.29 L264.69 310.24 L266.12 310.50 L267.43 310.93 L268.63 311.41 L269.80 311.88 L270.94 312.41 L272.00 313.09 L272.89 313.97 L273.52 315.02 L273.91 316.15 L274.13 317.30Z" fill="#2040ff"/><path d="M273.38 318.43 L273.44 319.46 L273.39 320.52 L273.11 321.59 L272.55 322.57 L271.74 323.40 L270.77 324.06 L269.72 324.60 L268.62 325.08 L267.46 325.49 L266.22 325.74 L264.94 325.73 L263.72 325.36 L262.68 324.69 L261.88 323.81 L261.27 322.89 L260.75 322.01 L260.23 321.18 L259.71 320.33 L259.27 319.42 L259.02 318.43 L258.99 317.39 L259.17 316.36 L259.49 315.34 L259.93 314.31 L260.52 313.29 L261.33 312.36 L262.38 311.64 L263.63 311.25 L264.95 311.22 L266.22 311.48 L267.37 311.88 L268.43 312.30 L269.45 312.72 L270.46 313.17 L271.40 313.76 L272.19 314.52 L272.74 315.43 L273.07 316.42 L273.26 317.42Z" fill="#14d2f2"/><path d="M271.47 318.35 L271.53 319.05 L271.52 319.77 L271.35 320.50 L270.96 321.17 L270.38 321.73 L269.68 322.18 L268.93 322.54 L268.15 322.88 L267.33 323.17 L266.44 323.36 L265.52 323.36 L264.65 323.10 L263.92 322.61 L263.38 321.98 L262.98 321.33 L262.64 320.73 L262.28 320.18 L261.91 319.62 L261.58 319.01 L261.38 318.35 L261.35 317.66 L261.46 316.96 L261.68 316.26 L261.97 315.56 L262.36 314.84 L262.92 314.18 L263.67 313.68 L264.58 313.42 L265.54 313.42 L266.44 313.63 L267.26 313.94 L267.99 314.25 L268.71 314.53 L269.42 314.83 L270.10 315.21 L270.65 315.72 L271.04 316.34 L271.26 317.01 L271.38 317.68Z" fill="#30e8c8"/></g>
<rect x="194.3" y="345.5" width="26" height="1" fill="#8a8a8a"/>
<text x="278.7" y="269.6" font-size="8.1" text-anchor="end" font-weight="bold" fill="#fff" >11 d</text>
</g>
<clipPath id="cp20"><rect x="11" y="351.2" width="88.6" height="86.6"/></clipPath>
<g clip-path="url(#cp20)">
<rect x="11" y="351.2" width="88.6" height="86.6" fill="#222"/>
<rect x="11" y="351.2" width="88.6" height="86.6" fill="url(#stripes)"/>
<rect x="11" y="351.2" width="88.6" height="11" fill="url(#topband)"/>
<g transform="translate(28.1 359) rotate(0.0)" filter="url(#bl1)"><path d="M7.5 60 L13.5 64.5 L16.5 66 M-7.5 60 L-13.5 64.5 L-16.5 66" fill="none" stroke="#b8b8b8" stroke-width="2.2" stroke-linecap="round"/><path d="M0 62 C1 68 1.6 73 1 79" fill="none" stroke="#b0b0b0" stroke-width="1.9" stroke-linecap="round"/><path d="M0 0 C 0.60 1.00 1.20 2.60 1.70 4.60 C 2.30 7.00 3.20 9.80 4.40 12.30 C 5.80 13.60 7.80 14.60 9.00 16.20 C 9.80 17.60 10.20 19.50 10.40 22.00 C 10.80 28.00 11.30 36.00 11.70 44.00 C 12.00 50.00 12.00 55.00 11.40 58.50 C 10.80 60.80 9.60 62.00 7.00 62.90 C 4.00 63.60 2.00 64.00 0.00 64.00 C -2.00 64.00 -4.00 63.60 -7.00 62.90 C -9.60 62.00 -10.80 60.80 -11.40 58.50 C -12.00 55.00 -12.00 50.00 -11.70 44.00 C -11.30 36.00 -10.80 28.00 -10.40 22.00 C -10.20 19.50 -9.80 17.60 -9.00 16.20 C -7.80 14.60 -5.80 13.60 -4.40 12.30 C -3.20 9.80 -2.30 7.00 -1.70 4.60 C -1.20 2.60 -0.60 1.00 0.00 0.00 Z" fill="url(#mgB)"/><path d="M0 0 C 0.60 1.00 1.20 2.60 1.70 4.60 C 2.30 7.00 3.20 9.80 4.40 12.30 C 5.80 13.60 7.80 14.60 9.00 16.20 C 9.80 17.60 10.20 19.50 10.40 22.00 C 10.80 28.00 11.30 36.00 11.70 44.00 C 12.00 50.00 12.00 55.00 11.40 58.50 C 10.80 60.80 9.60 62.00 7.00 62.90 C 4.00 63.60 2.00 64.00 0.00 64.00 C -2.00 64.00 -4.00 63.60 -7.00 62.90 C -9.60 62.00 -10.80 60.80 -11.40 58.50 C -12.00 55.00 -12.00 50.00 -11.70 44.00 C -11.30 36.00 -10.80 28.00 -10.40 22.00 C -10.20 19.50 -9.80 17.60 -9.00 16.20 C -7.80 14.60 -5.80 13.60 -4.40 12.30 C -3.20 9.80 -2.30 7.00 -1.70 4.60 C -1.20 2.60 -0.60 1.00 0.00 0.00 Z" fill="url(#hs)"/></g>
<g transform="translate(54.7 359) rotate(1.66)" filter="url(#bl1)"><path d="M7.5 60 L13.5 64.5 L16.5 66 M-7.5 60 L-13.5 64.5 L-16.5 66" fill="none" stroke="#b8b8b8" stroke-width="2.2" stroke-linecap="round"/><path d="M0 62 C1 68 1.6 73 1 79" fill="none" stroke="#b0b0b0" stroke-width="1.9" stroke-linecap="round"/><path d="M0 0 C 0.60 1.00 1.20 2.60 1.70 4.60 C 2.30 7.00 3.20 9.80 4.40 12.30 C 5.80 13.60 7.80 14.60 9.00 16.20 C 9.80 17.60 10.20 19.50 10.40 22.00 C 10.80 28.00 11.30 36.00 11.70 44.00 C 12.00 50.00 12.00 55.00 11.40 58.50 C 10.80 60.80 9.60 62.00 7.00 62.90 C 4.00 63.60 2.00 64.00 0.00 64.00 C -2.00 64.00 -4.00 63.60 -7.00 62.90 C -9.60 62.00 -10.80 60.80 -11.40 58.50 C -12.00 55.00 -12.00 50.00 -11.70 44.00 C -11.30 36.00 -10.80 28.00 -10.40 22.00 C -10.20 19.50 -9.80 17.60 -9.00 16.20 C -7.80 14.60 -5.80 13.60 -4.40 12.30 C -3.20 9.80 -2.30 7.00 -1.70 4.60 C -1.20 2.60 -0.60 1.00 0.00 0.00 Z" fill="url(#mgA)"/><path d="M0 0 C 0.60 1.00 1.20 2.60 1.70 4.60 C 2.30 7.00 3.20 9.80 4.40 12.30 C 5.80 13.60 7.80 14.60 9.00 16.20 C 9.80 17.60 10.20 19.50 10.40 22.00 C 10.80 28.00 11.30 36.00 11.70 44.00 C 12.00 50.00 12.00 55.00 11.40 58.50 C 10.80 60.80 9.60 62.00 7.00 62.90 C 4.00 63.60 2.00 64.00 0.00 64.00 C -2.00 64.00 -4.00 63.60 -7.00 62.90 C -9.60 62.00 -10.80 60.80 -11.40 58.50 C -12.00 55.00 -12.00 50.00 -11.70 44.00 C -11.30 36.00 -10.80 28.00 -10.40 22.00 C -10.20 19.50 -9.80 17.60 -9.00 16.20 C -7.80 14.60 -5.80 13.60 -4.40 12.30 C -3.20 9.80 -2.30 7.00 -1.70 4.60 C -1.20 2.60 -0.60 1.00 0.00 0.00 Z" fill="url(#hs)"/></g>
<g transform="translate(81.2 359) rotate(-1.15)" filter="url(#bl1)"><path d="M7.5 60 L13.5 64.5 L16.5 66 M-7.5 60 L-13.5 64.5 L-16.5 66" fill="none" stroke="#b8b8b8" stroke-width="2.2" stroke-linecap="round"/><path d="M0 62 C1 68 1.6 73 1 79" fill="none" stroke="#b0b0b0" stroke-width="1.9" stroke-linecap="round"/><path d="M0 0 C 0.60 1.00 1.20 2.60 1.70 4.60 C 2.30 7.00 3.20 9.80 4.40 12.30 C 5.80 13.60 7.80 14.60 9.00 16.20 C 9.80 17.60 10.20 19.50 10.40 22.00 C 10.80 28.00 11.30 36.00 11.70 44.00 C 12.00 50.00 12.00 55.00 11.40 58.50 C 10.80 60.80 9.60 62.00 7.00 62.90 C 4.00 63.60 2.00 64.00 0.00 64.00 C -2.00 64.00 -4.00 63.60 -7.00 62.90 C -9.60 62.00 -10.80 60.80 -11.40 58.50 C -12.00 55.00 -12.00 50.00 -11.70 44.00 C -11.30 36.00 -10.80 28.00 -10.40 22.00 C -10.20 19.50 -9.80 17.60 -9.00 16.20 C -7.80 14.60 -5.80 13.60 -4.40 12.30 C -3.20 9.80 -2.30 7.00 -1.70 4.60 C -1.20 2.60 -0.60 1.00 0.00 0.00 Z" fill="url(#mgB)"/><path d="M0 0 C 0.60 1.00 1.20 2.60 1.70 4.60 C 2.30 7.00 3.20 9.80 4.40 12.30 C 5.80 13.60 7.80 14.60 9.00 16.20 C 9.80 17.60 10.20 19.50 10.40 22.00 C 10.80 28.00 11.30 36.00 11.70 44.00 C 12.00 50.00 12.00 55.00 11.40 58.50 C 10.80 60.80 9.60 62.00 7.00 62.90 C 4.00 63.60 2.00 64.00 0.00 64.00 C -2.00 64.00 -4.00 63.60 -7.00 62.90 C -9.60 62.00 -10.80 60.80 -11.40 58.50 C -12.00 55.00 -12.00 50.00 -11.70 44.00 C -11.30 36.00 -10.80 28.00 -10.40 22.00 C -10.20 19.50 -9.80 17.60 -9.00 16.20 C -7.80 14.60 -5.80 13.60 -4.40 12.30 C -3.20 9.80 -2.30 7.00 -1.70 4.60 C -1.20 2.60 -0.60 1.00 0.00 0.00 Z" fill="url(#hs)"/></g>
<g filter="url(#bl2)"><path d="M39.98 408.50 L39.51 409.95 L39.13 411.35 L38.80 412.79 L38.35 414.26 L37.61 415.66 L36.55 416.82 L35.24 417.66 L33.80 418.21 L32.32 418.56 L30.80 418.77 L29.24 418.82 L27.68 418.59 L26.19 418.00 L24.89 417.05 L23.80 415.86 L22.88 414.55 L22.04 413.19 L21.24 411.76 L20.58 410.20 L20.24 408.50 L20.39 406.77 L21.07 405.18 L22.15 403.87 L23.41 402.85 L24.63 402.01 L25.75 401.19 L26.84 400.33 L28.01 399.46 L29.33 398.76 L30.80 398.33 L32.35 398.22 L33.92 398.39 L35.51 398.79 L37.08 399.42 L38.54 400.37 L39.73 401.68 L40.48 403.32 L40.69 405.12 L40.45 406.89Z" fill="#ece4f0" opacity="0.6"/><path d="M39.14 408.50 L38.71 409.82 L38.37 411.10 L38.07 412.41 L37.65 413.76 L36.99 415.03 L36.02 416.09 L34.83 416.86 L33.53 417.36 L32.18 417.68 L30.80 417.88 L29.39 417.92 L27.97 417.71 L26.62 417.17 L25.43 416.30 L24.44 415.21 L23.61 414.02 L22.84 412.78 L22.12 411.48 L21.52 410.05 L21.21 408.50 L21.34 406.92 L21.96 405.47 L22.95 404.27 L24.09 403.35 L25.20 402.58 L26.21 401.83 L27.20 401.04 L28.26 400.25 L29.47 399.61 L30.80 399.22 L32.21 399.12 L33.64 399.27 L35.08 399.64 L36.50 400.21 L37.83 401.08 L38.91 402.28 L39.59 403.77 L39.78 405.42 L39.57 407.03Z" fill="#9a70c8" opacity="0.55"/><path d="M38.40 408.50 L38.07 409.72 L37.76 410.90 L37.45 412.10 L37.02 413.30 L36.38 414.43 L35.50 415.37 L34.43 416.06 L33.25 416.53 L32.04 416.82 L30.80 416.98 L29.53 416.99 L28.27 416.78 L27.07 416.29 L26.00 415.52 L25.10 414.56 L24.33 413.49 L23.65 412.37 L23.04 411.18 L22.54 409.89 L22.30 408.50 L22.42 407.09 L22.92 405.78 L23.73 404.67 L24.68 403.77 L25.64 403.02 L26.56 402.30 L27.49 401.59 L28.48 400.92 L29.59 400.39 L30.80 400.09 L32.06 400.04 L33.34 400.21 L34.60 400.57 L35.84 401.13 L36.98 401.93 L37.93 403.00 L38.54 404.31 L38.78 405.74 L38.69 407.17Z" fill="#5c1ca4"/><path d="M37.41 408.54 L37.09 409.61 L36.83 410.64 L36.57 411.70 L36.22 412.76 L35.67 413.76 L34.90 414.60 L33.97 415.21 L32.94 415.62 L31.88 415.88 L30.79 416.03 L29.69 416.04 L28.57 415.86 L27.52 415.43 L26.58 414.75 L25.80 413.89 L25.14 412.94 L24.54 411.96 L23.99 410.91 L23.54 409.77 L23.31 408.54 L23.42 407.29 L23.88 406.13 L24.61 405.17 L25.47 404.40 L26.32 403.75 L27.13 403.13 L27.92 402.50 L28.78 401.90 L29.74 401.41 L30.79 401.13 L31.90 401.07 L33.02 401.21 L34.14 401.51 L35.23 401.99 L36.25 402.69 L37.09 403.64 L37.63 404.81 L37.81 406.10 L37.69 407.37Z" fill="#2414d0"/><path d="M36.23 408.59 L35.95 409.48 L35.73 410.34 L35.53 411.22 L35.26 412.12 L34.82 412.97 L34.19 413.68 L33.42 414.19 L32.56 414.53 L31.68 414.74 L30.79 414.88 L29.87 414.90 L28.94 414.76 L28.06 414.40 L27.29 413.82 L26.65 413.09 L26.10 412.29 L25.60 411.46 L25.13 410.59 L24.74 409.63 L24.54 408.59 L24.63 407.53 L25.03 406.56 L25.67 405.76 L26.41 405.13 L27.13 404.62 L27.79 404.11 L28.44 403.58 L29.13 403.06 L29.92 402.63 L30.79 402.37 L31.70 402.31 L32.64 402.41 L33.57 402.66 L34.50 403.05 L35.36 403.63 L36.06 404.43 L36.50 405.43 L36.64 406.53 L36.50 407.61Z" fill="#2040ff"/><path d="M34.30 408.67 L34.10 409.27 L33.95 409.84 L33.84 410.44 L33.68 411.06 L33.41 411.66 L33.01 412.15 L32.50 412.50 L31.94 412.72 L31.36 412.87 L30.78 412.96 L30.17 412.99 L29.56 412.91 L28.98 412.66 L28.48 412.26 L28.06 411.75 L27.71 411.20 L27.38 410.63 L27.06 410.04 L26.78 409.39 L26.64 408.67 L26.70 407.94 L26.98 407.28 L27.43 406.74 L27.94 406.34 L28.43 406.02 L28.86 405.69 L29.27 405.32 L29.71 404.95 L30.21 404.63 L30.78 404.44 L31.38 404.38 L31.99 404.43 L32.62 404.59 L33.24 404.84 L33.82 405.23 L34.30 405.78 L34.58 406.48 L34.64 407.25 L34.52 408.00Z" fill="#14d2f2"/><path d="M32.98 408.73 L32.84 409.13 L32.74 409.51 L32.68 409.91 L32.59 410.33 L32.43 410.74 L32.18 411.07 L31.86 411.31 L31.50 411.46 L31.14 411.56 L30.77 411.62 L30.39 411.65 L30.00 411.60 L29.63 411.43 L29.31 411.16 L29.05 410.81 L28.83 410.43 L28.62 410.05 L28.41 409.66 L28.23 409.22 L28.13 408.73 L28.17 408.24 L28.36 407.79 L28.66 407.43 L28.99 407.17 L29.31 406.97 L29.58 406.75 L29.83 406.51 L30.10 406.25 L30.41 406.02 L30.77 405.88 L31.15 405.83 L31.54 405.86 L31.94 405.96 L32.34 406.12 L32.72 406.38 L33.02 406.76 L33.20 407.24 L33.23 407.77 L33.13 408.28Z" fill="#3ce04a"/></g>
<g filter="url(#bl2)"><path d="M65.41 406.40 L65.60 408.15 L65.53 409.96 L65.09 411.71 L64.26 413.23 L63.11 414.39 L61.81 415.21 L60.50 415.80 L59.23 416.33 L57.95 416.84 L56.60 417.27 L55.18 417.42 L53.76 417.14 L52.46 416.38 L51.37 415.24 L50.49 413.89 L49.79 412.47 L49.19 411.03 L48.70 409.55 L48.38 408.00 L48.26 406.40 L48.37 404.80 L48.64 403.22 L48.99 401.64 L49.43 400.01 L50.03 398.33 L50.88 396.74 L52.06 395.46 L53.51 394.73 L55.08 394.64 L56.60 395.11 L57.95 395.90 L59.14 396.79 L60.23 397.65 L61.29 398.48 L62.30 399.41 L63.22 400.50 L63.98 401.78 L64.58 403.22 L65.05 404.76Z" fill="#ece4f0" opacity="0.6"/><path d="M64.51 406.40 L64.68 408.00 L64.62 409.66 L64.22 411.27 L63.47 412.66 L62.45 413.73 L61.28 414.47 L60.10 415.02 L58.96 415.50 L57.81 415.97 L56.60 416.36 L55.32 416.51 L54.05 416.25 L52.88 415.55 L51.90 414.50 L51.12 413.27 L50.49 411.97 L49.95 410.65 L49.51 409.29 L49.22 407.87 L49.12 406.40 L49.21 404.93 L49.45 403.49 L49.77 402.04 L50.17 400.54 L50.70 399.00 L51.46 397.54 L52.52 396.37 L53.83 395.70 L55.24 395.62 L56.60 396.05 L57.82 396.78 L58.88 397.59 L59.86 398.38 L60.81 399.14 L61.72 399.99 L62.54 400.99 L63.23 402.17 L63.77 403.48 L64.19 404.89Z" fill="#9a70c8" opacity="0.55"/><path d="M63.60 406.40 L63.71 407.85 L63.61 409.33 L63.25 410.76 L62.60 412.01 L61.73 413.00 L60.74 413.73 L59.72 414.27 L58.70 414.73 L57.68 415.14 L56.60 415.45 L55.48 415.53 L54.36 415.27 L53.33 414.66 L52.45 413.75 L51.73 412.67 L51.13 411.51 L50.64 410.31 L50.24 409.06 L49.98 407.75 L49.89 406.40 L49.98 405.05 L50.20 403.73 L50.51 402.41 L50.91 401.08 L51.43 399.75 L52.14 398.50 L53.07 397.50 L54.20 396.91 L55.42 396.78 L56.60 397.07 L57.68 397.63 L58.65 398.28 L59.55 398.96 L60.41 399.67 L61.22 400.46 L61.94 401.41 L62.54 402.51 L63.01 403.72 L63.36 405.02Z" fill="#5c1ca4"/><path d="M62.75 406.31 L62.86 407.60 L62.79 408.93 L62.49 410.21 L61.93 411.33 L61.17 412.20 L60.30 412.83 L59.41 413.29 L58.54 413.69 L57.67 414.06 L56.75 414.35 L55.78 414.45 L54.82 414.23 L53.93 413.67 L53.18 412.85 L52.58 411.87 L52.08 410.83 L51.66 409.76 L51.33 408.66 L51.11 407.50 L51.03 406.31 L51.10 405.12 L51.29 403.94 L51.54 402.77 L51.86 401.58 L52.29 400.37 L52.89 399.22 L53.69 398.31 L54.67 397.77 L55.72 397.68 L56.75 397.98 L57.67 398.52 L58.49 399.14 L59.25 399.76 L59.98 400.38 L60.67 401.08 L61.29 401.90 L61.81 402.87 L62.22 403.94 L62.53 405.09Z" fill="#2414d0"/><path d="M61.73 406.20 L61.83 407.30 L61.80 408.44 L61.56 409.54 L61.10 410.50 L60.47 411.23 L59.77 411.75 L59.05 412.12 L58.35 412.45 L57.66 412.77 L56.92 413.04 L56.15 413.14 L55.37 412.97 L54.66 412.49 L54.07 411.77 L53.59 410.92 L53.21 410.02 L52.88 409.11 L52.62 408.18 L52.44 407.20 L52.38 406.20 L52.43 405.19 L52.58 404.20 L52.77 403.20 L53.01 402.17 L53.33 401.12 L53.80 400.11 L54.44 399.30 L55.23 398.84 L56.09 398.79 L56.92 399.09 L57.66 399.59 L58.31 400.15 L58.90 400.69 L59.48 401.22 L60.03 401.80 L60.53 402.49 L60.95 403.29 L61.27 404.20 L61.53 405.16Z" fill="#2040ff"/><path d="M60.36 406.05 L60.45 406.90 L60.44 407.78 L60.28 408.64 L59.97 409.38 L59.54 409.93 L59.05 410.30 L58.57 410.56 L58.11 410.80 L57.64 411.06 L57.16 411.29 L56.64 411.39 L56.11 411.26 L55.64 410.89 L55.25 410.32 L54.94 409.65 L54.70 408.96 L54.49 408.26 L54.31 407.55 L54.19 406.82 L54.15 406.05 L54.19 405.29 L54.28 404.54 L54.40 403.77 L54.55 402.97 L54.74 402.13 L55.04 401.33 L55.47 400.68 L56.01 400.32 L56.60 400.31 L57.16 400.58 L57.65 401.01 L58.07 401.48 L58.46 401.91 L58.83 402.30 L59.20 402.74 L59.53 403.25 L59.81 403.85 L60.04 404.53 L60.22 405.26Z" fill="#14d2f2"/></g>
<g filter="url(#bl2)"><path d="M94.68 406.80 L94.03 408.15 L93.35 409.39 L92.76 410.59 L92.20 411.85 L91.52 413.15 L90.57 414.39 L89.29 415.41 L87.75 416.13 L86.05 416.52 L84.30 416.66 L82.54 416.59 L80.79 416.31 L79.10 415.77 L77.59 414.92 L76.36 413.78 L75.46 412.45 L74.83 411.05 L74.35 409.64 L73.96 408.24 L73.66 406.80 L73.61 405.31 L73.93 403.84 L74.68 402.49 L75.79 401.36 L77.09 400.46 L78.43 399.70 L79.77 398.97 L81.14 398.25 L82.64 397.60 L84.30 397.15 L86.06 397.02 L87.82 397.26 L89.50 397.82 L91.06 398.61 L92.48 399.60 L93.71 400.79 L94.63 402.17 L95.12 403.71 L95.11 405.29Z" fill="#ece4f0" opacity="0.6"/><path d="M93.81 406.80 L93.21 408.03 L92.60 409.14 L92.05 410.23 L91.54 411.37 L90.92 412.55 L90.05 413.67 L88.87 414.60 L87.46 415.24 L85.90 415.60 L84.30 415.73 L82.68 415.66 L81.08 415.41 L79.53 414.92 L78.15 414.15 L77.02 413.12 L76.20 411.91 L75.62 410.64 L75.18 409.37 L74.82 408.10 L74.55 406.80 L74.50 405.45 L74.79 404.12 L75.48 402.90 L76.50 401.88 L77.69 401.06 L78.92 400.37 L80.14 399.72 L81.41 399.06 L82.78 398.47 L84.30 398.06 L85.91 397.95 L87.53 398.16 L89.07 398.67 L90.50 399.39 L91.80 400.28 L92.93 401.36 L93.77 402.61 L94.21 404.00 L94.21 405.44Z" fill="#9a70c8" opacity="0.55"/><path d="M93.02 406.80 L92.56 407.92 L92.04 408.95 L91.54 409.96 L91.02 410.98 L90.39 412.01 L89.54 412.97 L88.44 413.76 L87.15 414.31 L85.75 414.63 L84.30 414.73 L82.84 414.67 L81.40 414.43 L80.02 413.99 L78.77 413.31 L77.74 412.42 L76.95 411.37 L76.38 410.25 L75.96 409.12 L75.63 407.98 L75.41 406.80 L75.39 405.59 L75.67 404.40 L76.28 403.31 L77.17 402.37 L78.22 401.60 L79.33 400.95 L80.46 400.35 L81.64 399.79 L82.91 399.31 L84.30 399.00 L85.76 398.94 L87.21 399.15 L88.59 399.60 L89.87 400.24 L91.03 401.04 L92.03 402.00 L92.79 403.10 L93.22 404.32 L93.28 405.58Z" fill="#5c1ca4"/><path d="M92.05 406.82 L91.61 407.79 L91.13 408.67 L90.69 409.54 L90.24 410.42 L89.71 411.33 L88.97 412.18 L88.01 412.88 L86.87 413.38 L85.61 413.65 L84.32 413.75 L83.02 413.69 L81.73 413.49 L80.50 413.11 L79.38 412.51 L78.47 411.72 L77.78 410.80 L77.29 409.82 L76.93 408.83 L76.63 407.84 L76.43 406.82 L76.40 405.77 L76.65 404.73 L77.20 403.78 L78.00 402.97 L78.95 402.32 L79.94 401.77 L80.93 401.25 L81.97 400.75 L83.09 400.31 L84.32 400.02 L85.62 399.96 L86.92 400.13 L88.15 400.53 L89.30 401.09 L90.34 401.78 L91.24 402.61 L91.92 403.58 L92.29 404.65 L92.32 405.76Z" fill="#2414d0"/><path d="M90.89 406.84 L90.48 407.63 L90.05 408.34 L89.68 409.04 L89.33 409.77 L88.90 410.52 L88.30 411.24 L87.49 411.83 L86.52 412.24 L85.45 412.47 L84.35 412.55 L83.24 412.51 L82.14 412.35 L81.08 412.04 L80.13 411.54 L79.35 410.89 L78.78 410.12 L78.38 409.30 L78.09 408.49 L77.83 407.68 L77.65 406.84 L77.62 405.98 L77.82 405.13 L78.29 404.35 L78.99 403.70 L79.81 403.17 L80.65 402.73 L81.49 402.31 L82.36 401.89 L83.31 401.51 L84.35 401.26 L85.46 401.19 L86.57 401.32 L87.62 401.65 L88.61 402.11 L89.50 402.68 L90.27 403.37 L90.85 404.17 L91.16 405.06 L91.15 405.97Z" fill="#2040ff"/><path d="M88.41 406.90 L88.11 407.30 L87.83 407.66 L87.60 408.02 L87.41 408.40 L87.18 408.81 L86.84 409.21 L86.36 409.54 L85.76 409.76 L85.09 409.89 L84.41 409.93 L83.72 409.91 L83.03 409.83 L82.36 409.67 L81.77 409.41 L81.30 409.05 L80.96 408.63 L80.74 408.19 L80.57 407.76 L80.41 407.33 L80.29 406.90 L80.25 406.44 L80.37 405.99 L80.67 405.58 L81.12 405.25 L81.64 404.99 L82.17 404.77 L82.68 404.55 L83.20 404.32 L83.77 404.10 L84.41 403.94 L85.10 403.89 L85.79 403.95 L86.46 404.12 L87.07 404.36 L87.64 404.67 L88.12 405.03 L88.49 405.46 L88.66 405.94 L88.62 406.44Z" fill="#1a80ff"/></g>
<rect x="13" y="434.2" width="26" height="1" fill="#8a8a8a"/>
<text x="97.4" y="358.3" font-size="8.1" text-anchor="end" font-weight="bold" fill="#fff" >12 d</text>
</g>
<clipPath id="cp21"><rect x="102" y="351.2" width="88.6" height="86.6"/></clipPath>
<g clip-path="url(#cp21)">
<rect x="102" y="351.2" width="88.6" height="86.6" fill="#222"/>
<rect x="102" y="351.2" width="88.6" height="86.6" fill="url(#stripes)"/>
<rect x="102" y="351.2" width="88.6" height="11" fill="url(#topband)"/>
<g transform="translate(119.1 359) rotate(-0.13)" filter="url(#bl1)"><path d="M7.5 60 L13.5 64.5 L16.5 66 M-7.5 60 L-13.5 64.5 L-16.5 66" fill="none" stroke="#b8b8b8" stroke-width="2.2" stroke-linecap="round"/><path d="M0 62 C1 68 1.6 73 1 79" fill="none" stroke="#b0b0b0" stroke-width="1.9" stroke-linecap="round"/><path d="M0 0 C 0.60 1.00 1.20 2.60 1.70 4.60 C 2.30 7.00 3.20 9.80 4.40 12.30 C 5.80 13.60 7.80 14.60 9.00 16.20 C 9.80 17.60 10.20 19.50 10.40 22.00 C 10.80 28.00 11.30 36.00 11.70 44.00 C 12.00 50.00 12.00 55.00 11.40 58.50 C 10.80 60.80 9.60 62.00 7.00 62.90 C 4.00 63.60 2.00 64.00 0.00 64.00 C -2.00 64.00 -4.00 63.60 -7.00 62.90 C -9.60 62.00 -10.80 60.80 -11.40 58.50 C -12.00 55.00 -12.00 50.00 -11.70 44.00 C -11.30 36.00 -10.80 28.00 -10.40 22.00 C -10.20 19.50 -9.80 17.60 -9.00 16.20 C -7.80 14.60 -5.80 13.60 -4.40 12.30 C -3.20 9.80 -2.30 7.00 -1.70 4.60 C -1.20 2.60 -0.60 1.00 0.00 0.00 Z" fill="url(#mgB)"/><path d="M0 0 C 0.60 1.00 1.20 2.60 1.70 4.60 C 2.30 7.00 3.20 9.80 4.40 12.30 C 5.80 13.60 7.80 14.60 9.00 16.20 C 9.80 17.60 10.20 19.50 10.40 22.00 C 10.80 28.00 11.30 36.00 11.70 44.00 C 12.00 50.00 12.00 55.00 11.40 58.50 C 10.80 60.80 9.60 62.00 7.00 62.90 C 4.00 63.60 2.00 64.00 0.00 64.00 C -2.00 64.00 -4.00 63.60 -7.00 62.90 C -9.60 62.00 -10.80 60.80 -11.40 58.50 C -12.00 55.00 -12.00 50.00 -11.70 44.00 C -11.30 36.00 -10.80 28.00 -10.40 22.00 C -10.20 19.50 -9.80 17.60 -9.00 16.20 C -7.80 14.60 -5.80 13.60 -4.40 12.30 C -3.20 9.80 -2.30 7.00 -1.70 4.60 C -1.20 2.60 -0.60 1.00 0.00 0.00 Z" fill="url(#hs)"/></g>
<g transform="translate(144.8 359) rotate(0.0)" filter="url(#bl1)"><path d="M7.5 60 L13.5 64.5 L16.5 66 M-7.5 60 L-13.5 64.5 L-16.5 66" fill="none" stroke="#b8b8b8" stroke-width="2.2" stroke-linecap="round"/><path d="M0 62 C1 68 1.6 73 1 79" fill="none" stroke="#b0b0b0" stroke-width="1.9" stroke-linecap="round"/><path d="M0 0 C 0.60 1.00 1.20 2.60 1.70 4.60 C 2.30 7.00 3.20 9.80 4.40 12.30 C 5.80 13.60 7.80 14.60 9.00 16.20 C 9.80 17.60 10.20 19.50 10.40 22.00 C 10.80 28.00 11.30 36.00 11.70 44.00 C 12.00 50.00 12.00 55.00 11.40 58.50 C 10.80 60.80 9.60 62.00 7.00 62.90 C 4.00 63.60 2.00 64.00 0.00 64.00 C -2.00 64.00 -4.00 63.60 -7.00 62.90 C -9.60 62.00 -10.80 60.80 -11.40 58.50 C -12.00 55.00 -12.00 50.00 -11.70 44.00 C -11.30 36.00 -10.80 28.00 -10.40 22.00 C -10.20 19.50 -9.80 17.60 -9.00 16.20 C -7.80 14.60 -5.80 13.60 -4.40 12.30 C -3.20 9.80 -2.30 7.00 -1.70 4.60 C -1.20 2.60 -0.60 1.00 0.00 0.00 Z" fill="url(#mgA)"/><path d="M0 0 C 0.60 1.00 1.20 2.60 1.70 4.60 C 2.30 7.00 3.20 9.80 4.40 12.30 C 5.80 13.60 7.80 14.60 9.00 16.20 C 9.80 17.60 10.20 19.50 10.40 22.00 C 10.80 28.00 11.30 36.00 11.70 44.00 C 12.00 50.00 12.00 55.00 11.40 58.50 C 10.80 60.80 9.60 62.00 7.00 62.90 C 4.00 63.60 2.00 64.00 0.00 64.00 C -2.00 64.00 -4.00 63.60 -7.00 62.90 C -9.60 62.00 -10.80 60.80 -11.40 58.50 C -12.00 55.00 -12.00 50.00 -11.70 44.00 C -11.30 36.00 -10.80 28.00 -10.40 22.00 C -10.20 19.50 -9.80 17.60 -9.00 16.20 C -7.80 14.60 -5.80 13.60 -4.40 12.30 C -3.20 9.80 -2.30 7.00 -1.70 4.60 C -1.20 2.60 -0.60 1.00 0.00 0.00 Z" fill="url(#hs)"/></g>
<g transform="translate(171.3 359) rotate(-2.17)" filter="url(#bl1)"><path d="M7.5 60 L13.5 64.5 L16.5 66 M-7.5 60 L-13.5 64.5 L-16.5 66" fill="none" stroke="#b8b8b8" stroke-width="2.2" stroke-linecap="round"/><path d="M0 62 C1 68 1.6 73 1 79" fill="none" stroke="#b0b0b0" stroke-width="1.9" stroke-linecap="round"/><path d="M0 0 C 0.60 1.00 1.20 2.60 1.70 4.60 C 2.30 7.00 3.20 9.80 4.40 12.30 C 5.80 13.60 7.80 14.60 9.00 16.20 C 9.80 17.60 10.20 19.50 10.40 22.00 C 10.80 28.00 11.30 36.00 11.70 44.00 C 12.00 50.00 12.00 55.00 11.40 58.50 C 10.80 60.80 9.60 62.00 7.00 62.90 C 4.00 63.60 2.00 64.00 0.00 64.00 C -2.00 64.00 -4.00 63.60 -7.00 62.90 C -9.60 62.00 -10.80 60.80 -11.40 58.50 C -12.00 55.00 -12.00 50.00 -11.70 44.00 C -11.30 36.00 -10.80 28.00 -10.40 22.00 C -10.20 19.50 -9.80 17.60 -9.00 16.20 C -7.80 14.60 -5.80 13.60 -4.40 12.30 C -3.20 9.80 -2.30 7.00 -1.70 4.60 C -1.20 2.60 -0.60 1.00 0.00 0.00 Z" fill="url(#mgB)"/><path d="M0 0 C 0.60 1.00 1.20 2.60 1.70 4.60 C 2.30 7.00 3.20 9.80 4.40 12.30 C 5.80 13.60 7.80 14.60 9.00 16.20 C 9.80 17.60 10.20 19.50 10.40 22.00 C 10.80 28.00 11.30 36.00 11.70 44.00 C 12.00 50.00 12.00 55.00 11.40 58.50 C 10.80 60.80 9.60 62.00 7.00 62.90 C 4.00 63.60 2.00 64.00 0.00 64.00 C -2.00 64.00 -4.00 63.60 -7.00 62.90 C -9.60 62.00 -10.80 60.80 -11.40 58.50 C -12.00 55.00 -12.00 50.00 -11.70 44.00 C -11.30 36.00 -10.80 28.00 -10.40 22.00 C -10.20 19.50 -9.80 17.60 -9.00 16.20 C -7.80 14.60 -5.80 13.60 -4.40 12.30 C -3.20 9.80 -2.30 7.00 -1.70 4.60 C -1.20 2.60 -0.60 1.00 0.00 0.00 Z" fill="url(#hs)"/></g>
<g filter="url(#bl2)"><path d="M131.90 409.10 L131.52 410.86 L131.06 412.53 L130.46 414.10 L129.67 415.54 L128.69 416.79 L127.58 417.85 L126.41 418.81 L125.17 419.74 L123.82 420.63 L122.30 421.32 L120.66 421.60 L119.00 421.32 L117.50 420.45 L116.23 419.16 L115.20 417.65 L114.32 416.08 L113.53 414.48 L112.84 412.80 L112.37 410.99 L112.25 409.10 L112.51 407.23 L113.12 405.51 L113.92 403.96 L114.82 402.55 L115.77 401.23 L116.81 400.01 L118.01 398.97 L119.37 398.24 L120.82 397.86 L122.30 397.78 L123.78 397.86 L125.29 398.03 L126.87 398.30 L128.49 398.85 L130.00 399.83 L131.21 401.30 L131.98 403.16 L132.27 405.20 L132.19 407.21Z" fill="#ece4f0" opacity="0.6"/><path d="M130.17 409.10 L129.90 410.60 L129.54 412.04 L129.05 413.40 L128.40 414.64 L127.60 415.73 L126.69 416.65 L125.71 417.47 L124.67 418.22 L123.54 418.89 L122.30 419.38 L120.98 419.55 L119.65 419.28 L118.44 418.58 L117.40 417.54 L116.53 416.31 L115.80 415.01 L115.15 413.66 L114.60 412.23 L114.24 410.70 L114.13 409.10 L114.33 407.52 L114.78 406.05 L115.40 404.71 L116.12 403.49 L116.90 402.35 L117.78 401.32 L118.77 400.45 L119.89 399.84 L121.08 399.51 L122.30 399.43 L123.52 399.51 L124.75 399.69 L126.01 400.00 L127.28 400.53 L128.46 401.40 L129.42 402.64 L130.05 404.17 L130.33 405.84 L130.34 407.51Z" fill="#18138e"/><path d="M128.87 409.09 L128.63 410.40 L128.32 411.64 L127.91 412.81 L127.37 413.88 L126.70 414.81 L125.94 415.60 L125.13 416.31 L124.27 416.98 L123.34 417.60 L122.30 418.07 L121.18 418.25 L120.06 418.03 L119.04 417.41 L118.17 416.47 L117.45 415.38 L116.85 414.24 L116.30 413.06 L115.84 411.82 L115.53 410.49 L115.44 409.09 L115.61 407.72 L116.01 406.44 L116.55 405.29 L117.15 404.24 L117.81 403.26 L118.53 402.36 L119.36 401.60 L120.29 401.06 L121.28 400.78 L122.30 400.72 L123.31 400.78 L124.34 400.92 L125.41 401.15 L126.50 401.58 L127.51 402.32 L128.33 403.40 L128.86 404.76 L129.07 406.24 L129.04 407.71Z" fill="#2040ff"/><path d="M127.39 409.09 L127.18 410.16 L126.93 411.17 L126.61 412.13 L126.19 413.01 L125.67 413.77 L125.09 414.41 L124.47 415.00 L123.82 415.57 L123.10 416.12 L122.29 416.55 L121.42 416.73 L120.54 416.56 L119.74 416.03 L119.07 415.23 L118.53 414.31 L118.06 413.35 L117.64 412.37 L117.27 411.35 L117.02 410.24 L116.96 409.09 L117.10 407.95 L117.43 406.90 L117.86 405.96 L118.33 405.10 L118.83 404.30 L119.39 403.55 L120.02 402.92 L120.74 402.47 L121.51 402.24 L122.29 402.19 L123.08 402.24 L123.88 402.33 L124.72 402.49 L125.58 402.82 L126.39 403.41 L127.04 404.31 L127.45 405.45 L127.60 406.70 L127.55 407.94Z" fill="#14d2f2"/><path d="M126.20 409.08 L126.03 409.97 L125.84 410.81 L125.59 411.60 L125.27 412.33 L124.87 412.95 L124.42 413.48 L123.95 413.97 L123.46 414.45 L122.91 414.93 L122.29 415.32 L121.62 415.50 L120.93 415.36 L120.31 414.91 L119.80 414.23 L119.39 413.44 L119.03 412.63 L118.71 411.82 L118.43 410.97 L118.23 410.05 L118.18 409.08 L118.29 408.13 L118.55 407.26 L118.89 406.48 L119.26 405.78 L119.65 405.11 L120.07 404.49 L120.55 403.96 L121.10 403.59 L121.69 403.40 L122.29 403.36 L122.89 403.40 L123.51 403.46 L124.16 403.57 L124.84 403.82 L125.48 404.31 L125.98 405.06 L126.29 406.02 L126.40 407.08 L126.34 408.12Z" fill="#3ce04a"/><path d="M125.02 409.08 L124.89 409.78 L124.75 410.45 L124.58 411.08 L124.36 411.65 L124.08 412.14 L123.77 412.56 L123.44 412.95 L123.10 413.35 L122.72 413.75 L122.29 414.09 L121.81 414.24 L121.33 414.14 L120.89 413.77 L120.54 413.22 L120.25 412.57 L120.01 411.92 L119.78 411.27 L119.58 410.59 L119.44 409.85 L119.40 409.08 L119.49 408.32 L119.68 407.62 L119.92 407.01 L120.18 406.45 L120.45 405.92 L120.74 405.42 L121.08 404.99 L121.46 404.69 L121.87 404.55 L122.29 404.52 L122.71 404.55 L123.14 404.59 L123.60 404.66 L124.09 404.84 L124.54 405.22 L124.90 405.82 L125.12 406.61 L125.18 407.47 L125.13 408.31Z" fill="#f0ee22"/><path d="M124.04 409.07 L123.95 409.63 L123.86 410.15 L123.75 410.65 L123.61 411.10 L123.43 411.48 L123.23 411.81 L123.02 412.12 L122.81 412.44 L122.57 412.77 L122.29 413.05 L121.98 413.19 L121.67 413.11 L121.39 412.81 L121.16 412.36 L120.97 411.85 L120.82 411.32 L120.68 410.81 L120.54 410.27 L120.45 409.69 L120.43 409.07 L120.49 408.47 L120.61 407.92 L120.77 407.44 L120.94 407.00 L121.11 406.59 L121.30 406.19 L121.51 405.85 L121.76 405.61 L122.02 405.50 L122.29 405.48 L122.56 405.50 L122.84 405.52 L123.13 405.57 L123.45 405.70 L123.75 405.99 L123.98 406.47 L124.12 407.10 L124.16 407.79 L124.12 408.46Z" fill="#ff1c00"/></g>
<g filter="url(#bl2)"><path d="M157.89 407.00 L157.79 408.76 L157.37 410.45 L156.76 412.02 L156.05 413.52 L155.26 415.00 L154.32 416.42 L153.17 417.64 L151.81 418.48 L150.31 418.84 L148.80 418.78 L147.34 418.44 L145.93 417.95 L144.55 417.34 L143.21 416.53 L142.03 415.39 L141.14 413.90 L140.62 412.16 L140.45 410.36 L140.48 408.63 L140.54 407.00 L140.56 405.38 L140.60 403.70 L140.81 401.95 L141.31 400.26 L142.15 398.76 L143.24 397.52 L144.49 396.52 L145.84 395.70 L147.27 395.05 L148.80 394.68 L150.37 394.75 L151.85 395.36 L153.13 396.47 L154.14 397.89 L154.94 399.39 L155.65 400.83 L156.36 402.22 L157.06 403.67 L157.62 405.27Z" fill="#ece4f0" opacity="0.6"/><path d="M157.00 407.00 L156.91 408.63 L156.53 410.18 L155.98 411.63 L155.34 413.01 L154.63 414.37 L153.78 415.68 L152.75 416.80 L151.52 417.57 L150.17 417.91 L148.80 417.85 L147.48 417.53 L146.21 417.08 L144.96 416.52 L143.76 415.77 L142.69 414.73 L141.89 413.36 L141.42 411.76 L141.27 410.10 L141.29 408.50 L141.34 407.00 L141.36 405.51 L141.40 403.96 L141.59 402.35 L142.05 400.79 L142.80 399.41 L143.78 398.26 L144.91 397.34 L146.13 396.59 L147.42 396.00 L148.80 395.66 L150.21 395.72 L151.55 396.28 L152.71 397.30 L153.62 398.61 L154.34 399.99 L154.98 401.32 L155.62 402.60 L156.26 403.94 L156.76 405.41Z" fill="#9a70c8" opacity="0.55"/><path d="M156.13 407.00 L156.05 408.49 L155.72 409.92 L155.24 411.26 L154.66 412.52 L154.00 413.75 L153.22 414.90 L152.29 415.88 L151.19 416.56 L150.01 416.88 L148.80 416.86 L147.63 416.60 L146.50 416.20 L145.39 415.68 L144.34 414.97 L143.40 414.01 L142.67 412.78 L142.22 411.35 L142.02 409.86 L141.98 408.40 L142.00 407.00 L142.03 405.61 L142.12 404.18 L142.34 402.73 L142.79 401.33 L143.47 400.09 L144.35 399.06 L145.35 398.23 L146.44 397.56 L147.59 397.05 L148.80 396.78 L150.04 396.85 L151.22 397.33 L152.26 398.20 L153.11 399.31 L153.80 400.52 L154.41 401.72 L154.99 402.91 L155.52 404.17 L155.94 405.53Z" fill="#5c1ca4"/><path d="M155.22 406.89 L155.15 408.22 L154.86 409.50 L154.44 410.69 L153.94 411.83 L153.38 412.93 L152.72 413.98 L151.92 414.87 L150.97 415.50 L149.94 415.78 L148.89 415.75 L147.87 415.50 L146.89 415.14 L145.94 414.68 L145.02 414.05 L144.20 413.19 L143.57 412.08 L143.20 410.79 L143.05 409.44 L143.04 408.14 L143.07 406.89 L143.09 405.66 L143.14 404.38 L143.31 403.07 L143.68 401.81 L144.27 400.69 L145.03 399.76 L145.90 399.01 L146.84 398.40 L147.83 397.93 L148.89 397.67 L149.97 397.73 L151.00 398.18 L151.89 398.98 L152.61 400.01 L153.19 401.11 L153.70 402.19 L154.20 403.25 L154.67 404.36 L155.05 405.58Z" fill="#2414d0"/><path d="M154.13 406.76 L154.08 407.90 L153.84 409.00 L153.49 410.02 L153.09 410.99 L152.64 411.95 L152.12 412.87 L151.47 413.66 L150.69 414.21 L149.85 414.45 L148.99 414.41 L148.17 414.18 L147.37 413.87 L146.59 413.47 L145.84 412.94 L145.17 412.20 L144.66 411.24 L144.37 410.11 L144.27 408.94 L144.29 407.82 L144.32 406.76 L144.33 405.71 L144.36 404.62 L144.48 403.48 L144.76 402.38 L145.23 401.41 L145.85 400.60 L146.56 399.95 L147.32 399.42 L148.13 399.00 L148.99 398.76 L149.88 398.81 L150.72 399.21 L151.44 399.93 L152.01 400.85 L152.47 401.82 L152.87 402.75 L153.27 403.66 L153.66 404.60 L153.98 405.64Z" fill="#2040ff"/><path d="M152.87 406.61 L152.83 407.53 L152.65 408.42 L152.39 409.24 L152.10 410.03 L151.78 410.81 L151.40 411.58 L150.93 412.24 L150.37 412.69 L149.75 412.88 L149.12 412.83 L148.51 412.64 L147.93 412.37 L147.36 412.06 L146.80 411.64 L146.31 411.04 L145.94 410.25 L145.74 409.32 L145.69 408.37 L145.72 407.46 L145.75 406.61 L145.76 405.77 L145.76 404.88 L145.83 403.96 L146.02 403.06 L146.36 402.26 L146.81 401.60 L147.33 401.07 L147.89 400.63 L148.48 400.27 L149.12 400.06 L149.77 400.09 L150.39 400.43 L150.91 401.04 L151.32 401.82 L151.63 402.63 L151.92 403.39 L152.21 404.12 L152.51 404.87 L152.75 405.70Z" fill="#14d2f2"/><path d="M152.36 403.50 L152.49 403.82 L152.53 404.16 L152.41 404.50 L152.14 404.80 L151.76 405.05 L151.35 405.27 L150.91 405.49 L150.43 405.69 L149.89 405.86 L149.30 405.93 L148.70 405.87 L148.16 405.70 L147.70 405.47 L147.30 405.23 L146.90 405.01 L146.49 404.78 L146.11 404.52 L145.86 404.20 L145.79 403.85 L145.91 403.50 L146.14 403.19 L146.38 402.90 L146.57 402.63 L146.73 402.33 L146.92 402.01 L147.22 401.70 L147.64 401.46 L148.16 401.30 L148.72 401.22 L149.30 401.18 L149.89 401.17 L150.49 401.19 L151.08 401.30 L151.60 401.51 L151.96 401.83 L152.13 402.21 L152.17 402.58 L152.18 402.91 L152.23 403.21Z" fill="#2040ff"/><path d="M152.73 410.00 L152.90 410.40 L152.95 410.84 L152.80 411.27 L152.45 411.65 L151.97 411.97 L151.43 412.25 L150.87 412.53 L150.26 412.79 L149.56 413.00 L148.80 413.09 L148.03 413.01 L147.34 412.80 L146.75 412.51 L146.22 412.21 L145.71 411.92 L145.18 411.63 L144.70 411.30 L144.37 410.89 L144.29 410.44 L144.44 410.00 L144.73 409.60 L145.04 409.24 L145.29 408.89 L145.50 408.51 L145.74 408.10 L146.12 407.71 L146.67 407.40 L147.34 407.20 L148.06 407.09 L148.80 407.05 L149.56 407.03 L150.33 407.07 L151.09 407.20 L151.75 407.47 L152.22 407.87 L152.44 408.35 L152.50 408.83 L152.50 409.25 L152.57 409.63Z" fill="#14d2f2"/><path d="M152.24 410.00 L152.22 410.34 L152.04 410.66 L151.74 410.93 L151.40 411.18 L151.07 411.41 L150.73 411.66 L150.36 411.90 L149.90 412.10 L149.36 412.21 L148.80 412.20 L148.27 412.08 L147.81 411.90 L147.41 411.69 L147.06 411.49 L146.74 411.28 L146.45 411.06 L146.23 410.82 L146.07 410.55 L145.96 410.28 L145.85 410.00 L145.72 409.70 L145.59 409.35 L145.56 408.97 L145.70 408.60 L146.04 408.28 L146.55 408.08 L147.16 407.99 L147.76 408.00 L148.30 408.05 L148.80 408.11 L149.27 408.17 L149.72 408.24 L150.15 408.36 L150.53 408.52 L150.87 408.71 L151.19 408.92 L151.50 409.14 L151.81 409.39 L152.08 409.68Z" fill="#20e0e0"/></g>
<g filter="url(#bl2)"><path d="M183.59 408.00 L183.64 409.78 L183.34 411.54 L182.64 413.13 L181.60 414.45 L180.41 415.50 L179.20 416.41 L178.01 417.30 L176.78 418.24 L175.43 419.11 L173.90 419.72 L172.27 419.88 L170.65 419.54 L169.14 418.77 L167.79 417.70 L166.59 416.43 L165.56 414.99 L164.77 413.36 L164.34 411.58 L164.31 409.75 L164.64 408.00 L165.15 406.40 L165.67 404.92 L166.11 403.43 L166.55 401.84 L167.14 400.21 L168.03 398.68 L169.25 397.47 L170.72 396.71 L172.30 396.38 L173.90 396.37 L175.47 396.56 L177.02 396.93 L178.52 397.54 L179.90 398.48 L181.04 399.77 L181.89 401.30 L182.50 402.95 L182.95 404.61 L183.32 406.28Z" fill="#ece4f0" opacity="0.6"/><path d="M182.70 408.00 L182.75 409.64 L182.47 411.26 L181.83 412.72 L180.90 413.94 L179.81 414.91 L178.71 415.74 L177.63 416.56 L176.52 417.42 L175.29 418.22 L173.90 418.79 L172.42 418.93 L170.95 418.62 L169.58 417.91 L168.35 416.93 L167.26 415.76 L166.32 414.43 L165.61 412.94 L165.22 411.30 L165.19 409.61 L165.49 408.00 L165.95 406.53 L166.42 405.16 L166.83 403.79 L167.23 402.33 L167.76 400.83 L168.57 399.42 L169.67 398.31 L171.01 397.61 L172.45 397.31 L173.90 397.30 L175.33 397.47 L176.73 397.81 L178.10 398.38 L179.34 399.24 L180.38 400.42 L181.16 401.84 L181.71 403.35 L182.12 404.88 L182.45 406.42Z" fill="#9a70c8" opacity="0.55"/><path d="M181.83 408.00 L181.84 409.49 L181.59 410.97 L181.03 412.31 L180.23 413.46 L179.28 414.39 L178.30 415.19 L177.31 415.95 L176.28 416.69 L175.15 417.35 L173.90 417.78 L172.58 417.87 L171.28 417.57 L170.07 416.93 L168.97 416.06 L167.99 415.01 L167.16 413.82 L166.51 412.47 L166.13 411.00 L166.06 409.47 L166.25 408.00 L166.60 406.63 L167.00 405.34 L167.39 404.06 L167.81 402.74 L168.35 401.41 L169.12 400.19 L170.13 399.22 L171.33 398.60 L172.61 398.31 L173.90 398.28 L175.18 398.43 L176.43 398.75 L177.64 399.27 L178.76 400.06 L179.69 401.12 L180.42 402.38 L180.94 403.74 L181.33 405.13 L181.63 406.55Z" fill="#5c1ca4"/><path d="M180.57 407.89 L180.60 409.18 L180.39 410.45 L179.91 411.61 L179.22 412.58 L178.42 413.36 L177.59 414.03 L176.77 414.69 L175.92 415.35 L174.98 415.95 L173.94 416.36 L172.83 416.46 L171.73 416.21 L170.71 415.65 L169.79 414.89 L168.97 413.97 L168.26 412.94 L167.72 411.76 L167.42 410.48 L167.38 409.16 L167.57 407.89 L167.90 406.71 L168.24 405.62 L168.56 404.53 L168.88 403.39 L169.31 402.22 L169.93 401.13 L170.77 400.27 L171.77 399.73 L172.85 399.48 L173.94 399.47 L175.01 399.60 L176.07 399.87 L177.09 400.32 L178.03 401.01 L178.81 401.93 L179.40 403.03 L179.83 404.21 L180.14 405.42 L180.40 406.63Z" fill="#2040ff"/><path d="M179.13 407.75 L179.16 408.81 L179.00 409.85 L178.62 410.80 L178.07 411.58 L177.43 412.19 L176.79 412.72 L176.16 413.25 L175.52 413.81 L174.80 414.34 L173.99 414.71 L173.12 414.81 L172.26 414.61 L171.46 414.15 L170.74 413.51 L170.10 412.76 L169.55 411.91 L169.14 410.94 L168.91 409.88 L168.90 408.79 L169.08 407.75 L169.36 406.81 L169.64 405.93 L169.87 405.05 L170.10 404.11 L170.40 403.14 L170.87 402.22 L171.52 401.50 L172.30 401.05 L173.14 400.86 L173.99 400.85 L174.82 400.97 L175.65 401.18 L176.44 401.55 L177.17 402.11 L177.78 402.87 L178.23 403.78 L178.55 404.76 L178.78 405.75 L178.98 406.74Z" fill="#14d2f2"/><path d="M177.97 407.65 L178.01 408.52 L177.89 409.37 L177.59 410.15 L177.16 410.78 L176.66 411.27 L176.16 411.69 L175.69 412.13 L175.20 412.60 L174.65 413.05 L174.03 413.38 L173.35 413.48 L172.69 413.32 L172.07 412.93 L171.51 412.40 L171.02 411.78 L170.60 411.07 L170.28 410.27 L170.11 409.40 L170.12 408.50 L170.27 407.65 L170.50 406.88 L170.72 406.17 L170.90 405.46 L171.06 404.68 L171.28 403.87 L171.62 403.10 L172.12 402.49 L172.72 402.12 L173.37 401.96 L174.03 401.97 L174.67 402.06 L175.30 402.24 L175.92 402.53 L176.49 402.99 L176.95 403.63 L177.29 404.39 L177.53 405.20 L177.70 406.01 L177.86 406.81Z" fill="#3ce04a"/><path d="M176.82 407.54 L176.85 408.22 L176.77 408.89 L176.56 409.50 L176.25 409.98 L175.90 410.36 L175.55 410.68 L175.22 411.01 L174.88 411.39 L174.50 411.77 L174.06 412.04 L173.59 412.13 L173.12 412.00 L172.68 411.70 L172.30 411.28 L171.95 410.79 L171.65 410.23 L171.43 409.61 L171.32 408.91 L171.33 408.21 L171.45 407.54 L171.63 406.95 L171.78 406.41 L171.90 405.85 L172.00 405.24 L172.14 404.59 L172.38 403.98 L172.72 403.49 L173.14 403.20 L173.60 403.08 L174.06 403.09 L174.52 403.17 L174.96 403.30 L175.40 403.53 L175.79 403.89 L176.12 404.39 L176.35 404.99 L176.51 405.63 L176.63 406.26 L176.74 406.89Z" fill="#f0ee22"/><path d="M175.68 407.44 L175.70 407.93 L175.65 408.41 L175.53 408.85 L175.35 409.19 L175.14 409.45 L174.94 409.68 L174.75 409.92 L174.57 410.20 L174.35 410.48 L174.10 410.69 L173.83 410.76 L173.56 410.68 L173.31 410.46 L173.09 410.15 L172.89 409.79 L172.72 409.39 L172.59 408.93 L172.53 408.43 L172.54 407.92 L172.62 407.44 L172.72 407.02 L172.82 406.63 L172.88 406.23 L172.93 405.79 L173.01 405.32 L173.14 404.86 L173.33 404.51 L173.57 404.29 L173.84 404.21 L174.10 404.22 L174.36 404.28 L174.62 404.37 L174.87 404.53 L175.09 404.79 L175.28 405.16 L175.41 405.60 L175.50 406.06 L175.56 406.52 L175.63 406.97Z" fill="#ff1c00"/></g>
<rect x="104" y="434.2" width="26" height="1" fill="#8a8a8a"/>
<text x="188.4" y="358.3" font-size="8.1" text-anchor="end" font-weight="bold" fill="#fff" >12.25 d</text>
</g>
<clipPath id="cp22"><rect x="192.3" y="351.2" width="88.6" height="86.6"/></clipPath>
<g clip-path="url(#cp22)">
<rect x="192.3" y="351.2" width="88.6" height="86.6" fill="#222"/>
<rect x="192.3" y="351.2" width="88.6" height="86.6" fill="url(#stripes)"/>
<rect x="192.3" y="351.2" width="88.6" height="11" fill="url(#topband)"/>
<g transform="translate(209.1 359) rotate(-1.15)" filter="url(#bl1)"><path d="M7.5 60 L13.5 64.5 L16.5 66 M-7.5 60 L-13.5 64.5 L-16.5 66" fill="none" stroke="#b8b8b8" stroke-width="2.2" stroke-linecap="round"/><path d="M0 62 C1 68 1.6 73 1 79" fill="none" stroke="#b0b0b0" stroke-width="1.9" stroke-linecap="round"/><path d="M0 0 C 0.60 1.00 1.20 2.60 1.70 4.60 C 2.30 7.00 3.20 9.80 4.40 12.30 C 5.80 13.60 7.80 14.60 9.00 16.20 C 9.80 17.60 10.20 19.50 10.40 22.00 C 10.80 28.00 11.30 36.00 11.70 44.00 C 12.00 50.00 12.00 55.00 11.40 58.50 C 10.80 60.80 9.60 62.00 7.00 62.90 C 4.00 63.60 2.00 64.00 0.00 64.00 C -2.00 64.00 -4.00 63.60 -7.00 62.90 C -9.60 62.00 -10.80 60.80 -11.40 58.50 C -12.00 55.00 -12.00 50.00 -11.70 44.00 C -11.30 36.00 -10.80 28.00 -10.40 22.00 C -10.20 19.50 -9.80 17.60 -9.00 16.20 C -7.80 14.60 -5.80 13.60 -4.40 12.30 C -3.20 9.80 -2.30 7.00 -1.70 4.60 C -1.20 2.60 -0.60 1.00 0.00 0.00 Z" fill="url(#mgB)"/><path d="M0 0 C 0.60 1.00 1.20 2.60 1.70 4.60 C 2.30 7.00 3.20 9.80 4.40 12.30 C 5.80 13.60 7.80 14.60 9.00 16.20 C 9.80 17.60 10.20 19.50 10.40 22.00 C 10.80 28.00 11.30 36.00 11.70 44.00 C 12.00 50.00 12.00 55.00 11.40 58.50 C 10.80 60.80 9.60 62.00 7.00 62.90 C 4.00 63.60 2.00 64.00 0.00 64.00 C -2.00 64.00 -4.00 63.60 -7.00 62.90 C -9.60 62.00 -10.80 60.80 -11.40 58.50 C -12.00 55.00 -12.00 50.00 -11.70 44.00 C -11.30 36.00 -10.80 28.00 -10.40 22.00 C -10.20 19.50 -9.80 17.60 -9.00 16.20 C -7.80 14.60 -5.80 13.60 -4.40 12.30 C -3.20 9.80 -2.30 7.00 -1.70 4.60 C -1.20 2.60 -0.60 1.00 0.00 0.00 Z" fill="url(#hs)"/></g>
<g transform="translate(235.7 359) rotate(-1.02)" filter="url(#bl1)"><path d="M7.5 60 L13.5 64.5 L16.5 66 M-7.5 60 L-13.5 64.5 L-16.5 66" fill="none" stroke="#b8b8b8" stroke-width="2.2" stroke-linecap="round"/><path d="M0 62 C1 68 1.6 73 1 79" fill="none" stroke="#b0b0b0" stroke-width="1.9" stroke-linecap="round"/><path d="M0 0 C 0.60 1.00 1.20 2.60 1.70 4.60 C 2.30 7.00 3.20 9.80 4.40 12.30 C 5.80 13.60 7.80 14.60 9.00 16.20 C 9.80 17.60 10.20 19.50 10.40 22.00 C 10.80 28.00 11.30 36.00 11.70 44.00 C 12.00 50.00 12.00 55.00 11.40 58.50 C 10.80 60.80 9.60 62.00 7.00 62.90 C 4.00 63.60 2.00 64.00 0.00 64.00 C -2.00 64.00 -4.00 63.60 -7.00 62.90 C -9.60 62.00 -10.80 60.80 -11.40 58.50 C -12.00 55.00 -12.00 50.00 -11.70 44.00 C -11.30 36.00 -10.80 28.00 -10.40 22.00 C -10.20 19.50 -9.80 17.60 -9.00 16.20 C -7.80 14.60 -5.80 13.60 -4.40 12.30 C -3.20 9.80 -2.30 7.00 -1.70 4.60 C -1.20 2.60 -0.60 1.00 0.00 0.00 Z" fill="url(#mgA)"/><path d="M0 0 C 0.60 1.00 1.20 2.60 1.70 4.60 C 2.30 7.00 3.20 9.80 4.40 12.30 C 5.80 13.60 7.80 14.60 9.00 16.20 C 9.80 17.60 10.20 19.50 10.40 22.00 C 10.80 28.00 11.30 36.00 11.70 44.00 C 12.00 50.00 12.00 55.00 11.40 58.50 C 10.80 60.80 9.60 62.00 7.00 62.90 C 4.00 63.60 2.00 64.00 0.00 64.00 C -2.00 64.00 -4.00 63.60 -7.00 62.90 C -9.60 62.00 -10.80 60.80 -11.40 58.50 C -12.00 55.00 -12.00 50.00 -11.70 44.00 C -11.30 36.00 -10.80 28.00 -10.40 22.00 C -10.20 19.50 -9.80 17.60 -9.00 16.20 C -7.80 14.60 -5.80 13.60 -4.40 12.30 C -3.20 9.80 -2.30 7.00 -1.70 4.60 C -1.20 2.60 -0.60 1.00 0.00 0.00 Z" fill="url(#hs)"/></g>
<g transform="translate(262.2 359) rotate(-1.66)" filter="url(#bl1)"><path d="M7.5 60 L13.5 64.5 L16.5 66 M-7.5 60 L-13.5 64.5 L-16.5 66" fill="none" stroke="#b8b8b8" stroke-width="2.2" stroke-linecap="round"/><path d="M0 62 C1 68 1.6 73 1 79" fill="none" stroke="#b0b0b0" stroke-width="1.9" stroke-linecap="round"/><path d="M0 0 C 0.60 1.00 1.20 2.60 1.70 4.60 C 2.30 7.00 3.20 9.80 4.40 12.30 C 5.80 13.60 7.80 14.60 9.00 16.20 C 9.80 17.60 10.20 19.50 10.40 22.00 C 10.80 28.00 11.30 36.00 11.70 44.00 C 12.00 50.00 12.00 55.00 11.40 58.50 C 10.80 60.80 9.60 62.00 7.00 62.90 C 4.00 63.60 2.00 64.00 0.00 64.00 C -2.00 64.00 -4.00 63.60 -7.00 62.90 C -9.60 62.00 -10.80 60.80 -11.40 58.50 C -12.00 55.00 -12.00 50.00 -11.70 44.00 C -11.30 36.00 -10.80 28.00 -10.40 22.00 C -10.20 19.50 -9.80 17.60 -9.00 16.20 C -7.80 14.60 -5.80 13.60 -4.40 12.30 C -3.20 9.80 -2.30 7.00 -1.70 4.60 C -1.20 2.60 -0.60 1.00 0.00 0.00 Z" fill="url(#mgB)"/><path d="M0 0 C 0.60 1.00 1.20 2.60 1.70 4.60 C 2.30 7.00 3.20 9.80 4.40 12.30 C 5.80 13.60 7.80 14.60 9.00 16.20 C 9.80 17.60 10.20 19.50 10.40 22.00 C 10.80 28.00 11.30 36.00 11.70 44.00 C 12.00 50.00 12.00 55.00 11.40 58.50 C 10.80 60.80 9.60 62.00 7.00 62.90 C 4.00 63.60 2.00 64.00 0.00 64.00 C -2.00 64.00 -4.00 63.60 -7.00 62.90 C -9.60 62.00 -10.80 60.80 -11.40 58.50 C -12.00 55.00 -12.00 50.00 -11.70 44.00 C -11.30 36.00 -10.80 28.00 -10.40 22.00 C -10.20 19.50 -9.80 17.60 -9.00 16.20 C -7.80 14.60 -5.80 13.60 -4.40 12.30 C -3.20 9.80 -2.30 7.00 -1.70 4.60 C -1.20 2.60 -0.60 1.00 0.00 0.00 Z" fill="url(#hs)"/></g>
<g filter="url(#bl2)"><path d="M223.91 410.40 L223.88 412.30 L223.57 414.17 L223.00 415.94 L222.20 417.55 L221.18 418.92 L219.97 419.97 L218.62 420.61 L217.22 420.85 L215.87 420.77 L214.60 420.54 L213.39 420.28 L212.18 420.04 L210.92 419.76 L209.61 419.30 L208.34 418.51 L207.20 417.36 L206.29 415.88 L205.65 414.17 L205.27 412.31 L205.15 410.40 L205.30 408.49 L205.74 406.67 L206.46 405.02 L207.40 403.62 L208.49 402.48 L209.64 401.55 L210.81 400.75 L212.01 400.06 L213.27 399.52 L214.60 399.23 L215.96 399.30 L217.27 399.76 L218.47 400.56 L219.55 401.57 L220.53 402.71 L221.46 403.94 L222.33 405.30 L223.08 406.83 L223.63 408.55Z" fill="#ece4f0" opacity="0.6"/><path d="M221.92 410.40 L221.89 411.98 L221.64 413.54 L221.19 415.01 L220.57 416.35 L219.78 417.50 L218.84 418.40 L217.79 418.99 L216.70 419.27 L215.63 419.28 L214.60 419.15 L213.61 418.95 L212.63 418.72 L211.62 418.42 L210.60 417.95 L209.62 417.22 L208.76 416.22 L208.07 414.97 L207.57 413.53 L207.28 411.99 L207.19 410.40 L207.30 408.81 L207.63 407.29 L208.17 405.91 L208.89 404.71 L209.72 403.71 L210.62 402.88 L211.55 402.19 L212.52 401.61 L213.53 401.18 L214.60 400.96 L215.68 401.03 L216.73 401.41 L217.70 402.06 L218.57 402.90 L219.37 403.86 L220.10 404.92 L220.76 406.09 L221.33 407.40 L221.73 408.85Z" fill="#18138e"/><path d="M220.47 410.56 L220.45 411.94 L220.25 413.29 L219.88 414.57 L219.37 415.74 L218.71 416.74 L217.93 417.51 L217.07 417.99 L216.17 418.19 L215.29 418.16 L214.47 418.01 L213.68 417.82 L212.89 417.64 L212.07 417.42 L211.23 417.05 L210.41 416.46 L209.69 415.61 L209.11 414.53 L208.70 413.29 L208.46 411.94 L208.38 410.56 L208.48 409.18 L208.75 407.85 L209.21 406.65 L209.81 405.63 L210.50 404.78 L211.24 404.09 L212.00 403.51 L212.78 403.00 L213.60 402.62 L214.47 402.41 L215.35 402.47 L216.20 402.80 L216.98 403.37 L217.68 404.11 L218.33 404.94 L218.92 405.84 L219.48 406.84 L219.96 407.96 L220.30 409.21Z" fill="#2040ff"/><path d="M218.77 410.74 L218.76 411.88 L218.61 413.00 L218.34 414.06 L217.96 415.02 L217.47 415.84 L216.88 416.46 L216.23 416.83 L215.56 416.96 L214.92 416.89 L214.32 416.73 L213.74 416.57 L213.17 416.44 L212.57 416.29 L211.94 416.03 L211.32 415.58 L210.78 414.90 L210.34 414.02 L210.02 412.99 L209.84 411.88 L209.79 410.74 L209.86 409.60 L210.07 408.51 L210.42 407.52 L210.88 406.69 L211.40 406.02 L211.95 405.47 L212.51 405.00 L213.08 404.59 L213.68 404.26 L214.32 404.09 L214.96 404.12 L215.59 404.40 L216.16 404.88 L216.67 405.49 L217.14 406.17 L217.58 406.90 L218.00 407.70 L218.37 408.61 L218.64 409.63Z" fill="#14d2f2"/><path d="M217.40 410.88 L217.39 411.83 L217.29 412.76 L217.09 413.64 L216.81 414.44 L216.46 415.11 L216.03 415.61 L215.56 415.90 L215.08 415.98 L214.62 415.90 L214.19 415.75 L213.79 415.61 L213.39 415.51 L212.96 415.41 L212.50 415.22 L212.06 414.87 L211.65 414.33 L211.33 413.60 L211.11 412.75 L210.97 411.83 L210.93 410.88 L210.99 409.93 L211.14 409.03 L211.40 408.22 L211.73 407.55 L212.12 407.00 L212.51 406.57 L212.91 406.19 L213.32 405.85 L213.74 405.57 L214.19 405.42 L214.65 405.45 L215.10 405.68 L215.50 406.08 L215.87 406.58 L216.20 407.14 L216.52 407.73 L216.82 408.38 L217.09 409.12 L217.29 409.97Z" fill="#3ce04a"/><path d="M216.01 411.03 L216.00 411.78 L215.94 412.51 L215.82 413.21 L215.65 413.84 L215.44 414.37 L215.18 414.76 L214.89 414.98 L214.60 415.02 L214.32 414.93 L214.07 414.80 L213.83 414.68 L213.59 414.61 L213.34 414.55 L213.06 414.42 L212.79 414.16 L212.54 413.74 L212.34 413.18 L212.20 412.51 L212.12 411.78 L212.10 411.03 L212.13 410.28 L212.23 409.56 L212.39 408.93 L212.59 408.40 L212.83 407.99 L213.07 407.65 L213.31 407.36 L213.55 407.10 L213.80 406.87 L214.07 406.74 L214.35 406.76 L214.61 406.95 L214.85 407.26 L215.07 407.67 L215.27 408.10 L215.46 408.56 L215.64 409.07 L215.81 409.64 L215.94 410.30Z" fill="#f0ee22"/><path d="M214.83 411.15 L214.83 411.73 L214.81 412.30 L214.75 412.84 L214.68 413.33 L214.58 413.74 L214.46 414.04 L214.33 414.20 L214.20 414.22 L214.08 414.14 L213.97 414.02 L213.87 413.93 L213.76 413.88 L213.65 413.85 L213.52 413.76 L213.40 413.57 L213.29 413.25 L213.20 412.82 L213.13 412.30 L213.10 411.73 L213.09 411.15 L213.10 410.56 L213.15 410.01 L213.22 409.52 L213.31 409.12 L213.42 408.80 L213.53 408.55 L213.63 408.33 L213.74 408.12 L213.85 407.95 L213.97 407.84 L214.09 407.86 L214.21 408.00 L214.32 408.25 L214.41 408.56 L214.50 408.90 L214.58 409.25 L214.67 409.64 L214.74 410.08 L214.80 410.59Z" fill="#ff1c00"/></g>
<g filter="url(#bl2)"><path d="M249.33 407.60 L248.83 409.22 L248.13 410.64 L247.37 411.90 L246.67 413.10 L246.02 414.38 L245.32 415.74 L244.43 417.07 L243.30 418.16 L241.95 418.82 L240.50 419.00 L239.06 418.76 L237.68 418.25 L236.37 417.55 L235.12 416.68 L234.00 415.58 L233.07 414.23 L232.41 412.66 L232.04 410.97 L231.88 409.27 L231.87 407.60 L231.96 405.94 L232.19 404.29 L232.66 402.70 L233.43 401.29 L234.46 400.19 L235.65 399.40 L236.86 398.84 L238.05 398.34 L239.23 397.79 L240.50 397.23 L241.89 396.80 L243.38 396.72 L244.85 397.11 L246.19 397.99 L247.32 399.23 L248.23 400.71 L248.92 402.34 L249.36 404.07 L249.52 405.85Z" fill="#ece4f0" opacity="0.6"/><path d="M248.43 407.60 L247.98 409.08 L247.35 410.39 L246.67 411.54 L246.04 412.65 L245.46 413.81 L244.83 415.06 L244.03 416.28 L243.01 417.28 L241.80 417.89 L240.50 418.05 L239.21 417.83 L237.97 417.36 L236.79 416.72 L235.67 415.92 L234.66 414.92 L233.83 413.68 L233.24 412.24 L232.90 410.69 L232.77 409.14 L232.75 407.60 L232.83 406.08 L233.04 404.56 L233.46 403.11 L234.15 401.82 L235.08 400.80 L236.14 400.08 L237.23 399.57 L238.30 399.11 L239.36 398.61 L240.50 398.09 L241.75 397.70 L243.09 397.63 L244.41 397.99 L245.61 398.79 L246.62 399.93 L247.44 401.28 L248.06 402.78 L248.46 404.36 L248.59 405.99Z" fill="#9a70c8" opacity="0.55"/><path d="M247.52 407.60 L247.18 408.96 L246.68 410.18 L246.12 411.28 L245.56 412.33 L245.01 413.39 L244.39 414.48 L243.64 415.52 L242.71 416.35 L241.64 416.86 L240.50 417.00 L239.36 416.82 L238.27 416.41 L237.23 415.84 L236.26 415.11 L235.37 414.19 L234.64 413.08 L234.10 411.79 L233.78 410.41 L233.63 409.00 L233.61 407.60 L233.68 406.21 L233.88 404.84 L234.27 403.52 L234.87 402.34 L235.67 401.39 L236.59 400.68 L237.55 400.15 L238.51 399.71 L239.48 399.28 L240.50 398.88 L241.61 398.62 L242.77 398.63 L243.91 399.01 L244.94 399.73 L245.83 400.75 L246.55 401.95 L247.10 403.27 L247.47 404.69 L247.62 406.15Z" fill="#5c1ca4"/><path d="M246.52 407.61 L246.21 408.82 L245.76 409.89 L245.26 410.84 L244.78 411.76 L244.32 412.70 L243.82 413.69 L243.19 414.64 L242.41 415.41 L241.49 415.88 L240.51 416.01 L239.53 415.85 L238.59 415.47 L237.70 414.96 L236.86 414.31 L236.09 413.50 L235.46 412.50 L235.01 411.35 L234.74 410.11 L234.63 408.86 L234.61 407.61 L234.67 406.38 L234.84 405.16 L235.16 403.98 L235.68 402.94 L236.37 402.11 L237.17 401.50 L238.00 401.06 L238.82 400.68 L239.64 400.28 L240.51 399.90 L241.46 399.62 L242.46 399.60 L243.45 399.91 L244.35 400.56 L245.11 401.47 L245.73 402.55 L246.20 403.74 L246.51 405.01 L246.63 406.32Z" fill="#2414d0"/><path d="M245.33 407.63 L245.05 408.65 L244.67 409.54 L244.26 410.33 L243.88 411.09 L243.52 411.90 L243.14 412.75 L242.66 413.59 L242.04 414.28 L241.30 414.70 L240.51 414.81 L239.73 414.66 L238.98 414.34 L238.26 413.90 L237.58 413.35 L236.96 412.66 L236.46 411.81 L236.10 410.82 L235.90 409.76 L235.81 408.69 L235.81 407.63 L235.85 406.59 L235.98 405.55 L236.24 404.55 L236.66 403.66 L237.22 402.97 L237.87 402.47 L238.53 402.12 L239.18 401.81 L239.82 401.46 L240.51 401.10 L241.27 400.83 L242.09 400.78 L242.89 401.02 L243.62 401.57 L244.24 402.36 L244.73 403.29 L245.11 404.32 L245.35 405.41 L245.43 406.53Z" fill="#2040ff"/><path d="M243.93 407.65 L243.72 408.46 L243.43 409.15 L243.12 409.76 L242.86 410.34 L242.62 410.98 L242.37 411.68 L242.04 412.38 L241.61 412.95 L241.09 413.30 L240.52 413.39 L239.96 413.27 L239.43 413.00 L238.92 412.65 L238.43 412.22 L237.99 411.67 L237.63 410.99 L237.38 410.19 L237.25 409.34 L237.20 408.49 L237.20 407.65 L237.23 406.82 L237.32 406.00 L237.49 405.20 L237.79 404.50 L238.20 403.96 L238.66 403.59 L239.14 403.33 L239.59 403.09 L240.04 402.81 L240.52 402.50 L241.06 402.24 L241.64 402.17 L242.22 402.35 L242.75 402.78 L243.19 403.41 L243.54 404.17 L243.81 404.99 L243.97 405.87 L244.02 406.77Z" fill="#14d2f2"/><path d="M242.34 407.67 L242.21 408.24 L242.05 408.71 L241.88 409.12 L241.74 409.52 L241.62 409.97 L241.50 410.48 L241.33 410.99 L241.11 411.42 L240.83 411.68 L240.53 411.75 L240.23 411.65 L239.95 411.46 L239.68 411.21 L239.42 410.91 L239.19 410.52 L238.99 410.04 L238.86 409.47 L238.80 408.87 L238.77 408.26 L238.78 407.67 L238.79 407.09 L238.84 406.51 L238.93 405.95 L239.09 405.46 L239.31 405.09 L239.56 404.85 L239.81 404.68 L240.05 404.52 L240.28 404.31 L240.53 404.07 L240.82 403.86 L241.13 403.78 L241.44 403.90 L241.73 404.20 L241.96 404.65 L242.15 405.19 L242.29 405.79 L242.38 406.41 L242.40 407.05Z" fill="#3ce04a"/></g>
<g filter="url(#bl2)"><path d="M276.04 407.50 L275.55 409.00 L274.93 410.37 L274.33 411.70 L273.78 413.10 L273.14 414.58 L272.25 416.01 L270.99 417.21 L269.44 417.97 L267.72 418.28 L266.00 418.21 L264.33 417.92 L262.72 417.48 L261.18 416.87 L259.77 415.99 L258.62 414.80 L257.82 413.39 L257.33 411.87 L257.02 410.39 L256.72 408.96 L256.38 407.50 L256.10 405.95 L256.08 404.31 L256.49 402.70 L257.37 401.29 L258.60 400.17 L259.98 399.30 L261.40 398.56 L262.84 397.87 L264.36 397.26 L266.00 396.88 L267.70 396.89 L269.33 397.35 L270.80 398.18 L272.07 399.23 L273.21 400.36 L274.27 401.55 L275.21 402.85 L275.90 404.31 L276.19 405.90Z" fill="#ece4f0" opacity="0.6"/><path d="M275.16 407.50 L274.72 408.87 L274.15 410.12 L273.60 411.33 L273.10 412.60 L272.52 413.95 L271.70 415.26 L270.56 416.35 L269.14 417.05 L267.57 417.33 L266.00 417.27 L264.48 417.00 L263.01 416.60 L261.60 416.04 L260.32 415.24 L259.27 414.16 L258.53 412.87 L258.09 411.49 L257.80 410.13 L257.53 408.83 L257.22 407.50 L256.97 406.08 L256.95 404.59 L257.32 403.13 L258.13 401.84 L259.24 400.82 L260.51 400.02 L261.80 399.35 L263.12 398.72 L264.51 398.16 L266.00 397.82 L267.55 397.82 L269.04 398.24 L270.38 399.00 L271.54 399.96 L272.58 400.99 L273.55 402.07 L274.41 403.26 L275.04 404.60 L275.30 406.04Z" fill="#9a70c8" opacity="0.55"/><path d="M274.33 407.50 L273.99 408.75 L273.51 409.91 L273.02 411.03 L272.51 412.18 L271.92 413.35 L271.12 414.47 L270.07 415.39 L268.79 416.00 L267.40 416.26 L266.00 416.24 L264.63 416.02 L263.31 415.67 L262.05 415.17 L260.89 414.45 L259.93 413.50 L259.22 412.37 L258.76 411.14 L258.45 409.92 L258.20 408.72 L257.95 407.50 L257.79 406.21 L257.83 404.88 L258.21 403.58 L258.93 402.42 L259.91 401.48 L261.03 400.74 L262.19 400.11 L263.39 399.56 L264.65 399.09 L266.00 398.82 L267.39 398.85 L268.72 399.21 L269.94 399.86 L271.01 400.69 L271.96 401.61 L272.84 402.59 L273.60 403.67 L274.15 404.88 L274.41 406.18Z" fill="#5c1ca4"/><path d="M273.13 407.51 L272.81 408.55 L272.39 409.52 L271.97 410.46 L271.57 411.43 L271.09 412.44 L270.44 413.41 L269.56 414.22 L268.48 414.74 L267.29 414.96 L266.09 414.93 L264.93 414.74 L263.81 414.43 L262.73 414.01 L261.75 413.40 L260.94 412.58 L260.36 411.61 L260.00 410.57 L259.76 409.53 L259.55 408.53 L259.32 407.51 L259.15 406.42 L259.16 405.29 L259.47 404.18 L260.08 403.20 L260.93 402.41 L261.88 401.79 L262.87 401.27 L263.88 400.80 L264.95 400.39 L266.09 400.14 L267.27 400.15 L268.41 400.47 L269.44 401.03 L270.33 401.75 L271.14 402.53 L271.88 403.36 L272.53 404.27 L273.01 405.29 L273.21 406.39Z" fill="#2040ff"/><path d="M271.57 407.51 L271.30 408.30 L270.96 409.03 L270.64 409.73 L270.35 410.47 L270.02 411.26 L269.55 412.02 L268.88 412.66 L268.05 413.07 L267.13 413.23 L266.21 413.19 L265.32 413.04 L264.46 412.80 L263.63 412.48 L262.88 412.01 L262.27 411.38 L261.84 410.63 L261.59 409.82 L261.43 409.04 L261.28 408.28 L261.09 407.51 L260.93 406.69 L260.91 405.82 L261.13 404.97 L261.60 404.22 L262.26 403.63 L263.00 403.17 L263.76 402.78 L264.52 402.42 L265.34 402.09 L266.21 401.88 L267.12 401.88 L267.99 402.13 L268.77 402.57 L269.45 403.13 L270.06 403.73 L270.63 404.36 L271.13 405.05 L271.50 405.82 L271.65 406.67Z" fill="#14d2f2"/><path d="M270.29 407.52 L270.07 408.10 L269.81 408.63 L269.58 409.14 L269.37 409.69 L269.14 410.28 L268.81 410.87 L268.32 411.36 L267.69 411.67 L267.00 411.79 L266.31 411.75 L265.64 411.62 L265.00 411.45 L264.38 411.21 L263.82 410.86 L263.37 410.39 L263.06 409.82 L262.89 409.22 L262.78 408.64 L262.67 408.08 L262.52 407.52 L262.38 406.91 L262.35 406.26 L262.50 405.63 L262.86 405.07 L263.36 404.64 L263.92 404.30 L264.48 404.02 L265.05 403.75 L265.66 403.49 L266.31 403.33 L266.99 403.32 L267.64 403.51 L268.22 403.85 L268.73 404.27 L269.17 404.72 L269.60 405.19 L269.98 405.69 L270.26 406.27 L270.37 406.89Z" fill="#3ce04a"/><path d="M268.84 407.52 L268.70 407.87 L268.53 408.18 L268.39 408.49 L268.27 408.82 L268.15 409.18 L267.95 409.54 L267.65 409.85 L267.27 410.04 L266.85 410.11 L266.42 410.08 L266.01 410.00 L265.62 409.89 L265.24 409.75 L264.90 409.54 L264.62 409.25 L264.45 408.90 L264.35 408.54 L264.30 408.19 L264.23 407.86 L264.13 407.52 L264.04 407.16 L264.00 406.77 L264.09 406.38 L264.31 406.05 L264.62 405.79 L264.96 405.60 L265.31 405.43 L265.66 405.26 L266.02 405.10 L266.42 405.00 L266.84 404.99 L267.24 405.11 L267.59 405.32 L267.90 405.58 L268.17 405.85 L268.42 406.13 L268.66 406.43 L268.83 406.77 L268.90 407.15Z" fill="#f0ee22"/></g>
<rect x="194.3" y="434.2" width="26" height="1" fill="#8a8a8a"/>
<text x="278.7" y="358.3" font-size="8.1" text-anchor="end" font-weight="bold" fill="#fff" >13 d</text>
</g>
<line x1="10" y1="170.7" x2="101" y2="170.7" stroke="#111" stroke-width="1.3"/>
<line x1="10.2" y1="170.7" x2="10.2" y2="176" stroke="#111" stroke-width="1.3"/>
<line x1="100.8" y1="170.7" x2="100.8" y2="176" stroke="#111" stroke-width="1.3"/>
<text x="53.4" y="168.8" font-size="8.5" text-anchor="middle" font-weight="bold" fill="#111" stroke="#111" stroke-width="0.2">pAU dose</text>
<text x="0" y="161.6" font-size="14" text-anchor="start" font-weight="normal" fill="#111" stroke="#111" stroke-width="0.75">C</text>
<rect x="286.3" y="174.3" width="4.5" height="235.2" fill="url(#cb)" stroke="#444" stroke-width="0.35"/>
<line x1="290.8" y1="176" x2="292" y2="176" stroke="#888" stroke-width="0.4"/>
<line x1="290.8" y1="190.5" x2="292" y2="190.5" stroke="#888" stroke-width="0.4"/>
<line x1="290.8" y1="205.8" x2="292" y2="205.8" stroke="#888" stroke-width="0.4"/>
<line x1="290.8" y1="242.7" x2="292" y2="242.7" stroke="#888" stroke-width="0.4"/>
<line x1="290.8" y1="300.5" x2="292" y2="300.5" stroke="#888" stroke-width="0.4"/>
<line x1="290.8" y1="309" x2="292" y2="309" stroke="#888" stroke-width="0.4"/>
<line x1="290.8" y1="317" x2="292" y2="317" stroke="#888" stroke-width="0.4"/>
<line x1="290.8" y1="323" x2="292" y2="323" stroke="#888" stroke-width="0.4"/>
<line x1="290.8" y1="335.4" x2="292" y2="335.4" stroke="#888" stroke-width="0.4"/>
<line x1="290.8" y1="352" x2="292" y2="352" stroke="#888" stroke-width="0.4"/>
<line x1="290.8" y1="379.7" x2="292" y2="379.7" stroke="#888" stroke-width="0.4"/>
<text x="292.5" y="292.5" font-size="3.0" text-anchor="start" font-weight="normal" fill="#777" >×10<tspan font-size="2.2" dy="-1.4">7</tspan></text>
<text x="287.3" y="414.3" font-size="3.0" text-anchor="start" font-weight="normal" fill="#777" >Radiance</text>
<text x="286.9" y="418.3" font-size="2.9" text-anchor="start" font-weight="normal" fill="#777" >(p/sec/cm²/sr)</text>
<rect x="286.2" y="421.2" width="21.3" height="13.2" fill="#fff" stroke="#777" stroke-width="0.5"/>
<text x="287.8" y="425.3" font-size="2.9" text-anchor="start" font-weight="normal" fill="#777" >Color Scale</text>
<text x="287.8" y="428.7" font-size="2.9" text-anchor="start" font-weight="normal" fill="#777" >Min = 2.00e6</text>
<text x="287.8" y="432.1" font-size="2.9" text-anchor="start" font-weight="normal" fill="#777" >Max = 5.00e6</text>
</svg>
</body></html>
